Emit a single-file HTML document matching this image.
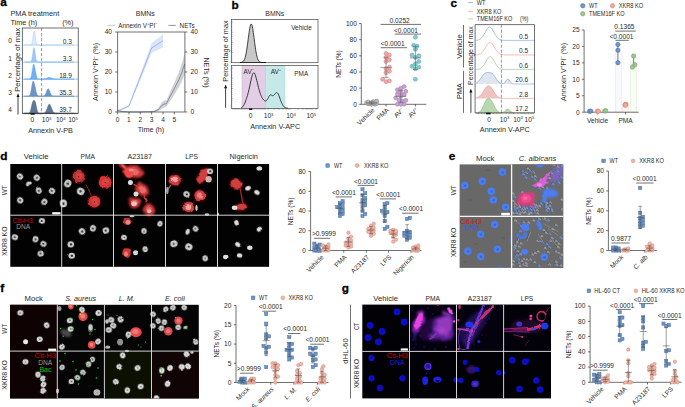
<!DOCTYPE html>
<html lang="en"><head><meta charset="utf-8"><title>Figure</title>
<style>
html,body{margin:0;padding:0;background:#fff;}
body{width:685px;height:407px;overflow:hidden;}
svg{display:block;font-family:"Liberation Sans", Arial, sans-serif;}
</style></head><body>
<svg width="685" height="407" viewBox="0 0 685 407">
<defs>
<filter id="b1" x="-30%" y="-30%" width="160%" height="160%"><feGaussianBlur stdDeviation="0.45"/></filter>
<filter id="b2" x="-30%" y="-30%" width="160%" height="160%"><feGaussianBlur stdDeviation="0.6"/></filter>
<filter id="b3" x="-30%" y="-30%" width="160%" height="160%"><feGaussianBlur stdDeviation="1.1"/></filter>
<radialGradient id="gRed"><stop offset="0" stop-color="#ff7070"/><stop offset="0.6" stop-color="#e83a3a"/><stop offset="1" stop-color="#a01515" stop-opacity="0.7"/></radialGradient>
<radialGradient id="gBlue"><stop offset="0" stop-color="#5a90ff"/><stop offset="0.7" stop-color="#3a6cf0"/><stop offset="1" stop-color="#3a60d0" stop-opacity="0.7"/></radialGradient>
<radialGradient id="gBlue2"><stop offset="0" stop-color="#2a30ff"/><stop offset="0.7" stop-color="#1018e8"/><stop offset="1" stop-color="#0808a0" stop-opacity="0.8"/></radialGradient>
<filter id="o1" x="-30%" y="-30%" width="160%" height="160%"><feTurbulence type="fractalNoise" baseFrequency="0.22" numOctaves="2" seed="3" result="n"/><feDisplacementMap in="SourceGraphic" in2="n" scale="3.2" xChannelSelector="R" yChannelSelector="G"/><feGaussianBlur stdDeviation="0.55"/></filter>
<filter id="o2" x="-30%" y="-30%" width="160%" height="160%"><feTurbulence type="fractalNoise" baseFrequency="0.13" numOctaves="2" seed="8" result="n"/><feDisplacementMap in="SourceGraphic" in2="n" scale="6" xChannelSelector="R" yChannelSelector="G"/><feGaussianBlur stdDeviation="0.9"/></filter>
<filter id="o3" x="-30%" y="-30%" width="160%" height="160%"><feTurbulence type="fractalNoise" baseFrequency="0.1" numOctaves="2" seed="5" result="n"/><feDisplacementMap in="SourceGraphic" in2="n" scale="8" xChannelSelector="R" yChannelSelector="G"/><feGaussianBlur stdDeviation="1.5"/></filter>
<filter id="o0" x="-30%" y="-30%" width="160%" height="160%"><feTurbulence type="fractalNoise" baseFrequency="0.3" numOctaves="2" seed="2" result="n"/><feDisplacementMap in="SourceGraphic" in2="n" scale="1.7" xChannelSelector="R" yChannelSelector="G"/><feGaussianBlur stdDeviation="0.4"/></filter>
</defs>

<rect width="685" height="407" fill="#fff"/>
<text x="0.30" y="6.25" font-size="11.8" fill="#000" font-weight="bold" stroke="#000" stroke-width="0.3">a</text>
<text x="10.40" y="16.46" font-size="7.4" fill="#2a2a2a" >PMA treatment</text>
<text x="10.40" y="25.23" font-size="7.3" fill="#2a2a2a" >Time (h)</text>
<text x="62.20" y="25.23" font-size="7.3" fill="#2a2a2a" >(%)</text>
<path d="M24.30,45.06 L24.75,45.06 L25.21,45.06 L25.66,45.06 L26.11,45.06 L26.57,45.06 L27.02,45.06 L27.48,45.06 L27.93,45.06 L28.38,45.06 L28.84,45.06 L29.29,45.06 L29.74,45.06 L30.20,45.04 L30.65,44.98 L31.10,44.79 L31.56,44.27 L32.01,43.10 L32.47,40.96 L32.92,37.85 L33.37,34.36 L33.83,31.66 L34.28,30.90 L34.73,32.44 L35.19,35.57 L35.64,39.04 L36.09,41.84 L36.55,43.61 L37.00,44.51 L37.46,44.88 L37.91,45.01 L38.36,45.05 L38.82,45.06 L39.27,45.06 L39.72,45.06 L40.18,45.06 L40.63,45.06 L41.08,45.06 L41.54,45.06 L41.99,45.06 L42.45,45.06 L42.90,45.06 L43.35,45.06 L43.81,45.06 L44.26,45.06 L44.71,45.06 L45.17,45.06 L45.62,45.06 L46.07,45.06 L46.53,45.06 L46.98,45.06 L47.44,45.06 L47.89,45.06 L48.34,45.06 L48.80,45.06 L49.25,45.06 L49.70,45.06 L50.16,45.06 L50.61,45.06 L51.06,45.06 L51.52,45.06 L51.97,45.06 L52.43,45.06 L52.88,45.06 L53.33,45.06 L53.79,45.06 L54.24,45.06 L54.69,45.06 L55.15,45.06 L55.60,45.06 L56.05,45.06 L56.51,45.06 L56.96,45.06 L57.42,45.06 L57.87,45.06 L58.32,45.06 L58.78,45.06 L59.23,45.06 L59.68,45.06 L60.14,45.06 L60.59,45.06 L61.04,45.06 L61.50,45.06 L61.95,45.06 L62.41,45.06 L62.86,45.06 L63.31,45.06 L63.77,45.06 L64.22,45.06 L64.67,45.06 L65.13,45.06 L65.58,45.06 L66.03,45.06 L66.49,45.06 L66.94,45.06 L67.40,45.06 L67.85,45.06 L68.30,45.06 L68.76,45.06 L69.21,45.06 L69.66,45.06 L70.12,45.06 L70.57,45.06 L71.02,45.06 L71.48,45.06 L71.93,45.06 L72.39,45.06 L72.84,45.06 L73.29,45.06 L73.75,45.06 L74.20,45.06 L74.20,45.06 L24.30,45.06 Z" fill="#dcebfb" stroke="#a9cdf3" stroke-width="0.5" />
<line x1="22.30" y1="45.06" x2="78.20" y2="45.06" stroke="#a9cdf3" stroke-width="0.6" />
<text x="72.00" y="43.84" font-size="6.6" text-anchor="end" fill="#2a2a2a" >0.3</text>
<text x="10.20" y="43.44" font-size="6.6" text-anchor="middle" fill="#2a2a2a" >0</text>
<path d="M24.30,62.12 L24.75,62.12 L25.21,62.12 L25.66,62.12 L26.11,62.12 L26.57,62.12 L27.02,62.12 L27.48,62.12 L27.93,62.12 L28.38,62.12 L28.84,62.12 L29.29,62.12 L29.74,62.10 L30.20,62.06 L30.65,61.91 L31.10,61.51 L31.56,60.59 L32.01,58.84 L32.47,56.13 L32.92,52.73 L33.37,49.54 L33.83,47.69 L34.28,47.95 L34.73,50.21 L35.19,53.55 L35.64,56.84 L36.09,59.34 L36.55,60.87 L37.00,61.64 L37.46,61.96 L37.91,62.07 L38.36,62.11 L38.82,62.12 L39.27,62.12 L39.72,62.12 L40.18,62.12 L40.63,62.12 L41.08,62.12 L41.54,62.12 L41.99,62.12 L42.45,62.12 L42.90,62.12 L43.35,62.12 L43.81,62.12 L44.26,62.12 L44.71,62.12 L45.17,62.12 L45.62,62.12 L46.07,62.12 L46.53,62.12 L46.98,62.12 L47.44,62.12 L47.89,62.12 L48.34,62.12 L48.80,62.12 L49.25,62.12 L49.70,62.12 L50.16,62.12 L50.61,62.12 L51.06,62.12 L51.52,62.12 L51.97,62.12 L52.43,62.12 L52.88,62.12 L53.33,62.12 L53.79,62.12 L54.24,62.12 L54.69,62.12 L55.15,62.12 L55.60,62.12 L56.05,62.12 L56.51,62.12 L56.96,62.12 L57.42,62.12 L57.87,62.12 L58.32,62.12 L58.78,62.12 L59.23,62.12 L59.68,62.12 L60.14,62.12 L60.59,62.12 L61.04,62.12 L61.50,62.12 L61.95,62.12 L62.41,62.12 L62.86,62.12 L63.31,62.12 L63.77,62.12 L64.22,62.12 L64.67,62.12 L65.13,62.12 L65.58,62.12 L66.03,62.12 L66.49,62.12 L66.94,62.12 L67.40,62.12 L67.85,62.12 L68.30,62.12 L68.76,62.12 L69.21,62.12 L69.66,62.12 L70.12,62.12 L70.57,62.12 L71.02,62.12 L71.48,62.12 L71.93,62.12 L72.39,62.12 L72.84,62.12 L73.29,62.12 L73.75,62.12 L74.20,62.12 L74.20,62.12 L24.30,62.12 Z" fill="#9ec8f5" stroke="#7fb6f0" stroke-width="0.5" />
<line x1="22.30" y1="62.12" x2="78.20" y2="62.12" stroke="#7fb6f0" stroke-width="0.6" />
<text x="72.00" y="60.90" font-size="6.6" text-anchor="end" fill="#2a2a2a" >3.3</text>
<text x="10.20" y="60.50" font-size="6.6" text-anchor="middle" fill="#2a2a2a" >1</text>
<path d="M24.30,79.18 L24.75,79.18 L25.21,79.18 L25.66,79.18 L26.11,79.18 L26.57,79.18 L27.02,79.18 L27.48,79.18 L27.93,79.18 L28.38,79.18 L28.84,79.16 L29.29,79.12 L29.74,79.00 L30.20,78.71 L30.65,78.07 L31.10,76.87 L31.56,74.93 L32.01,72.25 L32.47,69.17 L32.92,66.34 L33.37,64.49 L33.83,64.06 L34.28,65.02 L34.73,66.96 L35.19,69.39 L35.64,71.95 L36.09,74.35 L36.55,76.33 L37.00,77.73 L37.46,78.56 L37.91,78.96 L38.36,79.11 L38.82,79.16 L39.27,79.18 L39.72,79.18 L40.18,79.18 L40.63,79.18 L41.08,79.17 L41.54,79.17 L41.99,79.16 L42.45,79.14 L42.90,79.12 L43.35,79.08 L43.81,79.03 L44.26,78.96 L44.71,78.86 L45.17,78.75 L45.62,78.60 L46.07,78.44 L46.53,78.26 L46.98,78.07 L47.44,77.89 L47.89,77.73 L48.34,77.60 L48.80,77.51 L49.25,77.48 L49.70,77.50 L50.16,77.58 L50.61,77.70 L51.06,77.85 L51.52,78.03 L51.97,78.22 L52.43,78.40 L52.88,78.57 L53.33,78.72 L53.79,78.84 L54.24,78.94 L54.69,79.01 L55.15,79.07 L55.60,79.11 L56.05,79.14 L56.51,79.15 L56.96,79.16 L57.42,79.17 L57.87,79.18 L58.32,79.18 L58.78,79.18 L59.23,79.18 L59.68,79.18 L60.14,79.18 L60.59,79.18 L61.04,79.18 L61.50,79.18 L61.95,79.18 L62.41,79.18 L62.86,79.18 L63.31,79.18 L63.77,79.18 L64.22,79.18 L64.67,79.18 L65.13,79.18 L65.58,79.18 L66.03,79.18 L66.49,79.18 L66.94,79.18 L67.40,79.18 L67.85,79.18 L68.30,79.18 L68.76,79.18 L69.21,79.18 L69.66,79.18 L70.12,79.18 L70.57,79.18 L71.02,79.18 L71.48,79.18 L71.93,79.18 L72.39,79.18 L72.84,79.18 L73.29,79.18 L73.75,79.18 L74.20,79.18 L74.20,79.18 L24.30,79.18 Z" fill="#6fb1f2" stroke="#5aa4ee" stroke-width="0.5" />
<line x1="22.30" y1="79.18" x2="78.20" y2="79.18" stroke="#5aa4ee" stroke-width="0.6" />
<text x="72.00" y="77.96" font-size="6.6" text-anchor="end" fill="#2a2a2a" >18.9</text>
<text x="10.20" y="77.56" font-size="6.6" text-anchor="middle" fill="#2a2a2a" >2</text>
<path d="M24.30,96.24 L24.75,96.24 L25.21,96.24 L25.66,96.24 L26.11,96.24 L26.57,96.24 L27.02,96.24 L27.48,96.24 L27.93,96.23 L28.38,96.20 L28.84,96.12 L29.29,95.91 L29.74,95.45 L30.20,94.54 L30.65,93.01 L31.10,90.78 L31.56,88.01 L32.01,85.14 L32.47,82.75 L32.92,81.33 L33.37,81.06 L33.83,81.80 L34.28,83.24 L34.73,85.11 L35.19,87.23 L35.64,89.41 L36.09,91.47 L36.55,93.21 L37.00,94.50 L37.46,95.35 L37.91,95.83 L38.36,96.07 L38.82,96.18 L39.27,96.22 L39.72,96.23 L40.18,96.24 L40.63,96.24 L41.08,96.24 L41.54,96.24 L41.99,96.23 L42.45,96.22 L42.90,96.18 L43.35,96.11 L43.81,95.98 L44.26,95.74 L44.71,95.34 L45.17,94.73 L45.62,93.90 L46.07,92.85 L46.53,91.68 L46.98,90.52 L47.44,89.55 L47.89,88.96 L48.34,88.87 L48.80,89.28 L49.25,90.13 L49.70,91.24 L50.16,92.43 L50.61,93.53 L51.06,94.45 L51.52,95.14 L51.97,95.61 L52.43,95.90 L52.88,96.07 L53.33,96.16 L53.79,96.21 L54.24,96.23 L54.69,96.23 L55.15,96.24 L55.60,96.24 L56.05,96.24 L56.51,96.24 L56.96,96.24 L57.42,96.24 L57.87,96.24 L58.32,96.24 L58.78,96.24 L59.23,96.24 L59.68,96.24 L60.14,96.24 L60.59,96.24 L61.04,96.24 L61.50,96.24 L61.95,96.24 L62.41,96.24 L62.86,96.24 L63.31,96.24 L63.77,96.24 L64.22,96.24 L64.67,96.24 L65.13,96.24 L65.58,96.24 L66.03,96.24 L66.49,96.24 L66.94,96.24 L67.40,96.24 L67.85,96.24 L68.30,96.24 L68.76,96.24 L69.21,96.24 L69.66,96.24 L70.12,96.24 L70.57,96.24 L71.02,96.24 L71.48,96.24 L71.93,96.24 L72.39,96.24 L72.84,96.24 L73.29,96.24 L73.75,96.24 L74.20,96.24 L74.20,96.24 L24.30,96.24 Z" fill="#6d95c8" stroke="#5b86bd" stroke-width="0.5" />
<line x1="22.30" y1="96.24" x2="78.20" y2="96.24" stroke="#5b86bd" stroke-width="0.6" />
<text x="72.00" y="95.02" font-size="6.6" text-anchor="end" fill="#2a2a2a" >35.3</text>
<text x="10.20" y="94.62" font-size="6.6" text-anchor="middle" fill="#2a2a2a" >3</text>
<path d="M24.30,113.30 L24.75,113.30 L25.21,113.30 L25.66,113.30 L26.11,113.30 L26.57,113.30 L27.02,113.30 L27.48,113.29 L27.93,113.26 L28.38,113.20 L28.84,113.07 L29.29,112.78 L29.74,112.26 L30.20,111.38 L30.65,110.07 L31.10,108.34 L31.56,106.32 L32.01,104.30 L32.47,102.57 L32.92,101.37 L33.37,100.71 L33.83,100.46 L34.28,100.48 L34.73,100.80 L35.19,101.63 L35.64,103.12 L36.09,105.22 L36.55,107.57 L37.00,109.70 L37.46,111.32 L37.91,112.35 L38.36,112.90 L38.82,113.16 L39.27,113.25 L39.72,113.29 L40.18,113.30 L40.63,113.30 L41.08,113.30 L41.54,113.30 L41.99,113.29 L42.45,113.28 L42.90,113.25 L43.35,113.20 L43.81,113.12 L44.26,112.96 L44.71,112.71 L45.17,112.32 L45.62,111.76 L46.07,110.99 L46.53,110.02 L46.98,108.87 L47.44,107.62 L47.89,106.38 L48.34,105.30 L48.80,104.51 L49.25,104.13 L49.70,104.21 L50.16,104.74 L50.61,105.64 L51.06,106.79 L51.52,108.05 L51.97,109.28 L52.43,110.37 L52.88,111.27 L53.33,111.97 L53.79,112.47 L54.24,112.81 L54.69,113.02 L55.15,113.15 L55.60,113.22 L56.05,113.26 L56.51,113.28 L56.96,113.29 L57.42,113.30 L57.87,113.30 L58.32,113.30 L58.78,113.30 L59.23,113.30 L59.68,113.30 L60.14,113.30 L60.59,113.30 L61.04,113.30 L61.50,113.30 L61.95,113.30 L62.41,113.30 L62.86,113.30 L63.31,113.30 L63.77,113.30 L64.22,113.30 L64.67,113.30 L65.13,113.30 L65.58,113.30 L66.03,113.30 L66.49,113.30 L66.94,113.30 L67.40,113.30 L67.85,113.30 L68.30,113.30 L68.76,113.30 L69.21,113.30 L69.66,113.30 L70.12,113.30 L70.57,113.30 L71.02,113.30 L71.48,113.30 L71.93,113.30 L72.39,113.30 L72.84,113.30 L73.29,113.30 L73.75,113.30 L74.20,113.30 L74.20,113.30 L24.30,113.30 Z" fill="#5e7896" stroke="#4c6685" stroke-width="0.5" />
<line x1="22.30" y1="113.30" x2="78.20" y2="113.30" stroke="#333" stroke-width="0.6" />
<text x="72.00" y="112.08" font-size="6.6" text-anchor="end" fill="#2a2a2a" >39.7</text>
<text x="10.20" y="111.68" font-size="6.6" text-anchor="middle" fill="#2a2a2a" >4</text>
<line x1="41.60" y1="28.00" x2="41.60" y2="113.30" stroke="#555" stroke-width="0.6" stroke-dasharray="3.2 1.8"/>
<rect x="22.30" y="28.00" width="55.90" height="85.30" fill="none" stroke="#333" stroke-width="0.7" />
<line x1="24.00" y1="113.30" x2="24.00" y2="114.50" stroke="#333" stroke-width="0.4" />
<line x1="25.50" y1="113.30" x2="25.50" y2="114.50" stroke="#333" stroke-width="0.4" />
<line x1="27.00" y1="113.30" x2="27.00" y2="114.50" stroke="#333" stroke-width="0.4" />
<line x1="28.50" y1="113.30" x2="28.50" y2="114.50" stroke="#333" stroke-width="0.4" />
<line x1="30.00" y1="113.30" x2="30.00" y2="114.50" stroke="#333" stroke-width="0.4" />
<line x1="31.50" y1="113.30" x2="31.50" y2="114.50" stroke="#333" stroke-width="0.4" />
<line x1="33.00" y1="113.30" x2="33.00" y2="114.50" stroke="#333" stroke-width="0.4" />
<line x1="34.50" y1="113.30" x2="34.50" y2="114.50" stroke="#333" stroke-width="0.4" />
<line x1="36.00" y1="113.30" x2="36.00" y2="114.50" stroke="#333" stroke-width="0.4" />
<line x1="37.50" y1="113.30" x2="37.50" y2="114.50" stroke="#333" stroke-width="0.4" />
<line x1="39.00" y1="113.30" x2="39.00" y2="114.50" stroke="#333" stroke-width="0.4" />
<line x1="40.00" y1="113.30" x2="40.00" y2="114.50" stroke="#333" stroke-width="0.4" />
<line x1="41.00" y1="113.30" x2="41.00" y2="114.50" stroke="#333" stroke-width="0.4" />
<line x1="42.00" y1="113.30" x2="42.00" y2="114.50" stroke="#333" stroke-width="0.4" />
<line x1="46.00" y1="113.30" x2="46.00" y2="114.50" stroke="#333" stroke-width="0.4" />
<line x1="50.00" y1="113.30" x2="50.00" y2="114.50" stroke="#333" stroke-width="0.4" />
<line x1="53.00" y1="113.30" x2="53.00" y2="114.50" stroke="#333" stroke-width="0.4" />
<line x1="55.00" y1="113.30" x2="55.00" y2="114.50" stroke="#333" stroke-width="0.4" />
<line x1="56.50" y1="113.30" x2="56.50" y2="114.50" stroke="#333" stroke-width="0.4" />
<line x1="58.00" y1="113.30" x2="58.00" y2="114.50" stroke="#333" stroke-width="0.4" />
<line x1="61.00" y1="113.30" x2="61.00" y2="114.50" stroke="#333" stroke-width="0.4" />
<line x1="64.00" y1="113.30" x2="64.00" y2="114.50" stroke="#333" stroke-width="0.4" />
<line x1="66.00" y1="113.30" x2="66.00" y2="114.50" stroke="#333" stroke-width="0.4" />
<line x1="67.50" y1="113.30" x2="67.50" y2="114.50" stroke="#333" stroke-width="0.4" />
<line x1="69.00" y1="113.30" x2="69.00" y2="114.50" stroke="#333" stroke-width="0.4" />
<line x1="72.00" y1="113.30" x2="72.00" y2="114.50" stroke="#333" stroke-width="0.4" />
<line x1="74.50" y1="113.30" x2="74.50" y2="114.50" stroke="#333" stroke-width="0.4" />
<line x1="76.00" y1="113.30" x2="76.00" y2="114.50" stroke="#333" stroke-width="0.4" />
<rect x="30.50" y="113.10" width="4.20" height="1.60" fill="#111" stroke="none" stroke-width="0.7" />
<text x="17.40" y="62.55" font-size="7.65" text-anchor="middle" fill="#2a2a2a" transform="rotate(-90 17.40 59.80)" >Percentage of max</text>
<line x1="18.00" y1="114.50" x2="18.00" y2="96.00" stroke="#111" stroke-width="0.8" />
<path d="M16.5,97 L18.0,93.2 L19.5,97 Z" fill="#111" stroke="none" stroke-width="0.7" />
<text x="32.30" y="122.28" font-size="6.6" text-anchor="middle" fill="#2a2a2a" >0</text>
<text x="46.60" y="122.28" font-size="6.6" text-anchor="middle" fill="#2a2a2a" >10<tspan font-size="4.2" dy="-2.4">3</tspan></text>
<text x="60.80" y="122.28" font-size="6.6" text-anchor="middle" fill="#2a2a2a" >10<tspan font-size="4.2" dy="-2.4">4</tspan></text>
<text x="73.00" y="122.28" font-size="6.6" text-anchor="middle" fill="#2a2a2a" >10<tspan font-size="4.2" dy="-2.4">5</tspan></text>
<text x="50.50" y="133.11" font-size="7.25" text-anchor="middle" fill="#2a2a2a" >Annexin V-PB</text>
<text x="145.20" y="16.26" font-size="7.4" text-anchor="middle" fill="#2a2a2a" textLength="18.90" lengthAdjust="spacingAndGlyphs" >BMNs</text>
<line x1="107.30" y1="25.40" x2="115.00" y2="25.40" stroke="#a9c0ee" stroke-width="0.8" />
<text x="118.20" y="27.67" font-size="6.3" fill="#2a2a2a" >Annexin V<tspan font-size="4.2" dy="-2.4">+</tspan><tspan dy="2.4">PI</tspan><tspan font-size="4.2" dy="-2.4">−</tspan></text>
<line x1="168.40" y1="25.40" x2="175.90" y2="25.40" stroke="#5f79a8" stroke-width="0.8" />
<text x="179.60" y="27.67" font-size="6.3" fill="#2a2a2a" >NETs</text>
<path d="M117.60,110.20 L128.96,105.00 L151.68,43.00 L163.04,34.40 L163.04,47.20 L151.68,53.00 L128.96,107.00 L117.60,111.80 Z" fill="#dbe4f8" stroke="none" stroke-width="0.7" />
<path d="M117.60,111.00 L128.96,106.00 L151.68,48.00 L163.04,40.80" fill="none" stroke="#8fa9e8" stroke-width="0.8" />
<path d="M117.60,109.20 L122.14,111.20 L128.96,111.80 L140.32,111.80 L149.41,111.40 L153.95,110.80 L158.50,108.00 L161.90,102.20 L164.18,100.40 L166.45,100.40 L169.86,92.60 L174.40,82.40 L178.94,72.00 L182.35,61.80 L184.62,53.20 L184.62,74.80 L182.35,80.20 L178.94,87.20 L174.40,94.40 L169.86,101.40 L166.45,106.80 L164.18,107.60 L161.90,108.60 L158.50,111.20 L153.95,112.00 L149.41,112.00 L140.32,112.00 L128.96,112.00 L122.14,112.00 L117.60,111.20 Z" fill="#d2d2d2" stroke="none" stroke-width="0.7" />
<path d="M117.60,110.20 L122.14,111.60 L128.96,112.00 L140.32,112.00 L149.41,111.80 L153.95,111.60 L158.50,109.60 L161.90,105.40 L164.18,104.00 L166.45,103.60 L169.86,97.00 L174.40,88.40 L178.94,79.60 L182.35,71.00 L184.62,64.00" fill="none" stroke="#64799f" stroke-width="0.75" />
<line x1="117.60" y1="32.00" x2="117.60" y2="112.00" stroke="#333" stroke-width="0.7" />
<line x1="184.90" y1="32.00" x2="184.90" y2="112.00" stroke="#333" stroke-width="0.7" />
<line x1="117.60" y1="112.00" x2="184.90" y2="112.00" stroke="#333" stroke-width="0.7" />
<line x1="117.60" y1="32.00" x2="184.90" y2="32.00" stroke="#333" stroke-width="0.7" />
<line x1="115.20" y1="112.00" x2="117.60" y2="112.00" stroke="#333" stroke-width="0.7" />
<line x1="184.90" y1="112.00" x2="187.30" y2="112.00" stroke="#333" stroke-width="0.7" />
<text x="112.00" y="114.38" font-size="6.6" text-anchor="end" fill="#2a2a2a" >0</text>
<text x="190.60" y="114.38" font-size="6.6" fill="#2a2a2a" >0</text>
<line x1="115.20" y1="92.00" x2="117.60" y2="92.00" stroke="#333" stroke-width="0.7" />
<line x1="184.90" y1="92.00" x2="187.30" y2="92.00" stroke="#333" stroke-width="0.7" />
<text x="112.00" y="94.38" font-size="6.6" text-anchor="end" fill="#2a2a2a" >10</text>
<text x="190.60" y="94.38" font-size="6.6" fill="#2a2a2a" >10</text>
<line x1="115.20" y1="72.00" x2="117.60" y2="72.00" stroke="#333" stroke-width="0.7" />
<line x1="184.90" y1="72.00" x2="187.30" y2="72.00" stroke="#333" stroke-width="0.7" />
<text x="112.00" y="74.38" font-size="6.6" text-anchor="end" fill="#2a2a2a" >20</text>
<text x="190.60" y="74.38" font-size="6.6" fill="#2a2a2a" >20</text>
<line x1="115.20" y1="52.00" x2="117.60" y2="52.00" stroke="#333" stroke-width="0.7" />
<line x1="184.90" y1="52.00" x2="187.30" y2="52.00" stroke="#333" stroke-width="0.7" />
<text x="112.00" y="54.38" font-size="6.6" text-anchor="end" fill="#2a2a2a" >30</text>
<text x="190.60" y="54.38" font-size="6.6" fill="#2a2a2a" >30</text>
<line x1="115.20" y1="32.00" x2="117.60" y2="32.00" stroke="#333" stroke-width="0.7" />
<line x1="184.90" y1="32.00" x2="187.30" y2="32.00" stroke="#333" stroke-width="0.7" />
<text x="112.00" y="34.38" font-size="6.6" text-anchor="end" fill="#2a2a2a" >40</text>
<text x="190.60" y="34.38" font-size="6.6" fill="#2a2a2a" >40</text>
<line x1="117.60" y1="112.00" x2="117.60" y2="114.40" stroke="#333" stroke-width="0.7" />
<text x="117.60" y="121.68" font-size="6.6" text-anchor="middle" fill="#2a2a2a" >0</text>
<line x1="128.96" y1="112.00" x2="128.96" y2="114.40" stroke="#333" stroke-width="0.7" />
<text x="128.96" y="121.68" font-size="6.6" text-anchor="middle" fill="#2a2a2a" >1</text>
<line x1="140.32" y1="112.00" x2="140.32" y2="114.40" stroke="#333" stroke-width="0.7" />
<text x="140.32" y="121.68" font-size="6.6" text-anchor="middle" fill="#2a2a2a" >2</text>
<line x1="151.68" y1="112.00" x2="151.68" y2="114.40" stroke="#333" stroke-width="0.7" />
<text x="151.68" y="121.68" font-size="6.6" text-anchor="middle" fill="#2a2a2a" >3</text>
<line x1="163.04" y1="112.00" x2="163.04" y2="114.40" stroke="#333" stroke-width="0.7" />
<text x="163.04" y="121.68" font-size="6.6" text-anchor="middle" fill="#2a2a2a" >4</text>
<line x1="174.40" y1="112.00" x2="174.40" y2="114.40" stroke="#333" stroke-width="0.7" />
<text x="174.40" y="121.68" font-size="6.6" text-anchor="middle" fill="#2a2a2a" >5</text>
<text x="151.00" y="132.49" font-size="7.2" text-anchor="middle" fill="#2a2a2a" >Time (h)</text>
<text x="95.60" y="74.59" font-size="7.2" text-anchor="middle" fill="#2a2a2a" transform="rotate(-90 95.60 72.00)" >Annexin V<tspan font-size="4.6" dy="-2.6">+</tspan><tspan dy="2.6">PI</tspan><tspan font-size="4.6" dy="-2.6">−</tspan><tspan dy="2.6"> (%)</tspan></text>
<text x="206.20" y="75.19" font-size="7.2" text-anchor="middle" fill="#2a2a2a" transform="rotate(90 206.20 72.60)" >NETs (%)</text>
<text x="231.60" y="9.05" font-size="11.8" fill="#000" font-weight="bold" stroke="#000" stroke-width="0.3">b</text>
<text x="274.80" y="15.66" font-size="7.4" text-anchor="middle" fill="#2a2a2a" textLength="18.90" lengthAdjust="spacingAndGlyphs" >BMNs</text>
<rect x="231.50" y="19.60" width="86.50" height="43.10" fill="none" stroke="#444" stroke-width="0.7" />
<path d="M240.00,62.46 L240.32,62.45 L240.65,62.42 L240.97,62.38 L241.30,62.33 L241.62,62.26 L241.95,62.17 L242.28,62.04 L242.60,61.87 L242.93,61.64 L243.25,61.35 L243.57,60.98 L243.90,60.51 L244.22,59.92 L244.55,59.20 L244.88,58.33 L245.20,57.29 L245.53,56.07 L245.85,54.65 L246.18,53.03 L246.50,51.22 L246.82,49.21 L247.15,47.02 L247.47,44.69 L247.80,42.24 L248.12,39.73 L248.45,37.21 L248.78,34.73 L249.10,32.37 L249.43,30.18 L249.75,28.24 L250.07,26.61 L250.40,25.34 L250.72,24.48 L251.05,24.05 L251.38,24.07 L251.70,24.53 L252.03,25.43 L252.35,26.73 L252.68,28.38 L253.00,30.34 L253.32,32.54 L253.65,34.92 L253.97,37.40 L254.30,39.93 L254.62,42.44 L254.95,44.87 L255.28,47.20 L255.60,49.37 L255.93,51.36 L256.25,53.16 L256.57,54.77 L256.90,56.17 L257.23,57.38 L257.55,58.40 L257.88,59.26 L258.20,59.97 L258.52,60.55 L258.85,61.01 L259.18,61.38 L259.50,61.66 L259.82,61.88 L260.15,62.05 L260.48,62.18 L260.80,62.27 L261.12,62.34 L261.45,62.39 L261.77,62.42 L262.10,62.45 L262.43,62.46 L262.75,62.48 L263.07,62.48 L263.40,62.49 L263.73,62.49 L264.05,62.50 L264.38,62.50 L264.70,62.50 L265.02,62.50 L265.35,62.50 L265.68,62.50 L266.00,62.50 L266.00,62.50 L240.00,62.50 Z" fill="#c8c8c8" stroke="#111" stroke-width="0.8" />
<text x="291.20" y="30.20" font-size="6.4" fill="#2a2a2a" >Vehicle</text>
<rect x="242.00" y="65.40" width="23.40" height="43.20" fill="#e2cfe6" stroke="none" stroke-width="0.7" />
<rect x="265.40" y="65.40" width="19.50" height="43.20" fill="#c5e9e9" stroke="none" stroke-width="0.7" />
<line x1="242.00" y1="65.40" x2="242.00" y2="108.60" stroke="#bfa5c6" stroke-width="0.5" />
<line x1="265.40" y1="65.40" x2="265.40" y2="108.60" stroke="#a9b9bd" stroke-width="0.5" />
<line x1="284.90" y1="65.40" x2="284.90" y2="108.60" stroke="#a5cfd0" stroke-width="0.5" />
<path d="M241.00,107.86 L241.43,107.69 L241.85,107.46 L242.28,107.15 L242.71,106.74 L243.14,106.24 L243.56,105.62 L243.99,104.89 L244.42,104.04 L244.85,103.09 L245.27,102.03 L245.70,100.89 L246.13,99.68 L246.55,98.39 L246.98,97.04 L247.41,95.62 L247.84,94.11 L248.26,92.50 L248.69,90.79 L249.12,88.98 L249.55,87.06 L249.97,85.07 L250.40,83.04 L250.83,81.02 L251.25,79.08 L251.68,77.30 L252.11,75.73 L252.54,74.45 L252.96,73.50 L253.39,72.94 L253.82,72.77 L254.25,72.99 L254.67,73.59 L255.10,74.53 L255.53,75.75 L255.95,77.21 L256.38,78.83 L256.81,80.56 L257.24,82.34 L257.66,84.12 L258.09,85.87 L258.52,87.56 L258.95,89.16 L259.37,90.66 L259.80,92.06 L260.23,93.35 L260.65,94.53 L261.08,95.61 L261.51,96.58 L261.94,97.45 L262.36,98.22 L262.79,98.90 L263.22,99.48 L263.65,99.98 L264.07,100.38 L264.50,100.68 L264.93,100.89 L265.35,100.97 L265.78,100.93 L266.21,100.73 L266.64,100.38 L267.06,99.87 L267.49,99.21 L267.92,98.44 L268.35,97.62 L268.77,96.80 L269.20,96.07 L269.63,95.49 L270.05,95.10 L270.48,94.92 L270.91,94.94 L271.34,95.10 L271.76,95.33 L272.19,95.56 L272.62,95.70 L273.05,95.71 L273.47,95.55 L273.90,95.23 L274.33,94.77 L274.75,94.24 L275.18,93.69 L275.61,93.19 L276.04,92.81 L276.46,92.61 L276.89,92.61 L277.32,92.84 L277.75,93.29 L278.17,93.97 L278.60,94.84 L279.03,95.85 L279.45,96.98 L279.88,98.18 L280.31,99.39 L280.74,100.59 L281.16,101.73 L281.59,102.80 L282.02,103.76 L282.45,104.61 L282.87,105.35 L283.30,105.97 L283.73,106.49 L284.15,106.91 L284.58,107.24 L285.01,107.50 L285.44,107.70 L285.86,107.84 L286.29,107.95 L286.72,108.03 L287.15,108.09 L287.57,108.12 L288.00,108.15" fill="none" stroke="#111" stroke-width="0.8" />
<rect x="231.50" y="65.40" width="86.50" height="43.20" fill="none" stroke="#444" stroke-width="0.7" />
<text x="243.60" y="73.50" font-size="6.4" fill="#2a2a2a" >AV<tspan font-size="4.2" dy="-2.4">−</tspan></text>
<text x="270.80" y="73.50" font-size="6.4" fill="#2a2a2a" >AV<tspan font-size="4.2" dy="-2.4">+</tspan></text>
<text x="301.30" y="76.30" font-size="6.4" text-anchor="middle" fill="#2a2a2a" >PMA</text>
<line x1="231.50" y1="22.00" x2="233.10" y2="22.00" stroke="#333" stroke-width="0.4" />
<line x1="231.50" y1="24.05" x2="232.40" y2="24.05" stroke="#333" stroke-width="0.4" />
<line x1="231.50" y1="26.10" x2="232.40" y2="26.10" stroke="#333" stroke-width="0.4" />
<line x1="231.50" y1="28.15" x2="232.40" y2="28.15" stroke="#333" stroke-width="0.4" />
<line x1="231.50" y1="30.20" x2="232.40" y2="30.20" stroke="#333" stroke-width="0.4" />
<line x1="231.50" y1="32.25" x2="233.10" y2="32.25" stroke="#333" stroke-width="0.4" />
<line x1="231.50" y1="34.30" x2="232.40" y2="34.30" stroke="#333" stroke-width="0.4" />
<line x1="231.50" y1="36.35" x2="232.40" y2="36.35" stroke="#333" stroke-width="0.4" />
<line x1="231.50" y1="38.40" x2="232.40" y2="38.40" stroke="#333" stroke-width="0.4" />
<line x1="231.50" y1="40.45" x2="232.40" y2="40.45" stroke="#333" stroke-width="0.4" />
<line x1="231.50" y1="42.50" x2="233.10" y2="42.50" stroke="#333" stroke-width="0.4" />
<line x1="231.50" y1="44.55" x2="232.40" y2="44.55" stroke="#333" stroke-width="0.4" />
<line x1="231.50" y1="46.60" x2="232.40" y2="46.60" stroke="#333" stroke-width="0.4" />
<line x1="231.50" y1="48.65" x2="232.40" y2="48.65" stroke="#333" stroke-width="0.4" />
<line x1="231.50" y1="50.70" x2="232.40" y2="50.70" stroke="#333" stroke-width="0.4" />
<line x1="231.50" y1="52.75" x2="233.10" y2="52.75" stroke="#333" stroke-width="0.4" />
<line x1="231.50" y1="54.80" x2="232.40" y2="54.80" stroke="#333" stroke-width="0.4" />
<line x1="231.50" y1="56.85" x2="232.40" y2="56.85" stroke="#333" stroke-width="0.4" />
<line x1="231.50" y1="58.90" x2="232.40" y2="58.90" stroke="#333" stroke-width="0.4" />
<line x1="231.50" y1="60.95" x2="232.40" y2="60.95" stroke="#333" stroke-width="0.4" />
<line x1="231.50" y1="68.00" x2="233.10" y2="68.00" stroke="#333" stroke-width="0.4" />
<line x1="231.50" y1="70.05" x2="232.40" y2="70.05" stroke="#333" stroke-width="0.4" />
<line x1="231.50" y1="72.10" x2="232.40" y2="72.10" stroke="#333" stroke-width="0.4" />
<line x1="231.50" y1="74.15" x2="232.40" y2="74.15" stroke="#333" stroke-width="0.4" />
<line x1="231.50" y1="76.20" x2="232.40" y2="76.20" stroke="#333" stroke-width="0.4" />
<line x1="231.50" y1="78.25" x2="233.10" y2="78.25" stroke="#333" stroke-width="0.4" />
<line x1="231.50" y1="80.30" x2="232.40" y2="80.30" stroke="#333" stroke-width="0.4" />
<line x1="231.50" y1="82.35" x2="232.40" y2="82.35" stroke="#333" stroke-width="0.4" />
<line x1="231.50" y1="84.40" x2="232.40" y2="84.40" stroke="#333" stroke-width="0.4" />
<line x1="231.50" y1="86.45" x2="232.40" y2="86.45" stroke="#333" stroke-width="0.4" />
<line x1="231.50" y1="88.50" x2="233.10" y2="88.50" stroke="#333" stroke-width="0.4" />
<line x1="231.50" y1="90.55" x2="232.40" y2="90.55" stroke="#333" stroke-width="0.4" />
<line x1="231.50" y1="92.60" x2="232.40" y2="92.60" stroke="#333" stroke-width="0.4" />
<line x1="231.50" y1="94.65" x2="232.40" y2="94.65" stroke="#333" stroke-width="0.4" />
<line x1="231.50" y1="96.70" x2="232.40" y2="96.70" stroke="#333" stroke-width="0.4" />
<line x1="231.50" y1="98.75" x2="233.10" y2="98.75" stroke="#333" stroke-width="0.4" />
<line x1="231.50" y1="100.80" x2="232.40" y2="100.80" stroke="#333" stroke-width="0.4" />
<line x1="231.50" y1="102.85" x2="232.40" y2="102.85" stroke="#333" stroke-width="0.4" />
<line x1="231.50" y1="104.90" x2="232.40" y2="104.90" stroke="#333" stroke-width="0.4" />
<line x1="231.50" y1="106.95" x2="232.40" y2="106.95" stroke="#333" stroke-width="0.4" />
<line x1="233.00" y1="108.60" x2="233.00" y2="109.90" stroke="#333" stroke-width="0.4" />
<line x1="235.00" y1="108.60" x2="235.00" y2="109.90" stroke="#333" stroke-width="0.4" />
<line x1="237.00" y1="108.60" x2="237.00" y2="109.90" stroke="#333" stroke-width="0.4" />
<line x1="239.00" y1="108.60" x2="239.00" y2="109.90" stroke="#333" stroke-width="0.4" />
<line x1="241.00" y1="108.60" x2="241.00" y2="109.90" stroke="#333" stroke-width="0.4" />
<line x1="243.00" y1="108.60" x2="243.00" y2="109.90" stroke="#333" stroke-width="0.4" />
<line x1="245.00" y1="108.60" x2="245.00" y2="109.90" stroke="#333" stroke-width="0.4" />
<line x1="247.00" y1="108.60" x2="247.00" y2="109.90" stroke="#333" stroke-width="0.4" />
<line x1="249.00" y1="108.60" x2="249.00" y2="109.90" stroke="#333" stroke-width="0.4" />
<line x1="251.00" y1="108.60" x2="251.00" y2="109.90" stroke="#333" stroke-width="0.4" />
<line x1="253.00" y1="108.60" x2="253.00" y2="109.90" stroke="#333" stroke-width="0.4" />
<line x1="255.00" y1="108.60" x2="255.00" y2="109.90" stroke="#333" stroke-width="0.4" />
<line x1="257.00" y1="108.60" x2="257.00" y2="109.90" stroke="#333" stroke-width="0.4" />
<line x1="259.00" y1="108.60" x2="259.00" y2="109.90" stroke="#333" stroke-width="0.4" />
<line x1="261.00" y1="108.60" x2="261.00" y2="109.90" stroke="#333" stroke-width="0.4" />
<line x1="263.00" y1="108.60" x2="263.00" y2="109.90" stroke="#333" stroke-width="0.4" />
<line x1="265.00" y1="108.60" x2="265.00" y2="109.90" stroke="#333" stroke-width="0.4" />
<line x1="268.00" y1="108.60" x2="268.00" y2="109.90" stroke="#333" stroke-width="0.4" />
<line x1="274.00" y1="108.60" x2="274.00" y2="109.90" stroke="#333" stroke-width="0.4" />
<line x1="279.00" y1="108.60" x2="279.00" y2="109.90" stroke="#333" stroke-width="0.4" />
<line x1="283.00" y1="108.60" x2="283.00" y2="109.90" stroke="#333" stroke-width="0.4" />
<line x1="286.00" y1="108.60" x2="286.00" y2="109.90" stroke="#333" stroke-width="0.4" />
<line x1="288.00" y1="108.60" x2="288.00" y2="109.90" stroke="#333" stroke-width="0.4" />
<line x1="290.00" y1="108.60" x2="290.00" y2="109.90" stroke="#333" stroke-width="0.4" />
<line x1="298.00" y1="108.60" x2="298.00" y2="109.90" stroke="#333" stroke-width="0.4" />
<line x1="303.00" y1="108.60" x2="303.00" y2="109.90" stroke="#333" stroke-width="0.4" />
<line x1="306.00" y1="108.60" x2="306.00" y2="109.90" stroke="#333" stroke-width="0.4" />
<line x1="308.00" y1="108.60" x2="308.00" y2="109.90" stroke="#333" stroke-width="0.4" />
<line x1="310.00" y1="108.60" x2="310.00" y2="109.90" stroke="#333" stroke-width="0.4" />
<line x1="312.00" y1="108.60" x2="312.00" y2="109.90" stroke="#333" stroke-width="0.4" />
<line x1="316.00" y1="108.60" x2="316.00" y2="109.90" stroke="#333" stroke-width="0.4" />
<rect x="249.20" y="108.40" width="3.00" height="1.60" fill="#111" stroke="none" stroke-width="0.7" />
<text x="250.60" y="118.08" font-size="6.6" text-anchor="middle" fill="#2a2a2a" >0</text>
<text x="268.60" y="118.08" font-size="6.6" text-anchor="middle" fill="#2a2a2a" >10<tspan font-size="4.2" dy="-2.4">3</tspan></text>
<text x="291.00" y="118.08" font-size="6.6" text-anchor="middle" fill="#2a2a2a" >10<tspan font-size="4.2" dy="-2.4">4</tspan></text>
<text x="311.30" y="118.08" font-size="6.6" text-anchor="middle" fill="#2a2a2a" >10<tspan font-size="4.2" dy="-2.4">5</tspan></text>
<text x="275.20" y="129.01" font-size="7.25" text-anchor="middle" fill="#2a2a2a" >Annexin V-APC</text>
<text x="225.60" y="53.63" font-size="7.3" text-anchor="middle" fill="#2a2a2a" transform="rotate(-90 225.60 51.00)" >Percentage of max</text>
<line x1="225.60" y1="107.80" x2="225.60" y2="87.00" stroke="#111" stroke-width="0.8" />
<path d="M224.1,88.3 L225.6,84.4 L227.1,88.3 Z" fill="#111" stroke="none" stroke-width="0.7" />
<line x1="361.30" y1="23.50" x2="361.30" y2="104.30" stroke="#333" stroke-width="0.7" />
<line x1="359.10" y1="104.30" x2="361.30" y2="104.30" stroke="#333" stroke-width="0.7" />
<text x="356.90" y="106.68" font-size="6.6" text-anchor="end" fill="#2a2a2a" >0</text>
<line x1="359.10" y1="88.14" x2="361.30" y2="88.14" stroke="#333" stroke-width="0.7" />
<text x="356.90" y="90.52" font-size="6.6" text-anchor="end" fill="#2a2a2a" >20</text>
<line x1="359.10" y1="71.98" x2="361.30" y2="71.98" stroke="#333" stroke-width="0.7" />
<text x="356.90" y="74.36" font-size="6.6" text-anchor="end" fill="#2a2a2a" >40</text>
<line x1="359.10" y1="55.82" x2="361.30" y2="55.82" stroke="#333" stroke-width="0.7" />
<text x="356.90" y="58.20" font-size="6.6" text-anchor="end" fill="#2a2a2a" >60</text>
<line x1="359.10" y1="39.66" x2="361.30" y2="39.66" stroke="#333" stroke-width="0.7" />
<text x="356.90" y="42.04" font-size="6.6" text-anchor="end" fill="#2a2a2a" >80</text>
<line x1="359.10" y1="23.50" x2="361.30" y2="23.50" stroke="#333" stroke-width="0.7" />
<text x="356.90" y="25.88" font-size="6.6" text-anchor="end" fill="#2a2a2a" >100</text>
<line x1="361.30" y1="104.30" x2="426.30" y2="104.30" stroke="#333" stroke-width="0.7" />
<text x="338.60" y="66.63" font-size="7.3" text-anchor="middle" fill="#2a2a2a" textLength="27.50" lengthAdjust="spacingAndGlyphs" transform="rotate(-90 338.60 64.00)" >NETs (%)</text>
<line x1="371.60" y1="104.30" x2="371.60" y2="106.50" stroke="#333" stroke-width="0.7" />
<circle cx="371.60" cy="104.30" r="2.00" fill="#b4b4b4" stroke="#8a8a8a" stroke-width="0.5" />
<circle cx="375.00" cy="104.30" r="2.00" fill="#b4b4b4" stroke="#8a8a8a" stroke-width="0.5" />
<circle cx="368.20" cy="103.90" r="2.00" fill="#b4b4b4" stroke="#8a8a8a" stroke-width="0.5" />
<circle cx="373.30" cy="103.49" r="2.00" fill="#b4b4b4" stroke="#8a8a8a" stroke-width="0.5" />
<circle cx="376.70" cy="103.49" r="2.00" fill="#b4b4b4" stroke="#8a8a8a" stroke-width="0.5" />
<circle cx="369.90" cy="103.09" r="2.00" fill="#b4b4b4" stroke="#8a8a8a" stroke-width="0.5" />
<circle cx="366.50" cy="102.68" r="2.00" fill="#b4b4b4" stroke="#8a8a8a" stroke-width="0.5" />
<circle cx="371.60" cy="102.68" r="2.00" fill="#b4b4b4" stroke="#8a8a8a" stroke-width="0.5" />
<circle cx="375.00" cy="102.28" r="2.00" fill="#b4b4b4" stroke="#8a8a8a" stroke-width="0.5" />
<circle cx="368.20" cy="101.88" r="2.00" fill="#b4b4b4" stroke="#8a8a8a" stroke-width="0.5" />
<circle cx="373.30" cy="101.47" r="2.00" fill="#b4b4b4" stroke="#8a8a8a" stroke-width="0.5" />
<circle cx="376.70" cy="101.07" r="2.00" fill="#b4b4b4" stroke="#8a8a8a" stroke-width="0.5" />
<line x1="371.60" y1="101.82" x2="371.60" y2="103.95" stroke="#555" stroke-width="0.55" />
<line x1="369.10" y1="101.82" x2="374.10" y2="101.82" stroke="#555" stroke-width="0.55" />
<line x1="369.10" y1="103.95" x2="374.10" y2="103.95" stroke="#555" stroke-width="0.55" />
<line x1="366.10" y1="102.89" x2="377.10" y2="102.89" stroke="#555" stroke-width="0.55" />
<line x1="386.00" y1="104.30" x2="386.00" y2="106.50" stroke="#333" stroke-width="0.7" />
<circle cx="386.00" cy="81.68" r="2.00" fill="#f4a9a9" stroke="#c9787a" stroke-width="0.5" />
<circle cx="389.40" cy="80.87" r="2.00" fill="#f4a9a9" stroke="#c9787a" stroke-width="0.5" />
<circle cx="382.60" cy="79.25" r="2.00" fill="#f4a9a9" stroke="#c9787a" stroke-width="0.5" />
<circle cx="386.00" cy="72.79" r="2.00" fill="#f4a9a9" stroke="#c9787a" stroke-width="0.5" />
<circle cx="389.40" cy="71.17" r="2.00" fill="#f4a9a9" stroke="#c9787a" stroke-width="0.5" />
<circle cx="386.00" cy="68.75" r="2.00" fill="#f4a9a9" stroke="#c9787a" stroke-width="0.5" />
<circle cx="389.40" cy="67.13" r="2.00" fill="#f4a9a9" stroke="#c9787a" stroke-width="0.5" />
<circle cx="386.00" cy="61.48" r="2.00" fill="#f4a9a9" stroke="#c9787a" stroke-width="0.5" />
<circle cx="389.40" cy="59.86" r="2.00" fill="#f4a9a9" stroke="#c9787a" stroke-width="0.5" />
<circle cx="386.00" cy="57.44" r="2.00" fill="#f4a9a9" stroke="#c9787a" stroke-width="0.5" />
<circle cx="389.40" cy="55.01" r="2.00" fill="#f4a9a9" stroke="#c9787a" stroke-width="0.5" />
<circle cx="386.00" cy="53.40" r="2.00" fill="#f4a9a9" stroke="#c9787a" stroke-width="0.5" />
<line x1="386.00" y1="57.35" x2="386.00" y2="77.45" stroke="#555" stroke-width="0.55" />
<line x1="383.50" y1="57.35" x2="388.50" y2="57.35" stroke="#555" stroke-width="0.55" />
<line x1="383.50" y1="77.45" x2="388.50" y2="77.45" stroke="#555" stroke-width="0.55" />
<line x1="380.50" y1="67.40" x2="391.50" y2="67.40" stroke="#555" stroke-width="0.55" />
<line x1="400.80" y1="104.30" x2="400.80" y2="106.50" stroke="#333" stroke-width="0.7" />
<circle cx="400.80" cy="104.30" r="2.00" fill="#c9a3d2" stroke="#9a78a6" stroke-width="0.5" />
<circle cx="404.20" cy="104.30" r="2.00" fill="#c9a3d2" stroke="#9a78a6" stroke-width="0.5" />
<circle cx="397.40" cy="104.30" r="2.00" fill="#c9a3d2" stroke="#9a78a6" stroke-width="0.5" />
<circle cx="402.50" cy="101.07" r="2.00" fill="#c9a3d2" stroke="#9a78a6" stroke-width="0.5" />
<circle cx="399.10" cy="100.26" r="2.00" fill="#c9a3d2" stroke="#9a78a6" stroke-width="0.5" />
<circle cx="405.90" cy="100.26" r="2.00" fill="#c9a3d2" stroke="#9a78a6" stroke-width="0.5" />
<circle cx="395.70" cy="97.84" r="2.00" fill="#c9a3d2" stroke="#9a78a6" stroke-width="0.5" />
<circle cx="400.80" cy="96.22" r="2.00" fill="#c9a3d2" stroke="#9a78a6" stroke-width="0.5" />
<circle cx="404.20" cy="94.60" r="2.00" fill="#c9a3d2" stroke="#9a78a6" stroke-width="0.5" />
<circle cx="397.40" cy="93.80" r="2.00" fill="#c9a3d2" stroke="#9a78a6" stroke-width="0.5" />
<circle cx="400.80" cy="92.18" r="2.00" fill="#c9a3d2" stroke="#9a78a6" stroke-width="0.5" />
<circle cx="405.90" cy="91.37" r="2.00" fill="#c9a3d2" stroke="#9a78a6" stroke-width="0.5" />
<circle cx="397.40" cy="89.76" r="2.00" fill="#c9a3d2" stroke="#9a78a6" stroke-width="0.5" />
<circle cx="400.80" cy="88.14" r="2.00" fill="#c9a3d2" stroke="#9a78a6" stroke-width="0.5" />
<circle cx="404.20" cy="86.52" r="2.00" fill="#c9a3d2" stroke="#9a78a6" stroke-width="0.5" />
<line x1="400.80" y1="90.33" x2="400.80" y2="102.33" stroke="#555" stroke-width="0.55" />
<line x1="398.30" y1="90.33" x2="403.30" y2="90.33" stroke="#555" stroke-width="0.55" />
<line x1="398.30" y1="102.33" x2="403.30" y2="102.33" stroke="#555" stroke-width="0.55" />
<line x1="395.30" y1="96.33" x2="406.30" y2="96.33" stroke="#555" stroke-width="0.55" />
<line x1="415.40" y1="104.30" x2="415.40" y2="106.50" stroke="#333" stroke-width="0.7" />
<circle cx="415.40" cy="79.25" r="2.00" fill="#85cdd3" stroke="#4f9ea6" stroke-width="0.5" />
<circle cx="415.40" cy="68.75" r="2.00" fill="#85cdd3" stroke="#4f9ea6" stroke-width="0.5" />
<circle cx="418.80" cy="67.13" r="2.00" fill="#85cdd3" stroke="#4f9ea6" stroke-width="0.5" />
<circle cx="412.00" cy="66.32" r="2.00" fill="#85cdd3" stroke="#4f9ea6" stroke-width="0.5" />
<circle cx="415.40" cy="63.90" r="2.00" fill="#85cdd3" stroke="#4f9ea6" stroke-width="0.5" />
<circle cx="418.80" cy="61.48" r="2.00" fill="#85cdd3" stroke="#4f9ea6" stroke-width="0.5" />
<circle cx="415.40" cy="57.44" r="2.00" fill="#85cdd3" stroke="#4f9ea6" stroke-width="0.5" />
<circle cx="418.80" cy="55.82" r="2.00" fill="#85cdd3" stroke="#4f9ea6" stroke-width="0.5" />
<circle cx="412.00" cy="55.01" r="2.00" fill="#85cdd3" stroke="#4f9ea6" stroke-width="0.5" />
<circle cx="415.40" cy="49.36" r="2.00" fill="#85cdd3" stroke="#4f9ea6" stroke-width="0.5" />
<circle cx="417.10" cy="46.12" r="2.00" fill="#85cdd3" stroke="#4f9ea6" stroke-width="0.5" />
<circle cx="413.70" cy="45.32" r="2.00" fill="#85cdd3" stroke="#4f9ea6" stroke-width="0.5" />
<circle cx="415.40" cy="37.24" r="2.00" fill="#85cdd3" stroke="#4f9ea6" stroke-width="0.5" />
<line x1="415.40" y1="46.43" x2="415.40" y2="69.44" stroke="#555" stroke-width="0.55" />
<line x1="412.90" y1="46.43" x2="417.90" y2="46.43" stroke="#555" stroke-width="0.55" />
<line x1="412.90" y1="69.44" x2="417.90" y2="69.44" stroke="#555" stroke-width="0.55" />
<line x1="409.90" y1="57.93" x2="420.90" y2="57.93" stroke="#555" stroke-width="0.55" />
<text x="374.90" y="110.60" font-size="6.6" fill="#2a2a2a" text-anchor="end" transform="rotate(-45 374.90 110.60)">Vehicle</text>
<text x="389.30" y="110.60" font-size="6.6" fill="#2a2a2a" text-anchor="end" transform="rotate(-45 389.30 110.60)">PMA</text>
<text x="404.1" y="110.6" font-size="6.6" fill="#2a2a2a" text-anchor="end" transform="rotate(-45 404.1 110.6)">AV<tspan font-size="4.2" dy="-2.4">−</tspan></text>
<text x="418.7" y="110.6" font-size="6.6" fill="#2a2a2a" text-anchor="end" transform="rotate(-45 418.7 110.6)">AV<tspan font-size="4.2" dy="-2.4">+</tspan></text>
<text x="399.70" y="23.08" font-size="6.6" text-anchor="middle" fill="#2a2a2a" >0.0252</text>
<line x1="380.50" y1="24.40" x2="421.00" y2="24.40" stroke="#333" stroke-width="0.7" />
<text x="406.00" y="32.68" font-size="6.6" text-anchor="middle" fill="#2a2a2a" >&lt;0.0001</text>
<line x1="394.70" y1="34.10" x2="421.00" y2="34.10" stroke="#333" stroke-width="0.7" />
<text x="392.70" y="46.48" font-size="6.6" text-anchor="middle" fill="#2a2a2a" >&lt;0.0001</text>
<line x1="380.70" y1="47.70" x2="407.00" y2="47.70" stroke="#333" stroke-width="0.7" />
<text x="450.60" y="6.65" font-size="11.8" fill="#000" font-weight="bold" stroke="#000" stroke-width="0.3">c</text>
<line x1="468.40" y1="2.50" x2="472.80" y2="2.50" stroke="#7f9fd0" stroke-width="0.8" />
<line x1="468.40" y1="11.40" x2="472.80" y2="11.40" stroke="#ee9a8a" stroke-width="0.8" />
<line x1="468.40" y1="18.90" x2="472.80" y2="18.90" stroke="#a9cf9b" stroke-width="0.8" />
<text x="476.80" y="4.77" font-size="6.3" fill="#2a2a2a" textLength="8.60" lengthAdjust="spacingAndGlyphs" >WT</text>
<text x="476.80" y="13.67" font-size="6.3" fill="#2a2a2a" textLength="24.60" lengthAdjust="spacingAndGlyphs" >XKR8 KO</text>
<text x="476.80" y="21.17" font-size="6.3" fill="#2a2a2a" textLength="35.60" lengthAdjust="spacingAndGlyphs" >TMEM16F KO</text>
<text x="520.00" y="21.28" font-size="6.6" fill="#2a2a2a" textLength="8.40" lengthAdjust="spacingAndGlyphs" >(%)</text>
<path d="M476.10,40.30 L476.63,40.24 L477.16,40.17 L477.69,40.07 L478.22,39.94 L478.75,39.77 L479.29,39.56 L479.82,39.29 L480.35,38.95 L480.88,38.54 L481.41,38.05 L481.94,37.47 L482.47,36.81 L483.00,36.06 L483.53,35.24 L484.06,34.34 L484.59,33.40 L485.13,32.43 L485.66,31.45 L486.19,30.50 L486.72,29.60 L487.25,28.80 L487.78,28.12 L488.31,27.58 L488.84,27.21 L489.37,27.03 L489.90,27.05 L490.43,27.26 L490.97,27.65 L491.50,28.21 L492.03,28.91 L492.56,29.73 L493.09,30.63 L493.62,31.59 L494.15,32.57 L494.68,33.54 L495.21,34.48 L495.74,35.36 L496.27,36.18 L496.81,36.91 L497.34,37.56 L497.87,38.12 L498.40,38.60 L498.93,39.00 L499.46,39.33 L499.99,39.59 L500.52,39.80 L501.05,39.96 L501.58,40.09 L502.11,40.18 L502.65,40.25 L503.18,40.30 L503.71,40.34 L504.24,40.36 L504.77,40.38 L505.30,40.39 L505.83,40.40 L506.36,40.41 L506.89,40.41 L507.42,40.41 L507.95,40.41 L508.49,40.42 L509.02,40.42 L509.55,40.42 L510.08,40.42 L510.61,40.42 L511.14,40.42 L511.67,40.42 L512.20,40.42 L512.73,40.42 L513.26,40.42 L513.79,40.42 L514.33,40.42 L514.86,40.42 L515.39,40.42 L515.92,40.42 L516.45,40.42 L516.98,40.42 L517.51,40.42 L518.04,40.42 L518.57,40.42 L519.10,40.42 L519.63,40.42 L520.17,40.42 L520.70,40.42 L521.23,40.42 L521.76,40.42 L522.29,40.42 L522.82,40.42 L523.35,40.42 L523.88,40.42 L524.41,40.42 L524.94,40.42 L525.47,40.42 L526.01,40.42 L526.54,40.42 L527.07,40.42 L527.60,40.42 L528.13,40.42 L528.66,40.42 L529.19,40.42 L529.72,40.42 L530.25,40.42 L530.78,40.42 L531.31,40.42 L531.85,40.42 L532.38,40.42 L532.91,40.42 L533.44,40.42 L533.97,40.42 L534.50,40.42" fill="none" stroke="#7f9fd0" stroke-width="0.7" />
<text x="528.20" y="38.79" font-size="6.6" text-anchor="end" fill="#2a2a2a" >0.5</text>
<path d="M476.10,54.85 L476.63,54.81 L477.16,54.75 L477.69,54.68 L478.22,54.58 L478.75,54.45 L479.29,54.28 L479.82,54.07 L480.35,53.80 L480.88,53.46 L481.41,53.06 L481.94,52.58 L482.47,52.02 L483.00,51.38 L483.53,50.66 L484.06,49.86 L484.59,49.01 L485.13,48.11 L485.66,47.19 L486.19,46.28 L486.72,45.39 L487.25,44.57 L487.78,43.84 L488.31,43.23 L488.84,42.76 L489.37,42.46 L489.90,42.34 L490.43,42.39 L490.97,42.63 L491.50,43.04 L492.03,43.60 L492.56,44.29 L493.09,45.09 L493.62,45.95 L494.15,46.86 L494.68,47.78 L495.21,48.69 L495.74,49.56 L496.27,50.38 L496.81,51.12 L497.34,51.80 L497.87,52.39 L498.40,52.89 L498.93,53.33 L499.46,53.68 L499.99,53.98 L500.52,54.21 L501.05,54.40 L501.58,54.54 L502.11,54.65 L502.65,54.73 L503.18,54.79 L503.71,54.83 L504.24,54.87 L504.77,54.89 L505.30,54.90 L505.83,54.91 L506.36,54.92 L506.89,54.93 L507.42,54.93 L507.95,54.93 L508.49,54.93 L509.02,54.93 L509.55,54.93 L510.08,54.93 L510.61,54.93 L511.14,54.93 L511.67,54.93 L512.20,54.93 L512.73,54.93 L513.26,54.93 L513.79,54.93 L514.33,54.93 L514.86,54.93 L515.39,54.93 L515.92,54.93 L516.45,54.93 L516.98,54.93 L517.51,54.93 L518.04,54.93 L518.57,54.93 L519.10,54.93 L519.63,54.93 L520.17,54.93 L520.70,54.93 L521.23,54.93 L521.76,54.93 L522.29,54.93 L522.82,54.93 L523.35,54.93 L523.88,54.93 L524.41,54.93 L524.94,54.93 L525.47,54.93 L526.01,54.93 L526.54,54.93 L527.07,54.93 L527.60,54.93 L528.13,54.93 L528.66,54.93 L529.19,54.93 L529.72,54.93 L530.25,54.93 L530.78,54.93 L531.31,54.93 L531.85,54.93 L532.38,54.93 L532.91,54.93 L533.44,54.93 L533.97,54.93 L534.50,54.93" fill="none" stroke="#ee9a8a" stroke-width="0.7" />
<text x="528.20" y="53.31" font-size="6.6" text-anchor="end" fill="#2a2a2a" >0.5</text>
<path d="M476.10,69.39 L476.63,69.36 L477.16,69.32 L477.69,69.26 L478.22,69.19 L478.75,69.08 L479.29,68.94 L479.82,68.76 L480.35,68.52 L480.88,68.23 L481.41,67.87 L481.94,67.43 L482.47,66.91 L483.00,66.30 L483.53,65.60 L484.06,64.83 L484.59,63.98 L485.13,63.07 L485.66,62.13 L486.19,61.17 L486.72,60.23 L487.25,59.34 L487.78,58.52 L488.31,57.83 L488.84,57.27 L489.37,56.88 L489.90,56.68 L490.43,56.67 L490.97,56.85 L491.50,57.22 L492.03,57.76 L492.56,58.44 L493.09,59.24 L493.62,60.12 L494.15,61.06 L494.68,62.01 L495.21,62.96 L495.74,63.87 L496.27,64.73 L496.81,65.52 L497.34,66.22 L497.87,66.84 L498.40,67.37 L498.93,67.82 L499.46,68.19 L499.99,68.49 L500.52,68.73 L501.05,68.92 L501.58,69.07 L502.11,69.17 L502.65,69.26 L503.18,69.32 L503.71,69.36 L504.24,69.39 L504.77,69.41 L505.30,69.42 L505.83,69.43 L506.36,69.44 L506.89,69.44 L507.42,69.45 L507.95,69.45 L508.49,69.45 L509.02,69.45 L509.55,69.45 L510.08,69.45 L510.61,69.45 L511.14,69.45 L511.67,69.45 L512.20,69.45 L512.73,69.45 L513.26,69.45 L513.79,69.45 L514.33,69.45 L514.86,69.45 L515.39,69.45 L515.92,69.45 L516.45,69.45 L516.98,69.45 L517.51,69.45 L518.04,69.45 L518.57,69.45 L519.10,69.45 L519.63,69.45 L520.17,69.45 L520.70,69.45 L521.23,69.45 L521.76,69.45 L522.29,69.45 L522.82,69.45 L523.35,69.45 L523.88,69.45 L524.41,69.45 L524.94,69.45 L525.47,69.45 L526.01,69.45 L526.54,69.45 L527.07,69.45 L527.60,69.45 L528.13,69.45 L528.66,69.45 L529.19,69.45 L529.72,69.45 L530.25,69.45 L530.78,69.45 L531.31,69.45 L531.85,69.45 L532.38,69.45 L532.91,69.45 L533.44,69.45 L533.97,69.45 L534.50,69.45" fill="none" stroke="#93c088" stroke-width="0.7" />
<text x="528.20" y="67.83" font-size="6.6" text-anchor="end" fill="#2a2a2a" >0.6</text>
<path d="M476.10,83.16 L476.63,82.87 L477.16,82.51 L477.69,82.07 L478.22,81.56 L478.75,80.97 L479.29,80.32 L479.82,79.62 L480.35,78.88 L480.88,78.11 L481.41,77.33 L481.94,76.57 L482.47,75.83 L483.00,75.14 L483.53,74.51 L484.06,73.96 L484.59,73.50 L485.13,73.13 L485.66,72.85 L486.19,72.65 L486.72,72.53 L487.25,72.47 L487.78,72.46 L488.31,72.47 L488.84,72.50 L489.37,72.55 L489.90,72.62 L490.43,72.72 L490.97,72.87 L491.50,73.08 L492.03,73.38 L492.56,73.78 L493.09,74.29 L493.62,74.90 L494.15,75.61 L494.68,76.39 L495.21,77.23 L495.74,78.08 L496.27,78.92 L496.81,79.73 L497.34,80.49 L497.87,81.16 L498.40,81.75 L498.93,82.26 L499.46,82.67 L499.99,83.01 L500.52,83.27 L501.05,83.46 L501.58,83.59 L502.11,83.65 L502.65,83.64 L503.18,83.54 L503.71,83.31 L504.24,82.94 L504.77,82.42 L505.30,81.75 L505.83,81.00 L506.36,80.26 L506.89,79.63 L507.42,79.25 L507.95,79.18 L508.49,79.44 L509.02,79.98 L509.55,80.69 L510.08,81.46 L510.61,82.18 L511.14,82.78 L511.67,83.23 L512.20,83.54 L512.73,83.74 L513.26,83.85 L513.79,83.91 L514.33,83.94 L514.86,83.96 L515.39,83.96 L515.92,83.97 L516.45,83.97 L516.98,83.97 L517.51,83.97 L518.04,83.97 L518.57,83.97 L519.10,83.97 L519.63,83.97 L520.17,83.97 L520.70,83.97 L521.23,83.97 L521.76,83.97 L522.29,83.97 L522.82,83.97 L523.35,83.97 L523.88,83.97 L524.41,83.97 L524.94,83.97 L525.47,83.97 L526.01,83.97 L526.54,83.97 L527.07,83.97 L527.60,83.97 L528.13,83.97 L528.66,83.97 L529.19,83.97 L529.72,83.97 L530.25,83.97 L530.78,83.97 L531.31,83.97 L531.85,83.97 L532.38,83.97 L532.91,83.97 L533.44,83.97 L533.97,83.97 L534.50,83.97 L534.50,83.97 L476.10,83.97 Z" fill="#dfe5f1" stroke="none" stroke-width="0.7" />
<path d="M476.10,83.16 L476.63,82.87 L477.16,82.51 L477.69,82.07 L478.22,81.56 L478.75,80.97 L479.29,80.32 L479.82,79.62 L480.35,78.88 L480.88,78.11 L481.41,77.33 L481.94,76.57 L482.47,75.83 L483.00,75.14 L483.53,74.51 L484.06,73.96 L484.59,73.50 L485.13,73.13 L485.66,72.85 L486.19,72.65 L486.72,72.53 L487.25,72.47 L487.78,72.46 L488.31,72.47 L488.84,72.50 L489.37,72.55 L489.90,72.62 L490.43,72.72 L490.97,72.87 L491.50,73.08 L492.03,73.38 L492.56,73.78 L493.09,74.29 L493.62,74.90 L494.15,75.61 L494.68,76.39 L495.21,77.23 L495.74,78.08 L496.27,78.92 L496.81,79.73 L497.34,80.49 L497.87,81.16 L498.40,81.75 L498.93,82.26 L499.46,82.67 L499.99,83.01 L500.52,83.27 L501.05,83.46 L501.58,83.59 L502.11,83.65 L502.65,83.64 L503.18,83.54 L503.71,83.31 L504.24,82.94 L504.77,82.42 L505.30,81.75 L505.83,81.00 L506.36,80.26 L506.89,79.63 L507.42,79.25 L507.95,79.18 L508.49,79.44 L509.02,79.98 L509.55,80.69 L510.08,81.46 L510.61,82.18 L511.14,82.78 L511.67,83.23 L512.20,83.54 L512.73,83.74 L513.26,83.85 L513.79,83.91 L514.33,83.94 L514.86,83.96 L515.39,83.96 L515.92,83.97 L516.45,83.97 L516.98,83.97 L517.51,83.97 L518.04,83.97 L518.57,83.97 L519.10,83.97 L519.63,83.97 L520.17,83.97 L520.70,83.97 L521.23,83.97 L521.76,83.97 L522.29,83.97 L522.82,83.97 L523.35,83.97 L523.88,83.97 L524.41,83.97 L524.94,83.97 L525.47,83.97 L526.01,83.97 L526.54,83.97 L527.07,83.97 L527.60,83.97 L528.13,83.97 L528.66,83.97 L529.19,83.97 L529.72,83.97 L530.25,83.97 L530.78,83.97 L531.31,83.97 L531.85,83.97 L532.38,83.97 L532.91,83.97 L533.44,83.97 L533.97,83.97 L534.50,83.97" fill="none" stroke="#7f9fd0" stroke-width="0.7" />
<text x="528.20" y="82.34" font-size="6.6" text-anchor="end" fill="#2a2a2a" >20.6</text>
<path d="M476.10,98.04 L476.63,97.89 L477.16,97.71 L477.69,97.48 L478.22,97.21 L478.75,96.88 L479.29,96.49 L479.82,96.03 L480.35,95.51 L480.88,94.91 L481.41,94.25 L481.94,93.53 L482.47,92.76 L483.00,91.95 L483.53,91.11 L484.06,90.26 L484.59,89.43 L485.13,88.64 L485.66,87.91 L486.19,87.26 L486.72,86.72 L487.25,86.30 L487.78,86.02 L488.31,85.89 L488.84,85.92 L489.37,86.09 L489.90,86.41 L490.43,86.87 L490.97,87.44 L491.50,88.11 L492.03,88.86 L492.56,89.67 L493.09,90.51 L493.62,91.35 L494.15,92.18 L494.68,92.99 L495.21,93.74 L495.74,94.45 L496.27,95.09 L496.81,95.66 L497.34,96.17 L497.87,96.61 L498.40,96.98 L498.93,97.29 L499.46,97.55 L499.99,97.77 L500.52,97.94 L501.05,98.07 L501.58,98.18 L502.11,98.26 L502.65,98.32 L503.18,98.37 L503.71,98.40 L504.24,98.42 L504.77,98.44 L505.30,98.46 L505.83,98.46 L506.36,98.47 L506.89,98.48 L507.42,98.48 L507.95,98.48 L508.49,98.48 L509.02,98.48 L509.55,98.48 L510.08,98.48 L510.61,98.48 L511.14,98.48 L511.67,98.48 L512.20,98.48 L512.73,98.48 L513.26,98.48 L513.79,98.48 L514.33,98.48 L514.86,98.48 L515.39,98.48 L515.92,98.48 L516.45,98.48 L516.98,98.48 L517.51,98.48 L518.04,98.48 L518.57,98.48 L519.10,98.48 L519.63,98.48 L520.17,98.48 L520.70,98.48 L521.23,98.48 L521.76,98.48 L522.29,98.48 L522.82,98.48 L523.35,98.48 L523.88,98.48 L524.41,98.48 L524.94,98.48 L525.47,98.48 L526.01,98.48 L526.54,98.48 L527.07,98.48 L527.60,98.48 L528.13,98.48 L528.66,98.48 L529.19,98.48 L529.72,98.48 L530.25,98.48 L530.78,98.48 L531.31,98.48 L531.85,98.48 L532.38,98.48 L532.91,98.48 L533.44,98.48 L533.97,98.48 L534.50,98.48 L534.50,98.48 L476.10,98.48 Z" fill="#efc4c0" stroke="none" stroke-width="0.7" />
<path d="M476.10,98.04 L476.63,97.89 L477.16,97.71 L477.69,97.48 L478.22,97.21 L478.75,96.88 L479.29,96.49 L479.82,96.03 L480.35,95.51 L480.88,94.91 L481.41,94.25 L481.94,93.53 L482.47,92.76 L483.00,91.95 L483.53,91.11 L484.06,90.26 L484.59,89.43 L485.13,88.64 L485.66,87.91 L486.19,87.26 L486.72,86.72 L487.25,86.30 L487.78,86.02 L488.31,85.89 L488.84,85.92 L489.37,86.09 L489.90,86.41 L490.43,86.87 L490.97,87.44 L491.50,88.11 L492.03,88.86 L492.56,89.67 L493.09,90.51 L493.62,91.35 L494.15,92.18 L494.68,92.99 L495.21,93.74 L495.74,94.45 L496.27,95.09 L496.81,95.66 L497.34,96.17 L497.87,96.61 L498.40,96.98 L498.93,97.29 L499.46,97.55 L499.99,97.77 L500.52,97.94 L501.05,98.07 L501.58,98.18 L502.11,98.26 L502.65,98.32 L503.18,98.37 L503.71,98.40 L504.24,98.42 L504.77,98.44 L505.30,98.46 L505.83,98.46 L506.36,98.47 L506.89,98.48 L507.42,98.48 L507.95,98.48 L508.49,98.48 L509.02,98.48 L509.55,98.48 L510.08,98.48 L510.61,98.48 L511.14,98.48 L511.67,98.48 L512.20,98.48 L512.73,98.48 L513.26,98.48 L513.79,98.48 L514.33,98.48 L514.86,98.48 L515.39,98.48 L515.92,98.48 L516.45,98.48 L516.98,98.48 L517.51,98.48 L518.04,98.48 L518.57,98.48 L519.10,98.48 L519.63,98.48 L520.17,98.48 L520.70,98.48 L521.23,98.48 L521.76,98.48 L522.29,98.48 L522.82,98.48 L523.35,98.48 L523.88,98.48 L524.41,98.48 L524.94,98.48 L525.47,98.48 L526.01,98.48 L526.54,98.48 L527.07,98.48 L527.60,98.48 L528.13,98.48 L528.66,98.48 L529.19,98.48 L529.72,98.48 L530.25,98.48 L530.78,98.48 L531.31,98.48 L531.85,98.48 L532.38,98.48 L532.91,98.48 L533.44,98.48 L533.97,98.48 L534.50,98.48" fill="none" stroke="#ee9a8a" stroke-width="0.7" />
<text x="528.20" y="96.86" font-size="6.6" text-anchor="end" fill="#2a2a2a" >2.8</text>
<path d="M476.10,112.82 L476.63,112.77 L477.16,112.70 L477.69,112.59 L478.22,112.44 L478.75,112.23 L479.29,111.93 L479.82,111.55 L480.35,111.06 L480.88,110.44 L481.41,109.70 L481.94,108.82 L482.47,107.82 L483.00,106.72 L483.53,105.55 L484.06,104.34 L484.59,103.14 L485.13,101.99 L485.66,100.94 L486.19,100.03 L486.72,99.29 L487.25,98.73 L487.78,98.37 L488.31,98.21 L488.84,98.24 L489.37,98.44 L489.90,98.80 L490.43,99.31 L490.97,99.94 L491.50,100.69 L492.03,101.54 L492.56,102.47 L493.09,103.47 L493.62,104.50 L494.15,105.54 L494.68,106.57 L495.21,107.55 L495.74,108.47 L496.27,109.31 L496.81,110.05 L497.34,110.68 L497.87,111.22 L498.40,111.65 L498.93,111.99 L499.46,112.24 L499.99,112.43 L500.52,112.55 L501.05,112.61 L501.58,112.61 L502.11,112.54 L502.65,112.40 L503.18,112.18 L503.71,111.86 L504.24,111.47 L504.77,111.00 L505.30,110.50 L505.83,110.00 L506.36,109.57 L506.89,109.26 L507.42,109.11 L507.95,109.14 L508.49,109.35 L509.02,109.71 L509.55,110.17 L510.08,110.67 L510.61,111.17 L511.14,111.62 L511.67,112.00 L512.20,112.30 L512.73,112.51 L513.26,112.67 L513.79,112.76 L514.33,112.83 L514.86,112.86 L515.39,112.88 L515.92,112.89 L516.45,112.90 L516.98,112.90 L517.51,112.90 L518.04,112.90 L518.57,112.90 L519.10,112.90 L519.63,112.90 L520.17,112.90 L520.70,112.90 L521.23,112.90 L521.76,112.90 L522.29,112.90 L522.82,112.90 L523.35,112.90 L523.88,112.90 L524.41,112.90 L524.94,112.90 L525.47,112.90 L526.01,112.90 L526.54,112.90 L527.07,112.90 L527.60,112.90 L528.13,112.90 L528.66,112.90 L529.19,112.90 L529.72,112.90 L530.25,112.90 L530.78,112.90 L531.31,112.90 L531.85,112.90 L532.38,112.90 L532.91,112.90 L533.44,112.90 L533.97,112.90 L534.50,112.90 L534.50,112.90 L476.10,112.90 Z" fill="#b9d8af" stroke="none" stroke-width="0.7" />
<path d="M476.10,112.82 L476.63,112.77 L477.16,112.70 L477.69,112.59 L478.22,112.44 L478.75,112.23 L479.29,111.93 L479.82,111.55 L480.35,111.06 L480.88,110.44 L481.41,109.70 L481.94,108.82 L482.47,107.82 L483.00,106.72 L483.53,105.55 L484.06,104.34 L484.59,103.14 L485.13,101.99 L485.66,100.94 L486.19,100.03 L486.72,99.29 L487.25,98.73 L487.78,98.37 L488.31,98.21 L488.84,98.24 L489.37,98.44 L489.90,98.80 L490.43,99.31 L490.97,99.94 L491.50,100.69 L492.03,101.54 L492.56,102.47 L493.09,103.47 L493.62,104.50 L494.15,105.54 L494.68,106.57 L495.21,107.55 L495.74,108.47 L496.27,109.31 L496.81,110.05 L497.34,110.68 L497.87,111.22 L498.40,111.65 L498.93,111.99 L499.46,112.24 L499.99,112.43 L500.52,112.55 L501.05,112.61 L501.58,112.61 L502.11,112.54 L502.65,112.40 L503.18,112.18 L503.71,111.86 L504.24,111.47 L504.77,111.00 L505.30,110.50 L505.83,110.00 L506.36,109.57 L506.89,109.26 L507.42,109.11 L507.95,109.14 L508.49,109.35 L509.02,109.71 L509.55,110.17 L510.08,110.67 L510.61,111.17 L511.14,111.62 L511.67,112.00 L512.20,112.30 L512.73,112.51 L513.26,112.67 L513.79,112.76 L514.33,112.83 L514.86,112.86 L515.39,112.88 L515.92,112.89 L516.45,112.90 L516.98,112.90 L517.51,112.90 L518.04,112.90 L518.57,112.90 L519.10,112.90 L519.63,112.90 L520.17,112.90 L520.70,112.90 L521.23,112.90 L521.76,112.90 L522.29,112.90 L522.82,112.90 L523.35,112.90 L523.88,112.90 L524.41,112.90 L524.94,112.90 L525.47,112.90 L526.01,112.90 L526.54,112.90 L527.07,112.90 L527.60,112.90 L528.13,112.90 L528.66,112.90 L529.19,112.90 L529.72,112.90 L530.25,112.90 L530.78,112.90 L531.31,112.90 L531.85,112.90 L532.38,112.90 L532.91,112.90 L533.44,112.90 L533.97,112.90 L534.50,112.90" fill="none" stroke="#93c088" stroke-width="0.7" />
<text x="528.20" y="111.28" font-size="6.6" text-anchor="end" fill="#2a2a2a" >17.2</text>
<line x1="501.40" y1="24.60" x2="501.40" y2="112.90" stroke="#555" stroke-width="0.6" stroke-dasharray="3.2 1.8"/>
<path d="M475.1,112.9 L475.1,24.6 L534.5,24.6 L534.5,112.9" fill="none" stroke="#333" stroke-width="0.7" />
<line x1="475.10" y1="112.90" x2="534.50" y2="112.90" stroke="#333" stroke-width="0.7" />
<line x1="477.00" y1="112.90" x2="477.00" y2="114.10" stroke="#333" stroke-width="0.4" />
<line x1="478.50" y1="112.90" x2="478.50" y2="114.10" stroke="#333" stroke-width="0.4" />
<line x1="480.00" y1="112.90" x2="480.00" y2="114.10" stroke="#333" stroke-width="0.4" />
<line x1="481.50" y1="112.90" x2="481.50" y2="114.10" stroke="#333" stroke-width="0.4" />
<line x1="483.00" y1="112.90" x2="483.00" y2="114.10" stroke="#333" stroke-width="0.4" />
<line x1="484.50" y1="112.90" x2="484.50" y2="114.10" stroke="#333" stroke-width="0.4" />
<line x1="486.00" y1="112.90" x2="486.00" y2="114.10" stroke="#333" stroke-width="0.4" />
<line x1="487.50" y1="112.90" x2="487.50" y2="114.10" stroke="#333" stroke-width="0.4" />
<line x1="489.00" y1="112.90" x2="489.00" y2="114.10" stroke="#333" stroke-width="0.4" />
<line x1="490.50" y1="112.90" x2="490.50" y2="114.10" stroke="#333" stroke-width="0.4" />
<line x1="492.00" y1="112.90" x2="492.00" y2="114.10" stroke="#333" stroke-width="0.4" />
<line x1="493.50" y1="112.90" x2="493.50" y2="114.10" stroke="#333" stroke-width="0.4" />
<line x1="495.00" y1="112.90" x2="495.00" y2="114.10" stroke="#333" stroke-width="0.4" />
<line x1="496.50" y1="112.90" x2="496.50" y2="114.10" stroke="#333" stroke-width="0.4" />
<line x1="498.00" y1="112.90" x2="498.00" y2="114.10" stroke="#333" stroke-width="0.4" />
<line x1="500.00" y1="112.90" x2="500.00" y2="114.10" stroke="#333" stroke-width="0.4" />
<line x1="502.00" y1="112.90" x2="502.00" y2="114.10" stroke="#333" stroke-width="0.4" />
<line x1="506.00" y1="112.90" x2="506.00" y2="114.10" stroke="#333" stroke-width="0.4" />
<line x1="509.00" y1="112.90" x2="509.00" y2="114.10" stroke="#333" stroke-width="0.4" />
<line x1="511.00" y1="112.90" x2="511.00" y2="114.10" stroke="#333" stroke-width="0.4" />
<line x1="513.00" y1="112.90" x2="513.00" y2="114.10" stroke="#333" stroke-width="0.4" />
<line x1="514.00" y1="112.90" x2="514.00" y2="114.10" stroke="#333" stroke-width="0.4" />
<line x1="518.00" y1="112.90" x2="518.00" y2="114.10" stroke="#333" stroke-width="0.4" />
<line x1="521.00" y1="112.90" x2="521.00" y2="114.10" stroke="#333" stroke-width="0.4" />
<line x1="523.00" y1="112.90" x2="523.00" y2="114.10" stroke="#333" stroke-width="0.4" />
<line x1="525.00" y1="112.90" x2="525.00" y2="114.10" stroke="#333" stroke-width="0.4" />
<line x1="527.00" y1="112.90" x2="527.00" y2="114.10" stroke="#333" stroke-width="0.4" />
<line x1="528.50" y1="112.90" x2="528.50" y2="114.10" stroke="#333" stroke-width="0.4" />
<line x1="531.00" y1="112.90" x2="531.00" y2="114.10" stroke="#333" stroke-width="0.4" />
<line x1="533.00" y1="112.90" x2="533.00" y2="114.10" stroke="#333" stroke-width="0.4" />
<rect x="486.00" y="112.70" width="4.60" height="1.60" fill="#111" stroke="none" stroke-width="0.7" />
<text x="489.00" y="121.78" font-size="6.6" text-anchor="middle" fill="#2a2a2a" >0</text>
<text x="504.60" y="121.78" font-size="6.6" text-anchor="middle" fill="#2a2a2a" >10<tspan font-size="4.2" dy="-2.4">3</tspan></text>
<text x="518.00" y="121.78" font-size="6.6" text-anchor="middle" fill="#2a2a2a" >10<tspan font-size="4.2" dy="-2.4">4</tspan></text>
<text x="529.40" y="121.78" font-size="6.6" text-anchor="middle" fill="#2a2a2a" >10<tspan font-size="4.2" dy="-2.4">5</tspan></text>
<text x="504.80" y="132.31" font-size="7.25" text-anchor="middle" fill="#2a2a2a" >Annexin V-APC</text>
<line x1="463.50" y1="25.00" x2="463.50" y2="67.50" stroke="#333" stroke-width="0.7" />
<line x1="463.50" y1="70.80" x2="463.50" y2="112.90" stroke="#333" stroke-width="0.7" />
<text x="459.60" y="49.34" font-size="7.6" text-anchor="middle" fill="#2a2a2a" transform="rotate(-90 459.60 46.60)" >Vehicle</text>
<text x="459.80" y="93.63" font-size="7.3" text-anchor="middle" fill="#2a2a2a" transform="rotate(-90 459.80 91.00)" >PMA</text>
<text x="470.00" y="58.02" font-size="7.0" text-anchor="middle" fill="#2a2a2a" transform="rotate(-90 470.00 55.50)" >Percentage of max</text>
<line x1="470.90" y1="112.80" x2="470.90" y2="91.00" stroke="#111" stroke-width="0.8" />
<path d="M469.4,92.5 L470.9,88.6 L472.4,92.5 Z" fill="#111" stroke="none" stroke-width="0.7" />
<circle cx="582.80" cy="5.80" r="2.20" fill="#6d95c8" stroke="#4a6fa0" stroke-width="0.5" />
<text x="589.10" y="8.07" font-size="6.3" fill="#2a2a2a" textLength="8.60" lengthAdjust="spacingAndGlyphs" >WT</text>
<circle cx="612.50" cy="5.80" r="2.20" fill="#f2a89a" stroke="#c97c6e" stroke-width="0.5" />
<text x="618.70" y="8.07" font-size="6.3" fill="#2a2a2a" textLength="24.60" lengthAdjust="spacingAndGlyphs" >XKR8 KO</text>
<circle cx="582.80" cy="13.80" r="2.20" fill="#9cc48f" stroke="#6f9a62" stroke-width="0.5" />
<text x="589.10" y="16.07" font-size="6.3" fill="#2a2a2a" textLength="35.40" lengthAdjust="spacingAndGlyphs" >TMEM16F KO</text>
<line x1="584.10" y1="29.95" x2="584.10" y2="112.20" stroke="#333" stroke-width="0.7" />
<line x1="581.90" y1="112.20" x2="584.10" y2="112.20" stroke="#333" stroke-width="0.7" />
<text x="579.60" y="114.58" font-size="6.6" text-anchor="end" fill="#2a2a2a" >0</text>
<line x1="581.90" y1="95.75" x2="584.10" y2="95.75" stroke="#333" stroke-width="0.7" />
<text x="579.60" y="98.13" font-size="6.6" text-anchor="end" fill="#2a2a2a" >5</text>
<line x1="581.90" y1="79.30" x2="584.10" y2="79.30" stroke="#333" stroke-width="0.7" />
<text x="579.60" y="81.68" font-size="6.6" text-anchor="end" fill="#2a2a2a" >10</text>
<line x1="581.90" y1="62.85" x2="584.10" y2="62.85" stroke="#333" stroke-width="0.7" />
<text x="579.60" y="65.23" font-size="6.6" text-anchor="end" fill="#2a2a2a" >15</text>
<line x1="581.90" y1="46.40" x2="584.10" y2="46.40" stroke="#333" stroke-width="0.7" />
<text x="579.60" y="48.78" font-size="6.6" text-anchor="end" fill="#2a2a2a" >20</text>
<line x1="581.90" y1="29.95" x2="584.10" y2="29.95" stroke="#333" stroke-width="0.7" />
<text x="579.60" y="32.33" font-size="6.6" text-anchor="end" fill="#2a2a2a" >25</text>
<text x="563.20" y="74.59" font-size="7.2" text-anchor="middle" fill="#2a2a2a" transform="rotate(-90 563.20 72.00)" >Annexin V<tspan font-size="4.6" dy="-2.6">+</tspan><tspan dy="2.6">PI</tspan><tspan font-size="4.6" dy="-2.6">−</tspan><tspan dy="2.6"> (%)</tspan></text>
<rect x="615.40" y="52.32" width="5.80" height="59.88" fill="#f7f9fd" stroke="#dbe5f4" stroke-width="0.5" />
<rect x="622.60" y="104.63" width="6.00" height="7.57" fill="#fef6f4" stroke="#f7ddd8" stroke-width="0.5" />
<rect x="630.60" y="61.86" width="6.20" height="50.34" fill="#f8fbf6" stroke="#dcebd6" stroke-width="0.5" />
<line x1="584.10" y1="112.20" x2="638.80" y2="112.20" stroke="#333" stroke-width="0.7" />
<line x1="597.60" y1="112.20" x2="597.60" y2="114.40" stroke="#333" stroke-width="0.7" />
<line x1="625.60" y1="112.20" x2="625.60" y2="114.40" stroke="#333" stroke-width="0.7" />
<line x1="617.90" y1="43.44" x2="617.90" y2="61.53" stroke="#444" stroke-width="0.7" />
<line x1="633.60" y1="55.94" x2="633.60" y2="66.80" stroke="#444" stroke-width="0.7" />
<circle cx="617.90" cy="44.50" r="2.20" fill="#6d95c8" stroke="#4a6fa0" stroke-width="0.5" />
<circle cx="617.90" cy="50.20" r="2.20" fill="#6d95c8" stroke="#4a6fa0" stroke-width="0.5" />
<circle cx="617.90" cy="62.70" r="2.20" fill="#6d95c8" stroke="#4a6fa0" stroke-width="0.5" />
<circle cx="633.60" cy="56.00" r="2.20" fill="#9cc48f" stroke="#6f9a62" stroke-width="0.5" />
<circle cx="634.70" cy="64.80" r="2.20" fill="#9cc48f" stroke="#6f9a62" stroke-width="0.5" />
<circle cx="632.40" cy="67.10" r="2.20" fill="#9cc48f" stroke="#6f9a62" stroke-width="0.5" />
<circle cx="625.00" cy="104.80" r="2.20" fill="#f2a89a" stroke="#c97c6e" stroke-width="0.5" />
<circle cx="626.00" cy="104.20" r="2.20" fill="#f2a89a" stroke="#c97c6e" stroke-width="0.5" />
<circle cx="625.40" cy="105.20" r="2.20" fill="#f2a89a" stroke="#c97c6e" stroke-width="0.5" />
<circle cx="589.60" cy="111.30" r="2.20" fill="#6d95c8" stroke="#4a6fa0" stroke-width="0.5" />
<circle cx="590.80" cy="111.10" r="2.20" fill="#6d95c8" stroke="#4a6fa0" stroke-width="0.5" />
<circle cx="597.40" cy="111.30" r="2.20" fill="#f2a89a" stroke="#c97c6e" stroke-width="0.5" />
<circle cx="598.40" cy="111.20" r="2.20" fill="#f2a89a" stroke="#c97c6e" stroke-width="0.5" />
<circle cx="604.80" cy="111.00" r="2.20" fill="#9cc48f" stroke="#6f9a62" stroke-width="0.5" />
<circle cx="605.80" cy="110.70" r="2.20" fill="#9cc48f" stroke="#6f9a62" stroke-width="0.5" />
<text x="597.60" y="123.38" font-size="6.6" text-anchor="middle" fill="#2a2a2a" >Vehicle</text>
<text x="625.60" y="123.38" font-size="6.6" text-anchor="middle" fill="#2a2a2a" >PMA</text>
<text x="624.40" y="28.88" font-size="6.6" text-anchor="middle" fill="#2a2a2a" >0.1365</text>
<line x1="615.40" y1="31.10" x2="635.90" y2="31.10" stroke="#333" stroke-width="0.7" />
<text x="621.50" y="39.18" font-size="6.6" text-anchor="middle" fill="#2a2a2a" >&lt;0.0001</text>
<line x1="615.40" y1="40.30" x2="628.80" y2="40.30" stroke="#333" stroke-width="0.7" />
<text x="0.20" y="159.85" font-size="11.8" fill="#000" font-weight="bold" stroke="#000" stroke-width="0.3">d</text>
<text x="36.20" y="158.80" font-size="7.5" text-anchor="middle" fill="#2a2a2a" textLength="24.80" lengthAdjust="spacingAndGlyphs" >Vehicle</text>
<text x="87.80" y="158.80" font-size="7.5" text-anchor="middle" fill="#2a2a2a" textLength="14.50" lengthAdjust="spacingAndGlyphs" >PMA</text>
<text x="139.70" y="158.80" font-size="7.5" text-anchor="middle" fill="#2a2a2a" textLength="24.50" lengthAdjust="spacingAndGlyphs" >A23187</text>
<text x="191.70" y="158.80" font-size="7.5" text-anchor="middle" fill="#2a2a2a" textLength="12.70" lengthAdjust="spacingAndGlyphs" >LPS</text>
<text x="243.70" y="158.80" font-size="7.5" text-anchor="middle" fill="#2a2a2a" textLength="28.40" lengthAdjust="spacingAndGlyphs" >Nigericin</text>
<text x="4.30" y="192.72" font-size="7.0" text-anchor="middle" fill="#2a2a2a" textLength="9.90" lengthAdjust="spacingAndGlyphs" transform="rotate(-90 4.30 190.20)" >WT</text>
<text x="4.30" y="243.82" font-size="7.0" text-anchor="middle" fill="#2a2a2a" textLength="29.50" lengthAdjust="spacingAndGlyphs" transform="rotate(-90 4.30 241.30)" >XKR8 KO</text>
<rect x="10.30" y="164.00" width="258.80" height="102.80" fill="#020202" stroke="none" stroke-width="0.7" />
<clipPath id="cd"><rect x="10.30" y="164.00" width="259.20" height="102.80"/></clipPath><g clip-path="url(#cd)">
<ellipse cx="78.60" cy="176.50" rx="6.80" ry="6.80" fill="#5a0c0c" filter="url(#b3)" opacity="0.8" transform="rotate(0 78.6 176.5)"/>
<ellipse cx="78.60" cy="176.50" rx="5.90" ry="5.90" fill="#bc3232" filter="url(#o1)" opacity="1.0" transform="rotate(0 78.6 176.5)"/>
<ellipse cx="79.10" cy="176.20" rx="3.25" ry="3.25" fill="#e25858" filter="url(#o1)" opacity="0.45" transform="rotate(0 79.1 176.2)"/>
<circle cx="78.60" cy="176.70" r="0.60" fill="#5a1010" stroke="none" stroke-width="0.5" filter="url(#b1)"/>
<ellipse cx="105.20" cy="182.40" rx="7.20" ry="7.20" fill="#5a0c0c" filter="url(#b3)" opacity="0.8" transform="rotate(0 105.2 182.4)"/>
<ellipse cx="105.20" cy="182.40" rx="6.30" ry="6.30" fill="#d63636" filter="url(#o1)" opacity="1.0" transform="rotate(0 105.2 182.4)"/>
<ellipse cx="105.70" cy="182.10" rx="3.47" ry="3.47" fill="#e25858" filter="url(#o1)" opacity="0.45" transform="rotate(0 105.7 182.1)"/>
<circle cx="105.20" cy="182.60" r="0.60" fill="#5a1010" stroke="none" stroke-width="0.5" filter="url(#b1)"/>
<ellipse cx="94.40" cy="201.60" rx="6.80" ry="6.80" fill="#5a0c0c" filter="url(#b3)" opacity="0.8" transform="rotate(0 94.4 201.6)"/>
<ellipse cx="94.40" cy="201.60" rx="5.90" ry="5.90" fill="#d03434" filter="url(#o1)" opacity="1.0" transform="rotate(0 94.4 201.6)"/>
<ellipse cx="94.90" cy="201.30" rx="3.25" ry="3.25" fill="#e25858" filter="url(#o1)" opacity="0.45" transform="rotate(0 94.9 201.3)"/>
<circle cx="94.40" cy="201.80" r="0.60" fill="#5a1010" stroke="none" stroke-width="0.5" filter="url(#b1)"/>
<path d="M86,184.5 Q89,190 91.5,196" fill="none" stroke="#982424" stroke-width="0.9" filter="url(#b1)"/>
<g filter="url(#o0)" opacity="1.0" transform="rotate(474.59999999999997 67.8 183.5)"><ellipse cx="67.80" cy="183.50" rx="3.90" ry="3.59" fill="#cecece"/><ellipse cx="68.00" cy="183.50" rx="1.33" ry="1.19" fill="#222"/></g>
<g filter="url(#o0)" opacity="1.0" transform="rotate(564.9 80.7 191.4)"><ellipse cx="80.70" cy="191.40" rx="3.90" ry="3.59" fill="#cecece"/><ellipse cx="80.90" cy="191.40" rx="1.33" ry="1.19" fill="#222"/></g>
<g filter="url(#o0)" opacity="1.0" transform="rotate(443.8 63.4 203.4)"><ellipse cx="63.40" cy="203.40" rx="3.90" ry="3.59" fill="#cecece"/><ellipse cx="63.60" cy="203.40" rx="1.33" ry="1.19" fill="#222"/></g>
<ellipse cx="133.20" cy="171.60" rx="11.00" ry="7.00" fill="#5a0c0c" filter="url(#b3)" opacity="0.8" transform="rotate(8 133.2 171.6)"/>
<ellipse cx="133.20" cy="171.60" rx="10.00" ry="6.00" fill="#d23e3e" filter="url(#o2)" opacity="1.0" transform="rotate(8 133.2 171.6)"/>
<ellipse cx="133.50" cy="171.80" rx="5.50" ry="3.30" fill="#ee7878" filter="url(#o1)" opacity="0.75" transform="rotate(8 133.5 171.8)"/>
<ellipse cx="142.00" cy="189.60" rx="8.60" ry="6.40" fill="#5a0c0c" filter="url(#b3)" opacity="0.8" transform="rotate(35 142.0 189.6)"/>
<ellipse cx="142.00" cy="189.60" rx="7.60" ry="5.40" fill="#d23e3e" filter="url(#o2)" opacity="1.0" transform="rotate(35 142.0 189.6)"/>
<ellipse cx="142.30" cy="189.80" rx="4.18" ry="2.97" fill="#ee7878" filter="url(#o1)" opacity="0.75" transform="rotate(35 142.3 189.8)"/>
<ellipse cx="134.30" cy="202.40" rx="6.60" ry="6.40" fill="#5a0c0c" filter="url(#b3)" opacity="0.8" transform="rotate(0 134.3 202.4)"/>
<ellipse cx="134.30" cy="202.40" rx="5.60" ry="5.40" fill="#d23e3e" filter="url(#o2)" opacity="1.0" transform="rotate(0 134.3 202.4)"/>
<ellipse cx="134.60" cy="202.60" rx="3.08" ry="2.97" fill="#ee7878" filter="url(#o1)" opacity="0.75" transform="rotate(0 134.6 202.6)"/>
<ellipse cx="149.00" cy="209.80" rx="6.40" ry="6.00" fill="#5a0c0c" filter="url(#b3)" opacity="0.8" transform="rotate(20 149.0 209.8)"/>
<ellipse cx="149.00" cy="209.80" rx="5.40" ry="5.00" fill="#d23e3e" filter="url(#o2)" opacity="1.0" transform="rotate(20 149.0 209.8)"/>
<ellipse cx="149.30" cy="210.00" rx="2.97" ry="2.75" fill="#ee7878" filter="url(#o1)" opacity="0.75" transform="rotate(20 149.3 210.0)"/>
<ellipse cx="123.00" cy="166.00" rx="5.50" ry="2.80" fill="#5a0c0c" filter="url(#b3)" opacity="0.8" transform="rotate(40 123.0 166.0)"/>
<ellipse cx="123.00" cy="166.00" rx="4.50" ry="1.80" fill="#d23e3e" filter="url(#o2)" opacity="1.0" transform="rotate(40 123.0 166.0)"/>
<ellipse cx="123.30" cy="166.20" rx="2.48" ry="0.99" fill="#ee7878" filter="url(#o1)" opacity="0.75" transform="rotate(40 123.3 166.2)"/>
<ellipse cx="128.50" cy="172.50" rx="4.20" ry="5.50" fill="#f04848" filter="url(#o1)" opacity="1.0" transform="rotate(-20 128.5 172.5)"/>
<path d="M133.5,184 L138,187 M144,195 L147,204" fill="none" stroke="#c83434" stroke-width="1.4" filter="url(#o1)"/>
<ellipse cx="130.40" cy="182.60" rx="2.50" ry="2.50" fill="#dcdcdc" filter="url(#o0)" opacity="1.0" transform="rotate(0 130.4 182.6)"/>
<ellipse cx="136.00" cy="194.00" rx="2.50" ry="2.50" fill="#dcdcdc" filter="url(#o0)" opacity="1.0" transform="rotate(0 136.0 194.0)"/>
<ellipse cx="134.00" cy="203.80" rx="2.80" ry="2.40" fill="#f6cfcf" filter="url(#b2)" opacity="0.85" transform="rotate(0 134.0 203.8)"/>
<ellipse cx="149.20" cy="211.20" rx="2.00" ry="2.00" fill="#f6cfcf" filter="url(#b2)" opacity="0.75" transform="rotate(0 149.2 211.2)"/>
<ellipse cx="131.00" cy="170.00" rx="2.60" ry="1.60" fill="#f4a0a0" filter="url(#b2)" opacity="0.7" transform="rotate(0 131.0 170.0)"/>
<ellipse cx="175.00" cy="180.00" rx="6.80" ry="6.20" fill="#5a0c0c" filter="url(#b3)" opacity="0.8" transform="rotate(10 175.0 180.0)"/>
<ellipse cx="175.00" cy="180.00" rx="5.80" ry="5.20" fill="#d23e3e" filter="url(#o1)" opacity="1.0" transform="rotate(10 175.0 180.0)"/>
<ellipse cx="202.50" cy="176.00" rx="9.00" ry="5.00" fill="#5a0c0c" filter="url(#b3)" opacity="0.8" transform="rotate(-60 202.5 176.0)"/>
<ellipse cx="202.50" cy="176.00" rx="8.00" ry="4.00" fill="#d23e3e" filter="url(#o1)" opacity="1.0" transform="rotate(-60 202.5 176.0)"/>
<ellipse cx="199.80" cy="195.60" rx="6.40" ry="6.40" fill="#5a0c0c" filter="url(#b3)" opacity="0.8" transform="rotate(0 199.8 195.6)"/>
<ellipse cx="199.80" cy="195.60" rx="5.40" ry="5.40" fill="#d23e3e" filter="url(#o1)" opacity="1.0" transform="rotate(0 199.8 195.6)"/>
<ellipse cx="188.50" cy="207.00" rx="6.40" ry="6.00" fill="#5a0c0c" filter="url(#b3)" opacity="0.8" transform="rotate(0 188.5 207.0)"/>
<ellipse cx="188.50" cy="207.00" rx="5.40" ry="5.00" fill="#d23e3e" filter="url(#o1)" opacity="1.0" transform="rotate(0 188.5 207.0)"/>
<path d="M171,185 Q168,188 167,192" fill="none" stroke="#6a6a6a" stroke-width="1.6" filter="url(#b2)"/>
<ellipse cx="175.00" cy="179.50" rx="3.20" ry="2.80" fill="#f4baba" filter="url(#o1)" opacity="0.8" transform="rotate(0 175.0 179.5)"/>
<ellipse cx="200.00" cy="195.50" rx="3.00" ry="3.00" fill="#eea0a0" filter="url(#o1)" opacity="0.7" transform="rotate(0 200.0 195.5)"/>
<ellipse cx="188.30" cy="207.00" rx="3.00" ry="3.00" fill="#f4baba" filter="url(#o1)" opacity="0.8" transform="rotate(0 188.3 207.0)"/>
<g filter="url(#o0)" opacity="1.0" transform="rotate(40 186.6 194.2)"><ellipse cx="186.60" cy="194.20" rx="3.30" ry="3.04" fill="#cecece"/><ellipse cx="186.80" cy="194.20" rx="1.25" ry="1.13" fill="#222"/></g>
<g filter="url(#o0)" opacity="1.0" transform="rotate(10 210.0 171.3)"><ellipse cx="210.00" cy="171.30" rx="3.10" ry="2.85" fill="#cecece"/><ellipse cx="210.20" cy="171.30" rx="1.18" ry="1.06" fill="#222"/></g>
<ellipse cx="208.60" cy="179.30" rx="3.20" ry="3.20" fill="#ecc4c4" filter="url(#o0)" opacity="0.9" transform="rotate(0 208.6 179.3)"/>
<ellipse cx="167.30" cy="190.50" rx="1.20" ry="3.50" fill="#a8a8a8" filter="url(#b1)" opacity="1.0" transform="rotate(0 167.3 190.5)"/>
<ellipse cx="196.50" cy="208.00" rx="1.20" ry="3.00" fill="#d0d0d0" filter="url(#b1)" opacity="1.0" transform="rotate(0 196.5 208.0)"/>
<ellipse cx="207.00" cy="214.50" rx="2.20" ry="1.20" fill="#c0c0c0" filter="url(#b1)" opacity="1.0" transform="rotate(0 207.0 214.5)"/>
<ellipse cx="236.40" cy="184.00" rx="7.00" ry="5.60" fill="#5a0c0c" filter="url(#b3)" opacity="0.8" transform="rotate(20 236.4 184.0)"/>
<ellipse cx="236.40" cy="184.00" rx="6.00" ry="4.60" fill="#d23e3e" filter="url(#o1)" opacity="1.0" transform="rotate(20 236.4 184.0)"/>
<ellipse cx="241.00" cy="207.20" rx="6.80" ry="4.40" fill="#5a0c0c" filter="url(#b3)" opacity="0.8" transform="rotate(-10 241.0 207.2)"/>
<ellipse cx="241.00" cy="207.20" rx="5.80" ry="3.40" fill="#d23e3e" filter="url(#o1)" opacity="1.0" transform="rotate(-10 241.0 207.2)"/>
<path d="M240,188 L243,204" fill="none" stroke="#b02424" stroke-width="1.3" filter="url(#o1)"/>
<ellipse cx="259.30" cy="168.40" rx="2.80" ry="2.20" fill="#e0e0e0" filter="url(#b1)" opacity="1.0" transform="rotate(0 259.3 168.4)"/>
<ellipse cx="248.00" cy="188.20" rx="2.80" ry="2.20" fill="#e0e0e0" filter="url(#b1)" opacity="1.0" transform="rotate(-20 248.0 188.2)"/>
<ellipse cx="257.00" cy="192.40" rx="2.80" ry="2.20" fill="#e0e0e0" filter="url(#b1)" opacity="1.0" transform="rotate(30 257.0 192.4)"/>
<ellipse cx="234.60" cy="207.70" rx="2.80" ry="2.20" fill="#e0e0e0" filter="url(#b1)" opacity="1.0" transform="rotate(0 234.6 207.7)"/>
<ellipse cx="218.00" cy="214.00" rx="1.00" ry="1.50" fill="#cfcfcf" filter="url(#b1)" opacity="1.0" transform="rotate(0 218.0 214.0)"/>
<g filter="url(#o0)" opacity="1.0" transform="rotate(220.0 20.0 176.5)"><ellipse cx="20.00" cy="176.50" rx="3.20" ry="2.94" fill="#cecece"/><ellipse cx="20.20" cy="176.50" rx="1.22" ry="1.09" fill="#222"/></g>
<g filter="url(#o0)" opacity="1.0" transform="rotate(404.79999999999995 36.8 177.7)"><ellipse cx="36.80" cy="177.70" rx="3.20" ry="2.94" fill="#cecece"/><ellipse cx="37.00" cy="177.70" rx="1.22" ry="1.09" fill="#222"/></g>
<g filter="url(#o0)" opacity="1.0" transform="rotate(426.79999999999995 38.8 190.6)"><ellipse cx="38.80" cy="190.60" rx="3.20" ry="2.94" fill="#cecece"/><ellipse cx="39.00" cy="190.60" rx="1.22" ry="1.09" fill="#222"/></g>
<g filter="url(#o0)" opacity="1.0" transform="rotate(572.0 52.0 191.0)"><ellipse cx="52.00" cy="191.00" rx="3.20" ry="2.94" fill="#cecece"/><ellipse cx="52.20" cy="191.00" rx="1.22" ry="1.09" fill="#222"/></g>
<g filter="url(#o0)" opacity="1.0" transform="rotate(222.2 20.2 200.3)"><ellipse cx="20.20" cy="200.30" rx="3.20" ry="2.94" fill="#cecece"/><ellipse cx="20.40" cy="200.30" rx="1.22" ry="1.09" fill="#222"/></g>
<g filter="url(#o0)" opacity="1.0" transform="rotate(488.4 44.4 201.9)"><ellipse cx="44.40" cy="201.90" rx="3.20" ry="2.94" fill="#cecece"/><ellipse cx="44.60" cy="201.90" rx="1.22" ry="1.09" fill="#222"/></g>
<ellipse cx="28.00" cy="183.80" rx="1.80" ry="2.60" fill="#cfcfcf" filter="url(#b1)" opacity="1.0" transform="rotate(30 28.0 183.8)"/>
<ellipse cx="30.30" cy="183.00" rx="1.50" ry="1.50" fill="#c8c8c8" filter="url(#b1)" opacity="1.0" transform="rotate(0 30.3 183.0)"/>
<g filter="url(#o0)" opacity="1.0" transform="rotate(544.6999999999999 41.9 221.0)"><ellipse cx="41.90" cy="221.00" rx="3.10" ry="2.85" fill="#cecece"/><ellipse cx="42.10" cy="221.00" rx="1.18" ry="1.06" fill="#222"/></g>
<g filter="url(#o0)" opacity="1.0" transform="rotate(193.70000000000002 14.9 237.2)"><ellipse cx="14.90" cy="237.20" rx="3.10" ry="2.85" fill="#cecece"/><ellipse cx="15.10" cy="237.20" rx="1.18" ry="1.06" fill="#222"/></g>
<g filter="url(#o0)" opacity="1.0" transform="rotate(461.5 35.5 239.2)"><ellipse cx="35.50" cy="239.20" rx="3.10" ry="2.85" fill="#cecece"/><ellipse cx="35.70" cy="239.20" rx="1.18" ry="1.06" fill="#222"/></g>
<g filter="url(#o0)" opacity="1.0" transform="rotate(564.1999999999999 43.4 244.0)"><ellipse cx="43.40" cy="244.00" rx="3.10" ry="2.85" fill="#cecece"/><ellipse cx="43.60" cy="244.00" rx="1.18" ry="1.06" fill="#222"/></g>
<g filter="url(#o0)" opacity="1.0" transform="rotate(529.1 40.7 253.7)"><ellipse cx="40.70" cy="253.70" rx="3.10" ry="2.85" fill="#cecece"/><ellipse cx="40.90" cy="253.70" rx="1.18" ry="1.06" fill="#222"/></g>
<g filter="url(#o0)" opacity="1.0" transform="rotate(410.0 82.0 231.4)"><ellipse cx="82.00" cy="231.40" rx="3.30" ry="3.04" fill="#cecece"/><ellipse cx="82.20" cy="231.40" rx="1.25" ry="1.13" fill="#222"/></g>
<g filter="url(#o0)" opacity="1.0" transform="rotate(464.5 92.9 228.3)"><ellipse cx="92.90" cy="228.30" rx="3.30" ry="3.04" fill="#cecece"/><ellipse cx="93.10" cy="228.30" rx="1.25" ry="1.13" fill="#222"/></g>
<g filter="url(#o0)" opacity="1.0" transform="rotate(529.5 105.9 230.4)"><ellipse cx="105.90" cy="230.40" rx="3.30" ry="3.04" fill="#cecece"/><ellipse cx="106.10" cy="230.40" rx="1.25" ry="1.13" fill="#222"/></g>
<g filter="url(#o0)" opacity="1.0" transform="rotate(354.0 70.8 244.4)"><ellipse cx="70.80" cy="244.40" rx="3.30" ry="3.04" fill="#cecece"/><ellipse cx="71.00" cy="244.40" rx="1.25" ry="1.13" fill="#222"/></g>
<g filter="url(#o0)" opacity="1.0" transform="rotate(358.5 71.7 255.8)"><ellipse cx="71.70" cy="255.80" rx="3.30" ry="3.04" fill="#cecece"/><ellipse cx="71.90" cy="255.80" rx="1.25" ry="1.13" fill="#222"/></g>
<ellipse cx="127.50" cy="221.30" rx="4.00" ry="3.60" fill="#b83030" filter="url(#o1)" opacity="1.0" transform="rotate(0 127.5 221.3)"/>
<ellipse cx="128.00" cy="222.30" rx="2.40" ry="2.40" fill="#e8a0a0" filter="url(#b2)" opacity="0.8" transform="rotate(0 128.0 222.3)"/>
<ellipse cx="126.50" cy="253.00" rx="4.20" ry="4.80" fill="#d43434" filter="url(#o1)" opacity="1.0" transform="rotate(0 126.5 253.0)"/>
<ellipse cx="126.00" cy="254.00" rx="2.00" ry="2.60" fill="#f49090" filter="url(#b2)" opacity="0.8" transform="rotate(0 126.0 254.0)"/>
<g filter="url(#o0)" opacity="1.0" transform="rotate(480.0 160.0 223.8)"><ellipse cx="160.00" cy="223.80" rx="2.90" ry="2.67" fill="#cecece"/><ellipse cx="160.20" cy="223.80" rx="0.72" ry="0.65" fill="#222"/></g>
<g filter="url(#o0)" opacity="1.0" transform="rotate(432.0 144.0 231.0)"><ellipse cx="144.00" cy="231.00" rx="2.90" ry="2.67" fill="#cecece"/><ellipse cx="144.20" cy="231.00" rx="0.72" ry="0.65" fill="#222"/></g>
<g filter="url(#o0)" opacity="1.0" transform="rotate(372.0 124.0 237.4)"><ellipse cx="124.00" cy="237.40" rx="2.90" ry="2.67" fill="#cecece"/><ellipse cx="124.20" cy="237.40" rx="0.72" ry="0.65" fill="#222"/></g>
<g filter="url(#o0)" opacity="1.0" transform="rotate(435.59999999999997 145.2 249.2)"><ellipse cx="145.20" cy="249.20" rx="2.90" ry="2.67" fill="#cecece"/><ellipse cx="145.40" cy="249.20" rx="0.72" ry="0.65" fill="#222"/></g>
<ellipse cx="135.50" cy="252.80" rx="2.50" ry="2.50" fill="#d4d4d4" filter="url(#o0)" opacity="1.0" transform="rotate(0 135.5 252.8)"/>
<ellipse cx="132.00" cy="216.30" rx="2.50" ry="1.00" fill="#bfbfbf" filter="url(#b1)" opacity="1.0" transform="rotate(0 132.0 216.3)"/>
<g filter="url(#o0)" opacity="1.0" transform="rotate(586.5 195.5 228.9)"><ellipse cx="195.50" cy="228.90" rx="2.90" ry="2.67" fill="#cecece"/><ellipse cx="195.70" cy="228.90" rx="0.87" ry="0.78" fill="#222"/></g>
<g filter="url(#o0)" opacity="1.0" transform="rotate(521.7 173.9 243.8)"><ellipse cx="173.90" cy="243.80" rx="3.70" ry="3.40" fill="#cecece"/><ellipse cx="174.10" cy="243.80" rx="1.11" ry="1.00" fill="#222"/></g>
<g filter="url(#o0)" opacity="1.0" transform="rotate(566.4000000000001 188.8 246.9)"><ellipse cx="188.80" cy="246.90" rx="3.70" ry="3.40" fill="#cecece"/><ellipse cx="189.00" cy="246.90" rx="1.11" ry="1.00" fill="#222"/></g>
<g filter="url(#o0)" opacity="1.0" transform="rotate(615.5999999999999 205.2 258.3)"><ellipse cx="205.20" cy="258.30" rx="3.00" ry="2.76" fill="#cecece"/><ellipse cx="205.40" cy="258.30" rx="0.90" ry="0.81" fill="#222"/></g>
<ellipse cx="187.60" cy="231.80" rx="2.00" ry="3.00" fill="#d4d4d4" filter="url(#o0)" opacity="1.0" transform="rotate(20 187.6 231.8)"/>
<ellipse cx="236.50" cy="222.80" rx="2.70" ry="2.20" fill="#dedede" filter="url(#o0)" opacity="1.0" transform="rotate(70 236.5 222.8)"/>
<ellipse cx="259.40" cy="229.30" rx="2.70" ry="2.20" fill="#dedede" filter="url(#o0)" opacity="1.0" transform="rotate(-30 259.4 229.3)"/>
<ellipse cx="237.70" cy="244.50" rx="2.70" ry="2.20" fill="#dedede" filter="url(#o0)" opacity="1.0" transform="rotate(40 237.7 244.5)"/>
<ellipse cx="249.80" cy="247.70" rx="2.70" ry="2.20" fill="#dedede" filter="url(#o0)" opacity="1.0" transform="rotate(0 249.8 247.7)"/>
<ellipse cx="225.70" cy="257.00" rx="2.70" ry="2.20" fill="#dedede" filter="url(#o0)" opacity="1.0" transform="rotate(0 225.7 257.0)"/>
<ellipse cx="239.60" cy="255.40" rx="2.70" ry="2.20" fill="#dedede" filter="url(#o0)" opacity="1.0" transform="rotate(10 239.6 255.4)"/>
</g>
<line x1="61.70" y1="164.00" x2="61.70" y2="266.80" stroke="#ececec" stroke-width="0.9" />
<line x1="113.50" y1="164.00" x2="113.50" y2="266.80" stroke="#ececec" stroke-width="0.9" />
<line x1="165.50" y1="164.00" x2="165.50" y2="266.80" stroke="#ececec" stroke-width="0.9" />
<line x1="217.50" y1="164.00" x2="217.50" y2="266.80" stroke="#ececec" stroke-width="0.9" />
<line x1="10.30" y1="215.20" x2="269.10" y2="215.20" stroke="#ececec" stroke-width="0.9" />
<rect x="52.20" y="212.20" width="8.40" height="2.20" fill="#fff" stroke="none" stroke-width="0.7" />
<text x="12.20" y="223.15" font-size="6.8" fill="#c00000" textLength="20.50" lengthAdjust="spacingAndGlyphs" >Cit-H3</text>
<text x="16.20" y="229.35" font-size="6.8" fill="#9a9a9a" textLength="14.00" lengthAdjust="spacingAndGlyphs" >DNA</text>
<rect x="325.90" y="163.80" width="3.50" height="3.50" fill="#6d95c8" stroke="#4a6fa0" stroke-width="0.5" />
<text x="333.90" y="167.77" font-size="6.3" fill="#2a2a2a" textLength="8.40" lengthAdjust="spacingAndGlyphs" >WT</text>
<circle cx="357.20" cy="165.50" r="1.90" fill="#f4b5a6" stroke="#cf8878" stroke-width="0.5" />
<text x="364.00" y="167.77" font-size="6.3" fill="#2a2a2a" textLength="24.30" lengthAdjust="spacingAndGlyphs" >XKR8 KO</text>
<line x1="310.60" y1="171.50" x2="310.60" y2="250.50" stroke="#333" stroke-width="0.7" />
<line x1="308.40" y1="250.50" x2="310.60" y2="250.50" stroke="#333" stroke-width="0.7" />
<text x="305.80" y="252.88" font-size="6.6" text-anchor="end" fill="#2a2a2a" >0</text>
<line x1="308.40" y1="230.75" x2="310.60" y2="230.75" stroke="#333" stroke-width="0.7" />
<text x="305.80" y="233.13" font-size="6.6" text-anchor="end" fill="#2a2a2a" >20</text>
<line x1="308.40" y1="211.00" x2="310.60" y2="211.00" stroke="#333" stroke-width="0.7" />
<text x="305.80" y="213.38" font-size="6.6" text-anchor="end" fill="#2a2a2a" >40</text>
<line x1="308.40" y1="191.25" x2="310.60" y2="191.25" stroke="#333" stroke-width="0.7" />
<text x="305.80" y="193.63" font-size="6.6" text-anchor="end" fill="#2a2a2a" >60</text>
<line x1="308.40" y1="171.50" x2="310.60" y2="171.50" stroke="#333" stroke-width="0.7" />
<text x="305.80" y="173.88" font-size="6.6" text-anchor="end" fill="#2a2a2a" >80</text>
<line x1="310.60" y1="250.50" x2="421.50" y2="250.50" stroke="#333" stroke-width="0.7" />
<text x="290.60" y="214.03" font-size="7.3" text-anchor="middle" fill="#2a2a2a" textLength="27.50" lengthAdjust="spacingAndGlyphs" transform="rotate(-90 290.60 211.40)" >NETs (%)</text>
<line x1="321.00" y1="250.50" x2="321.00" y2="252.70" stroke="#333" stroke-width="0.7" />
<rect x="315.50" y="248.90" width="3.20" height="3.20" fill="#6d95c8" stroke="#4a6fa0" stroke-width="0.5" />
<rect x="318.20" y="248.90" width="3.20" height="3.20" fill="#6d95c8" stroke="#4a6fa0" stroke-width="0.5" />
<rect x="312.80" y="248.90" width="3.20" height="3.20" fill="#6d95c8" stroke="#4a6fa0" stroke-width="0.5" />
<rect x="316.85" y="248.90" width="3.20" height="3.20" fill="#6d95c8" stroke="#4a6fa0" stroke-width="0.5" />
<rect x="314.15" y="247.91" width="3.20" height="3.20" fill="#6d95c8" stroke="#4a6fa0" stroke-width="0.5" />
<rect x="316.85" y="246.93" width="3.20" height="3.20" fill="#6d95c8" stroke="#4a6fa0" stroke-width="0.5" />
<rect x="312.80" y="245.94" width="3.20" height="3.20" fill="#6d95c8" stroke="#4a6fa0" stroke-width="0.5" />
<rect x="315.50" y="243.96" width="3.20" height="3.20" fill="#6d95c8" stroke="#4a6fa0" stroke-width="0.5" />
<rect x="318.20" y="242.97" width="3.20" height="3.20" fill="#6d95c8" stroke="#4a6fa0" stroke-width="0.5" />
<rect x="312.80" y="241.99" width="3.20" height="3.20" fill="#6d95c8" stroke="#4a6fa0" stroke-width="0.5" />
<line x1="317.10" y1="245.45" x2="317.10" y2="250.50" stroke="#4a4a4a" stroke-width="0.55" />
<line x1="315.30" y1="245.45" x2="318.90" y2="245.45" stroke="#4a4a4a" stroke-width="0.55" />
<line x1="313.60" y1="248.13" x2="320.60" y2="248.13" stroke="#4a4a4a" stroke-width="0.55" />
<circle cx="325.60" cy="250.50" r="1.75" fill="#f4b5a6" stroke="#cf8878" stroke-width="0.5" />
<circle cx="328.30" cy="250.50" r="1.75" fill="#f4b5a6" stroke="#cf8878" stroke-width="0.5" />
<circle cx="322.90" cy="250.50" r="1.75" fill="#f4b5a6" stroke="#cf8878" stroke-width="0.5" />
<circle cx="326.95" cy="249.51" r="1.75" fill="#f4b5a6" stroke="#cf8878" stroke-width="0.5" />
<circle cx="324.25" cy="248.53" r="1.75" fill="#f4b5a6" stroke="#cf8878" stroke-width="0.5" />
<circle cx="328.30" cy="247.54" r="1.75" fill="#f4b5a6" stroke="#cf8878" stroke-width="0.5" />
<circle cx="325.60" cy="246.55" r="1.75" fill="#f4b5a6" stroke="#cf8878" stroke-width="0.5" />
<circle cx="322.90" cy="245.56" r="1.75" fill="#f4b5a6" stroke="#cf8878" stroke-width="0.5" />
<circle cx="328.30" cy="244.57" r="1.75" fill="#f4b5a6" stroke="#cf8878" stroke-width="0.5" />
<line x1="325.60" y1="245.93" x2="325.60" y2="250.46" stroke="#4a4a4a" stroke-width="0.55" />
<line x1="323.80" y1="245.93" x2="327.40" y2="245.93" stroke="#4a4a4a" stroke-width="0.55" />
<line x1="323.80" y1="250.46" x2="327.40" y2="250.46" stroke="#4a4a4a" stroke-width="0.55" />
<line x1="322.10" y1="248.20" x2="329.10" y2="248.20" stroke="#4a4a4a" stroke-width="0.55" />
<text x="324.20" y="257.60" font-size="6.6" fill="#2a2a2a" text-anchor="end" transform="rotate(-45 324.20 257.60)">Vehicle</text>
<line x1="343.80" y1="250.50" x2="343.80" y2="252.70" stroke="#333" stroke-width="0.7" />
<rect x="338.30" y="214.34" width="3.20" height="3.20" fill="#6d95c8" stroke="#4a6fa0" stroke-width="0.5" />
<rect x="341.00" y="212.36" width="3.20" height="3.20" fill="#6d95c8" stroke="#4a6fa0" stroke-width="0.5" />
<rect x="338.30" y="211.38" width="3.20" height="3.20" fill="#6d95c8" stroke="#4a6fa0" stroke-width="0.5" />
<rect x="341.00" y="209.40" width="3.20" height="3.20" fill="#6d95c8" stroke="#4a6fa0" stroke-width="0.5" />
<rect x="338.30" y="207.43" width="3.20" height="3.20" fill="#6d95c8" stroke="#4a6fa0" stroke-width="0.5" />
<rect x="341.00" y="206.44" width="3.20" height="3.20" fill="#6d95c8" stroke="#4a6fa0" stroke-width="0.5" />
<rect x="335.60" y="205.45" width="3.20" height="3.20" fill="#6d95c8" stroke="#4a6fa0" stroke-width="0.5" />
<rect x="338.30" y="204.46" width="3.20" height="3.20" fill="#6d95c8" stroke="#4a6fa0" stroke-width="0.5" />
<rect x="341.00" y="202.49" width="3.20" height="3.20" fill="#6d95c8" stroke="#4a6fa0" stroke-width="0.5" />
<rect x="338.30" y="201.50" width="3.20" height="3.20" fill="#6d95c8" stroke="#4a6fa0" stroke-width="0.5" />
<rect x="341.00" y="199.53" width="3.20" height="3.20" fill="#6d95c8" stroke="#4a6fa0" stroke-width="0.5" />
<line x1="339.90" y1="203.68" x2="339.90" y2="213.12" stroke="#4a4a4a" stroke-width="0.55" />
<line x1="338.10" y1="203.68" x2="341.70" y2="203.68" stroke="#4a4a4a" stroke-width="0.55" />
<line x1="338.10" y1="213.12" x2="341.70" y2="213.12" stroke="#4a4a4a" stroke-width="0.55" />
<line x1="336.40" y1="208.40" x2="343.40" y2="208.40" stroke="#4a4a4a" stroke-width="0.55" />
<circle cx="348.40" cy="247.54" r="1.75" fill="#f4b5a6" stroke="#cf8878" stroke-width="0.5" />
<circle cx="351.10" cy="246.55" r="1.75" fill="#f4b5a6" stroke="#cf8878" stroke-width="0.5" />
<circle cx="345.70" cy="245.56" r="1.75" fill="#f4b5a6" stroke="#cf8878" stroke-width="0.5" />
<circle cx="348.40" cy="244.57" r="1.75" fill="#f4b5a6" stroke="#cf8878" stroke-width="0.5" />
<circle cx="351.10" cy="243.59" r="1.75" fill="#f4b5a6" stroke="#cf8878" stroke-width="0.5" />
<circle cx="345.70" cy="242.60" r="1.75" fill="#f4b5a6" stroke="#cf8878" stroke-width="0.5" />
<circle cx="348.40" cy="241.61" r="1.75" fill="#f4b5a6" stroke="#cf8878" stroke-width="0.5" />
<circle cx="351.10" cy="240.62" r="1.75" fill="#f4b5a6" stroke="#cf8878" stroke-width="0.5" />
<circle cx="348.40" cy="238.65" r="1.75" fill="#f4b5a6" stroke="#cf8878" stroke-width="0.5" />
<circle cx="351.10" cy="236.68" r="1.75" fill="#f4b5a6" stroke="#cf8878" stroke-width="0.5" />
<circle cx="348.40" cy="232.72" r="1.75" fill="#f4b5a6" stroke="#cf8878" stroke-width="0.5" />
<line x1="348.40" y1="237.40" x2="348.40" y2="246.37" stroke="#4a4a4a" stroke-width="0.55" />
<line x1="346.60" y1="237.40" x2="350.20" y2="237.40" stroke="#4a4a4a" stroke-width="0.55" />
<line x1="346.60" y1="246.37" x2="350.20" y2="246.37" stroke="#4a4a4a" stroke-width="0.55" />
<line x1="344.90" y1="241.88" x2="351.90" y2="241.88" stroke="#4a4a4a" stroke-width="0.55" />
<text x="347.00" y="257.60" font-size="6.6" fill="#2a2a2a" text-anchor="end" transform="rotate(-45 347.00 257.60)">PMA</text>
<line x1="366.40" y1="250.50" x2="366.40" y2="252.70" stroke="#333" stroke-width="0.7" />
<rect x="360.90" y="214.34" width="3.20" height="3.20" fill="#6d95c8" stroke="#4a6fa0" stroke-width="0.5" />
<rect x="363.60" y="212.36" width="3.20" height="3.20" fill="#6d95c8" stroke="#4a6fa0" stroke-width="0.5" />
<rect x="360.90" y="209.40" width="3.20" height="3.20" fill="#6d95c8" stroke="#4a6fa0" stroke-width="0.5" />
<rect x="360.90" y="205.45" width="3.20" height="3.20" fill="#6d95c8" stroke="#4a6fa0" stroke-width="0.5" />
<rect x="363.60" y="203.47" width="3.20" height="3.20" fill="#6d95c8" stroke="#4a6fa0" stroke-width="0.5" />
<rect x="360.90" y="201.50" width="3.20" height="3.20" fill="#6d95c8" stroke="#4a6fa0" stroke-width="0.5" />
<rect x="363.60" y="199.53" width="3.20" height="3.20" fill="#6d95c8" stroke="#4a6fa0" stroke-width="0.5" />
<rect x="360.90" y="198.54" width="3.20" height="3.20" fill="#6d95c8" stroke="#4a6fa0" stroke-width="0.5" />
<rect x="363.60" y="196.56" width="3.20" height="3.20" fill="#6d95c8" stroke="#4a6fa0" stroke-width="0.5" />
<rect x="360.90" y="193.60" width="3.20" height="3.20" fill="#6d95c8" stroke="#4a6fa0" stroke-width="0.5" />
<rect x="363.60" y="191.62" width="3.20" height="3.20" fill="#6d95c8" stroke="#4a6fa0" stroke-width="0.5" />
<rect x="360.90" y="187.68" width="3.20" height="3.20" fill="#6d95c8" stroke="#4a6fa0" stroke-width="0.5" />
<line x1="362.50" y1="194.51" x2="362.50" y2="211.04" stroke="#4a4a4a" stroke-width="0.55" />
<line x1="360.70" y1="194.51" x2="364.30" y2="194.51" stroke="#4a4a4a" stroke-width="0.55" />
<line x1="360.70" y1="211.04" x2="364.30" y2="211.04" stroke="#4a4a4a" stroke-width="0.55" />
<line x1="359.00" y1="202.77" x2="366.00" y2="202.77" stroke="#4a4a4a" stroke-width="0.55" />
<circle cx="371.00" cy="235.69" r="1.75" fill="#f4b5a6" stroke="#cf8878" stroke-width="0.5" />
<circle cx="373.70" cy="233.71" r="1.75" fill="#f4b5a6" stroke="#cf8878" stroke-width="0.5" />
<circle cx="371.00" cy="232.72" r="1.75" fill="#f4b5a6" stroke="#cf8878" stroke-width="0.5" />
<circle cx="368.30" cy="231.74" r="1.75" fill="#f4b5a6" stroke="#cf8878" stroke-width="0.5" />
<circle cx="373.70" cy="230.75" r="1.75" fill="#f4b5a6" stroke="#cf8878" stroke-width="0.5" />
<circle cx="371.00" cy="229.76" r="1.75" fill="#f4b5a6" stroke="#cf8878" stroke-width="0.5" />
<circle cx="368.30" cy="228.78" r="1.75" fill="#f4b5a6" stroke="#cf8878" stroke-width="0.5" />
<circle cx="373.70" cy="227.79" r="1.75" fill="#f4b5a6" stroke="#cf8878" stroke-width="0.5" />
<circle cx="371.00" cy="225.81" r="1.75" fill="#f4b5a6" stroke="#cf8878" stroke-width="0.5" />
<circle cx="373.70" cy="223.84" r="1.75" fill="#f4b5a6" stroke="#cf8878" stroke-width="0.5" />
<line x1="371.00" y1="226.42" x2="371.00" y2="233.70" stroke="#4a4a4a" stroke-width="0.55" />
<line x1="369.20" y1="226.42" x2="372.80" y2="226.42" stroke="#4a4a4a" stroke-width="0.55" />
<line x1="369.20" y1="233.70" x2="372.80" y2="233.70" stroke="#4a4a4a" stroke-width="0.55" />
<line x1="367.50" y1="230.06" x2="374.50" y2="230.06" stroke="#4a4a4a" stroke-width="0.55" />
<text x="369.60" y="257.60" font-size="6.6" fill="#2a2a2a" text-anchor="end" transform="rotate(-45 369.60 257.60)">A23187</text>
<line x1="388.60" y1="250.50" x2="388.60" y2="252.70" stroke="#333" stroke-width="0.7" />
<rect x="383.10" y="227.18" width="3.20" height="3.20" fill="#6d95c8" stroke="#4a6fa0" stroke-width="0.5" />
<rect x="385.80" y="225.20" width="3.20" height="3.20" fill="#6d95c8" stroke="#4a6fa0" stroke-width="0.5" />
<rect x="383.10" y="219.28" width="3.20" height="3.20" fill="#6d95c8" stroke="#4a6fa0" stroke-width="0.5" />
<rect x="383.10" y="214.34" width="3.20" height="3.20" fill="#6d95c8" stroke="#4a6fa0" stroke-width="0.5" />
<rect x="383.10" y="211.38" width="3.20" height="3.20" fill="#6d95c8" stroke="#4a6fa0" stroke-width="0.5" />
<rect x="385.80" y="210.39" width="3.20" height="3.20" fill="#6d95c8" stroke="#4a6fa0" stroke-width="0.5" />
<rect x="380.40" y="209.40" width="3.20" height="3.20" fill="#6d95c8" stroke="#4a6fa0" stroke-width="0.5" />
<rect x="383.10" y="208.41" width="3.20" height="3.20" fill="#6d95c8" stroke="#4a6fa0" stroke-width="0.5" />
<rect x="383.10" y="205.45" width="3.20" height="3.20" fill="#6d95c8" stroke="#4a6fa0" stroke-width="0.5" />
<rect x="383.10" y="202.49" width="3.20" height="3.20" fill="#6d95c8" stroke="#4a6fa0" stroke-width="0.5" />
<rect x="385.80" y="201.50" width="3.20" height="3.20" fill="#6d95c8" stroke="#4a6fa0" stroke-width="0.5" />
<line x1="384.70" y1="205.34" x2="384.70" y2="222.41" stroke="#4a4a4a" stroke-width="0.55" />
<line x1="382.90" y1="205.34" x2="386.50" y2="205.34" stroke="#4a4a4a" stroke-width="0.55" />
<line x1="382.90" y1="222.41" x2="386.50" y2="222.41" stroke="#4a4a4a" stroke-width="0.55" />
<line x1="381.20" y1="213.87" x2="388.20" y2="213.87" stroke="#4a4a4a" stroke-width="0.55" />
<circle cx="393.20" cy="241.61" r="1.75" fill="#f4b5a6" stroke="#cf8878" stroke-width="0.5" />
<circle cx="395.90" cy="239.64" r="1.75" fill="#f4b5a6" stroke="#cf8878" stroke-width="0.5" />
<circle cx="393.20" cy="236.68" r="1.75" fill="#f4b5a6" stroke="#cf8878" stroke-width="0.5" />
<circle cx="395.90" cy="234.70" r="1.75" fill="#f4b5a6" stroke="#cf8878" stroke-width="0.5" />
<circle cx="393.20" cy="233.71" r="1.75" fill="#f4b5a6" stroke="#cf8878" stroke-width="0.5" />
<circle cx="390.50" cy="232.72" r="1.75" fill="#f4b5a6" stroke="#cf8878" stroke-width="0.5" />
<circle cx="395.90" cy="232.72" r="1.75" fill="#f4b5a6" stroke="#cf8878" stroke-width="0.5" />
<circle cx="393.20" cy="231.74" r="1.75" fill="#f4b5a6" stroke="#cf8878" stroke-width="0.5" />
<circle cx="395.90" cy="230.75" r="1.75" fill="#f4b5a6" stroke="#cf8878" stroke-width="0.5" />
<circle cx="390.50" cy="230.75" r="1.75" fill="#f4b5a6" stroke="#cf8878" stroke-width="0.5" />
<circle cx="393.20" cy="229.76" r="1.75" fill="#f4b5a6" stroke="#cf8878" stroke-width="0.5" />
<line x1="393.20" y1="230.27" x2="393.20" y2="237.88" stroke="#4a4a4a" stroke-width="0.55" />
<line x1="391.40" y1="230.27" x2="395.00" y2="230.27" stroke="#4a4a4a" stroke-width="0.55" />
<line x1="391.40" y1="237.88" x2="395.00" y2="237.88" stroke="#4a4a4a" stroke-width="0.55" />
<line x1="389.70" y1="234.07" x2="396.70" y2="234.07" stroke="#4a4a4a" stroke-width="0.55" />
<text x="391.80" y="257.60" font-size="6.6" fill="#2a2a2a" text-anchor="end" transform="rotate(-45 391.80 257.60)">LPS</text>
<line x1="411.00" y1="250.50" x2="411.00" y2="252.70" stroke="#333" stroke-width="0.7" />
<rect x="405.50" y="238.04" width="3.20" height="3.20" fill="#6d95c8" stroke="#4a6fa0" stroke-width="0.5" />
<rect x="408.20" y="236.06" width="3.20" height="3.20" fill="#6d95c8" stroke="#4a6fa0" stroke-width="0.5" />
<rect x="405.50" y="235.08" width="3.20" height="3.20" fill="#6d95c8" stroke="#4a6fa0" stroke-width="0.5" />
<rect x="402.80" y="234.09" width="3.20" height="3.20" fill="#6d95c8" stroke="#4a6fa0" stroke-width="0.5" />
<rect x="408.20" y="233.10" width="3.20" height="3.20" fill="#6d95c8" stroke="#4a6fa0" stroke-width="0.5" />
<rect x="405.50" y="232.11" width="3.20" height="3.20" fill="#6d95c8" stroke="#4a6fa0" stroke-width="0.5" />
<rect x="402.80" y="231.12" width="3.20" height="3.20" fill="#6d95c8" stroke="#4a6fa0" stroke-width="0.5" />
<rect x="408.20" y="230.14" width="3.20" height="3.20" fill="#6d95c8" stroke="#4a6fa0" stroke-width="0.5" />
<rect x="405.50" y="229.15" width="3.20" height="3.20" fill="#6d95c8" stroke="#4a6fa0" stroke-width="0.5" />
<rect x="405.50" y="217.30" width="3.20" height="3.20" fill="#6d95c8" stroke="#4a6fa0" stroke-width="0.5" />
<rect x="408.20" y="216.31" width="3.20" height="3.20" fill="#6d95c8" stroke="#4a6fa0" stroke-width="0.5" />
<line x1="407.10" y1="224.70" x2="407.10" y2="238.95" stroke="#4a4a4a" stroke-width="0.55" />
<line x1="405.30" y1="224.70" x2="408.90" y2="224.70" stroke="#4a4a4a" stroke-width="0.55" />
<line x1="405.30" y1="238.95" x2="408.90" y2="238.95" stroke="#4a4a4a" stroke-width="0.55" />
<line x1="403.60" y1="231.83" x2="410.60" y2="231.83" stroke="#4a4a4a" stroke-width="0.55" />
<circle cx="415.60" cy="250.50" r="1.75" fill="#f4b5a6" stroke="#cf8878" stroke-width="0.5" />
<circle cx="418.30" cy="250.50" r="1.75" fill="#f4b5a6" stroke="#cf8878" stroke-width="0.5" />
<circle cx="412.90" cy="250.50" r="1.75" fill="#f4b5a6" stroke="#cf8878" stroke-width="0.5" />
<circle cx="416.95" cy="250.50" r="1.75" fill="#f4b5a6" stroke="#cf8878" stroke-width="0.5" />
<circle cx="414.25" cy="249.51" r="1.75" fill="#f4b5a6" stroke="#cf8878" stroke-width="0.5" />
<circle cx="415.60" cy="249.51" r="1.75" fill="#f4b5a6" stroke="#cf8878" stroke-width="0.5" />
<circle cx="418.30" cy="248.53" r="1.75" fill="#f4b5a6" stroke="#cf8878" stroke-width="0.5" />
<circle cx="412.90" cy="247.54" r="1.75" fill="#f4b5a6" stroke="#cf8878" stroke-width="0.5" />
<circle cx="415.60" cy="246.55" r="1.75" fill="#f4b5a6" stroke="#cf8878" stroke-width="0.5" />
<circle cx="418.30" cy="245.56" r="1.75" fill="#f4b5a6" stroke="#cf8878" stroke-width="0.5" />
<line x1="415.60" y1="247.11" x2="415.60" y2="250.50" stroke="#4a4a4a" stroke-width="0.55" />
<line x1="413.80" y1="247.11" x2="417.40" y2="247.11" stroke="#4a4a4a" stroke-width="0.55" />
<line x1="412.10" y1="248.92" x2="419.10" y2="248.92" stroke="#4a4a4a" stroke-width="0.55" />
<text x="414.20" y="257.60" font-size="6.6" fill="#2a2a2a" text-anchor="end" transform="rotate(-45 414.20 257.60)">Nigericin</text>
<text x="323.90" y="236.38" font-size="6.6" text-anchor="middle" fill="#2a2a2a" >&gt;0.9999</text>
<line x1="313.90" y1="238.30" x2="330.20" y2="238.30" stroke="#333" stroke-width="0.7" />
<text x="343.90" y="195.48" font-size="6.6" text-anchor="middle" fill="#2a2a2a" >&lt;0.0001</text>
<line x1="335.70" y1="196.90" x2="352.00" y2="196.90" stroke="#333" stroke-width="0.7" />
<text x="366.00" y="183.98" font-size="6.6" text-anchor="middle" fill="#2a2a2a" >&lt;0.0001</text>
<line x1="357.70" y1="185.40" x2="374.50" y2="185.40" stroke="#333" stroke-width="0.7" />
<text x="388.30" y="196.98" font-size="6.6" text-anchor="middle" fill="#2a2a2a" >&lt;0.0001</text>
<line x1="379.80" y1="198.90" x2="396.10" y2="198.90" stroke="#333" stroke-width="0.7" />
<text x="411.10" y="211.28" font-size="6.6" text-anchor="middle" fill="#2a2a2a" >&lt;0.0001</text>
<line x1="402.10" y1="213.20" x2="418.70" y2="213.20" stroke="#333" stroke-width="0.7" />
<text x="448.80" y="159.65" font-size="11.8" fill="#000" font-weight="bold" stroke="#000" stroke-width="0.3">e</text>
<text x="485.20" y="160.70" font-size="7.5" text-anchor="middle" fill="#2a2a2a" textLength="18.40" lengthAdjust="spacingAndGlyphs" >Mock</text>
<text x="537.50" y="160.70" font-size="7.5" text-anchor="middle" fill="#2a2a2a" font-style="italic" textLength="37.50" lengthAdjust="spacingAndGlyphs" >C. albicans</text>
<text x="453.60" y="192.72" font-size="7.0" text-anchor="middle" fill="#2a2a2a" textLength="9.90" lengthAdjust="spacingAndGlyphs" transform="rotate(-90 453.60 190.20)" >WT</text>
<text x="453.60" y="245.02" font-size="7.0" text-anchor="middle" fill="#2a2a2a" textLength="29.50" lengthAdjust="spacingAndGlyphs" transform="rotate(-90 453.60 242.50)" >XKR8 KO</text>
<rect x="459.60" y="164.40" width="103.60" height="103.50" fill="#686868" stroke="none" stroke-width="0.7" />
<rect x="511.60" y="164.40" width="51.60" height="103.50" fill="#6a6a6a" stroke="none" stroke-width="0.7" />
<clipPath id="ce"><rect x="459.60" y="164.40" width="103.60" height="103.50"/></clipPath><g clip-path="url(#ce)">
<g filter="url(#b1)"><circle cx="502.40" cy="172.00" r="3.70" fill="#4a7ef6"/><circle cx="502.70" cy="172.20" r="1.18" fill="#3a64c8"/></g>
<g filter="url(#b1)"><circle cx="482.30" cy="181.30" r="3.70" fill="#4a7ef6"/><circle cx="482.60" cy="181.50" r="1.18" fill="#3a64c8"/></g>
<g filter="url(#b1)"><circle cx="464.80" cy="185.40" r="3.70" fill="#4a7ef6"/><circle cx="465.10" cy="185.60" r="1.18" fill="#3a64c8"/></g>
<g filter="url(#b1)"><circle cx="491.20" cy="191.20" r="3.70" fill="#4a7ef6"/><circle cx="491.50" cy="191.40" r="1.18" fill="#3a64c8"/></g>
<g filter="url(#b1)"><circle cx="493.30" cy="199.90" r="3.70" fill="#4a7ef6"/><circle cx="493.60" cy="200.10" r="1.18" fill="#3a64c8"/></g>
<g filter="url(#b1)"><circle cx="505.70" cy="207.10" r="3.70" fill="#4a7ef6"/><circle cx="506.00" cy="207.30" r="1.18" fill="#3a64c8"/></g>
<g filter="url(#b1)"><circle cx="494.70" cy="224.50" r="3.70" fill="#4a7ef6"/><circle cx="495.00" cy="224.70" r="1.18" fill="#3a64c8"/></g>
<g filter="url(#b1)"><circle cx="480.70" cy="234.20" r="3.70" fill="#4a7ef6"/><circle cx="481.00" cy="234.40" r="1.18" fill="#3a64c8"/></g>
<g filter="url(#b1)"><circle cx="467.90" cy="251.20" r="3.70" fill="#4a7ef6"/><circle cx="468.20" cy="251.40" r="1.18" fill="#3a64c8"/></g>
<g filter="url(#b1)"><circle cx="497.40" cy="249.30" r="3.70" fill="#4a7ef6"/><circle cx="497.70" cy="249.50" r="1.18" fill="#3a64c8"/></g>
<g filter="url(#b1)"><circle cx="480.70" cy="256.50" r="3.70" fill="#4a7ef6"/><circle cx="481.00" cy="256.70" r="1.18" fill="#3a64c8"/></g>
<ellipse cx="500.00" cy="268.00" rx="2.00" ry="1.50" fill="#4a7ef6" filter="url(#b1)" opacity="1.0" transform="rotate(0 500.0 268.0)"/>
<ellipse cx="470.00" cy="200.00" rx="1.20" ry="0.80" fill="#5a5a5a" filter="url(#b1)" opacity="0.7" transform="rotate(0 470.0 200.0)"/>
<ellipse cx="488.00" cy="170.00" rx="1.20" ry="0.80" fill="#5a5a5a" filter="url(#b1)" opacity="0.7" transform="rotate(0 488.0 170.0)"/>
<ellipse cx="476.00" cy="244.00" rx="1.20" ry="0.80" fill="#5a5a5a" filter="url(#b1)" opacity="0.7" transform="rotate(0 476.0 244.0)"/>
<ellipse cx="504.00" cy="238.00" rx="1.20" ry="0.80" fill="#5a5a5a" filter="url(#b1)" opacity="0.7" transform="rotate(0 504.0 238.0)"/>
<ellipse cx="465.00" cy="262.00" rx="1.20" ry="0.80" fill="#5a5a5a" filter="url(#b1)" opacity="0.7" transform="rotate(0 465.0 262.0)"/>
<ellipse cx="558.00" cy="173.00" rx="4.50" ry="9.00" fill="#7a68d8" filter="url(#o3)" opacity="0.7" transform="rotate(15 558.0 173.0)"/>
<ellipse cx="553.00" cy="178.00" rx="7.00" ry="3.00" fill="#8a60c8" filter="url(#o3)" opacity="0.6" transform="rotate(-35 553.0 178.0)"/>
<g filter="url(#b1)"><line x1="521.3" y1="169.8" x2="523.1" y2="172.4" stroke="#4e4e4e" stroke-width="0.7"/><line x1="523.0" y1="170.4" x2="524.5" y2="172.5" stroke="#b2b2b2" stroke-width="0.9"/><circle cx="523.0" cy="171.4" r="1.05" fill="#4a84ff"/></g>
<g filter="url(#b1)"><line x1="524.4" y1="171.1" x2="526.2" y2="173.7" stroke="#4e4e4e" stroke-width="0.7"/><line x1="526.1" y1="171.7" x2="527.6" y2="173.8" stroke="#b2b2b2" stroke-width="0.9"/><circle cx="526.1" cy="172.7" r="1.05" fill="#4a84ff"/></g>
<g filter="url(#b1)"><line x1="526.2" y1="167.2" x2="528.0" y2="169.8" stroke="#4e4e4e" stroke-width="0.7"/><line x1="527.9" y1="167.8" x2="529.4" y2="169.9" stroke="#b2b2b2" stroke-width="0.9"/><ellipse cx="527.9" cy="168.8" rx="1.2" ry="1.0" fill="#989898"/></g>
<g filter="url(#b1)"><line x1="528.4" y1="169.4" x2="530.2" y2="172.0" stroke="#4e4e4e" stroke-width="0.7"/><line x1="530.1" y1="170.0" x2="531.6" y2="172.1" stroke="#b2b2b2" stroke-width="0.9"/><circle cx="530.1" cy="171.0" r="1.05" fill="#4a84ff"/></g>
<g filter="url(#b1)"><line x1="531.5" y1="170.7" x2="533.3" y2="173.3" stroke="#4e4e4e" stroke-width="0.7"/><line x1="533.2" y1="171.3" x2="534.7" y2="173.4" stroke="#b2b2b2" stroke-width="0.9"/><circle cx="533.2" cy="172.3" r="1.05" fill="#4a84ff"/></g>
<g filter="url(#b1)"><line x1="523.6" y1="176.0" x2="525.4" y2="178.6" stroke="#4e4e4e" stroke-width="0.7"/><line x1="525.3" y1="176.6" x2="526.8" y2="178.7" stroke="#b2b2b2" stroke-width="0.9"/><circle cx="525.3" cy="177.6" r="1.05" fill="#4a84ff"/></g>
<g filter="url(#b1)"><line x1="529.8" y1="175.1" x2="531.6" y2="177.7" stroke="#4e4e4e" stroke-width="0.7"/><line x1="531.5" y1="175.7" x2="533.0" y2="177.8" stroke="#b2b2b2" stroke-width="0.9"/><circle cx="531.5" cy="176.7" r="1.05" fill="#4a84ff"/></g>
<g filter="url(#b1)"><line x1="533.3" y1="174.7" x2="535.1" y2="177.3" stroke="#4e4e4e" stroke-width="0.7"/><line x1="535.0" y1="175.3" x2="536.5" y2="177.4" stroke="#b2b2b2" stroke-width="0.9"/><ellipse cx="535.0" cy="176.3" rx="1.2" ry="1.0" fill="#989898"/></g>
<g filter="url(#b1)"><line x1="532.8" y1="177.8" x2="534.6" y2="180.4" stroke="#4e4e4e" stroke-width="0.7"/><line x1="534.5" y1="178.4" x2="536.0" y2="180.5" stroke="#b2b2b2" stroke-width="0.9"/><circle cx="534.5" cy="179.4" r="1.05" fill="#4a84ff"/></g>
<g filter="url(#b1)"><line x1="521.3" y1="172.6" x2="523.1" y2="175.2" stroke="#4e4e4e" stroke-width="0.7"/><line x1="523.0" y1="173.2" x2="524.5" y2="175.3" stroke="#b2b2b2" stroke-width="0.9"/><circle cx="523.0" cy="174.2" r="1.05" fill="#4a84ff"/></g>
<g filter="url(#b1)"><line x1="549.7" y1="171.6" x2="551.5" y2="174.2" stroke="#4e4e4e" stroke-width="0.7"/><line x1="551.4" y1="172.2" x2="552.9" y2="174.3" stroke="#b2b2b2" stroke-width="0.9"/><circle cx="551.4" cy="173.2" r="1.05" fill="#4a84ff"/></g>
<g filter="url(#b1)"><line x1="546.1" y1="173.4" x2="547.9" y2="176.0" stroke="#4e4e4e" stroke-width="0.7"/><line x1="547.8" y1="174.0" x2="549.3" y2="176.1" stroke="#b2b2b2" stroke-width="0.9"/><ellipse cx="547.8" cy="175.0" rx="1.2" ry="1.0" fill="#989898"/></g>
<g filter="url(#b1)"><line x1="543.9" y1="176.0" x2="545.7" y2="178.6" stroke="#4e4e4e" stroke-width="0.7"/><line x1="545.6" y1="176.6" x2="547.1" y2="178.7" stroke="#b2b2b2" stroke-width="0.9"/><circle cx="545.6" cy="177.6" r="1.05" fill="#4a84ff"/></g>
<g filter="url(#b1)"><line x1="547.5" y1="176.4" x2="549.3" y2="179.0" stroke="#4e4e4e" stroke-width="0.7"/><line x1="549.2" y1="177.0" x2="550.7" y2="179.1" stroke="#b2b2b2" stroke-width="0.9"/><ellipse cx="549.2" cy="178.0" rx="1.2" ry="1.0" fill="#989898"/></g>
<g filter="url(#b1)"><line x1="555.9" y1="164.9" x2="557.7" y2="167.5" stroke="#4e4e4e" stroke-width="0.7"/><line x1="557.6" y1="165.5" x2="559.1" y2="167.6" stroke="#b2b2b2" stroke-width="0.9"/><ellipse cx="557.6" cy="166.5" rx="1.2" ry="1.0" fill="#989898"/></g>
<g filter="url(#b1)"><line x1="559.8" y1="164.1" x2="561.6" y2="166.7" stroke="#4e4e4e" stroke-width="0.7"/><line x1="561.5" y1="164.7" x2="563.0" y2="166.8" stroke="#b2b2b2" stroke-width="0.9"/><circle cx="561.5" cy="165.7" r="1.05" fill="#4a84ff"/></g>
<g filter="url(#b1)"><line x1="555.4" y1="169.4" x2="557.2" y2="172.0" stroke="#4e4e4e" stroke-width="0.7"/><line x1="557.1" y1="170.0" x2="558.6" y2="172.1" stroke="#b2b2b2" stroke-width="0.9"/><circle cx="557.1" cy="171.0" r="1.05" fill="#4a84ff"/></g>
<g filter="url(#b1)"><line x1="559.4" y1="175.6" x2="561.2" y2="178.2" stroke="#4e4e4e" stroke-width="0.7"/><line x1="561.1" y1="176.2" x2="562.6" y2="178.3" stroke="#b2b2b2" stroke-width="0.9"/><circle cx="561.1" cy="177.2" r="1.05" fill="#4a84ff"/></g>
<g filter="url(#b1)"><line x1="556.7" y1="180.9" x2="558.5" y2="183.5" stroke="#4e4e4e" stroke-width="0.7"/><line x1="558.4" y1="181.5" x2="559.9" y2="183.6" stroke="#b2b2b2" stroke-width="0.9"/><circle cx="558.4" cy="182.5" r="1.05" fill="#4a84ff"/></g>
<g filter="url(#b1)"><line x1="551.0" y1="182.6" x2="552.8" y2="185.2" stroke="#4e4e4e" stroke-width="0.7"/><line x1="552.7" y1="183.2" x2="554.2" y2="185.3" stroke="#b2b2b2" stroke-width="0.9"/><circle cx="552.7" cy="184.2" r="1.05" fill="#4a84ff"/></g>
<g filter="url(#b1)"><line x1="539.9" y1="180.0" x2="541.7" y2="182.6" stroke="#4e4e4e" stroke-width="0.7"/><line x1="541.6" y1="180.6" x2="543.1" y2="182.7" stroke="#b2b2b2" stroke-width="0.9"/><circle cx="541.6" cy="181.6" r="1.05" fill="#4a84ff"/></g>
<g filter="url(#b1)"><line x1="540.4" y1="185.3" x2="542.2" y2="187.9" stroke="#4e4e4e" stroke-width="0.7"/><line x1="542.1" y1="185.9" x2="543.6" y2="188.0" stroke="#b2b2b2" stroke-width="0.9"/><circle cx="542.1" cy="186.9" r="1.05" fill="#4a84ff"/></g>
<g filter="url(#b1)"><line x1="544.8" y1="186.6" x2="546.6" y2="189.2" stroke="#4e4e4e" stroke-width="0.7"/><line x1="546.5" y1="187.2" x2="548.0" y2="189.3" stroke="#b2b2b2" stroke-width="0.9"/><circle cx="546.5" cy="188.2" r="1.05" fill="#4a84ff"/></g>
<g filter="url(#b1)"><line x1="537.3" y1="186.6" x2="539.1" y2="189.2" stroke="#4e4e4e" stroke-width="0.7"/><line x1="539.0" y1="187.2" x2="540.5" y2="189.3" stroke="#b2b2b2" stroke-width="0.9"/><circle cx="539.0" cy="188.2" r="1.05" fill="#4a84ff"/></g>
<g filter="url(#b1)"><line x1="520.5" y1="190.6" x2="522.3" y2="193.2" stroke="#4e4e4e" stroke-width="0.7"/><line x1="522.2" y1="191.2" x2="523.7" y2="193.3" stroke="#b2b2b2" stroke-width="0.9"/><ellipse cx="522.2" cy="192.2" rx="1.2" ry="1.0" fill="#989898"/></g>
<g filter="url(#b1)"><line x1="511.2" y1="191.9" x2="513.0" y2="194.5" stroke="#4e4e4e" stroke-width="0.7"/><line x1="512.9" y1="192.5" x2="514.4" y2="194.6" stroke="#b2b2b2" stroke-width="0.9"/><ellipse cx="512.9" cy="193.5" rx="1.2" ry="1.0" fill="#989898"/></g>
<g filter="url(#b1)"><line x1="551.9" y1="163.2" x2="553.7" y2="165.8" stroke="#4e4e4e" stroke-width="0.7"/><line x1="553.6" y1="163.8" x2="555.1" y2="165.9" stroke="#b2b2b2" stroke-width="0.9"/><ellipse cx="553.6" cy="164.8" rx="1.2" ry="1.0" fill="#989898"/></g>
<g filter="url(#b1)"><line x1="517.9" y1="212.3" x2="519.5" y2="215.0" stroke="#4e4e4e" stroke-width="0.7"/><line x1="519.6" y1="212.9" x2="520.9" y2="215.1" stroke="#b2b2b2" stroke-width="0.9"/><ellipse cx="519.5" cy="214.0" rx="1.2" ry="1.0" fill="#989898"/></g>
<g filter="url(#b1)"><line x1="528.6" y1="204.8" x2="530.2" y2="207.5" stroke="#4e4e4e" stroke-width="0.7"/><line x1="530.3" y1="205.4" x2="531.6" y2="207.6" stroke="#b2b2b2" stroke-width="0.9"/><circle cx="530.2" cy="206.5" r="1.05" fill="#4a84ff"/></g>
<g filter="url(#b1)"><line x1="532.1" y1="205.6" x2="533.7" y2="208.3" stroke="#4e4e4e" stroke-width="0.7"/><line x1="533.8" y1="206.2" x2="535.1" y2="208.4" stroke="#b2b2b2" stroke-width="0.9"/><ellipse cx="533.7" cy="207.3" rx="1.2" ry="1.0" fill="#989898"/></g>
<g filter="url(#b1)"><line x1="535.5" y1="205.7" x2="537.0" y2="208.4" stroke="#4e4e4e" stroke-width="0.7"/><line x1="537.1" y1="206.3" x2="538.4" y2="208.5" stroke="#b2b2b2" stroke-width="0.9"/><circle cx="537.0" cy="207.4" r="1.05" fill="#4a84ff"/></g>
<g filter="url(#b1)"><line x1="526.7" y1="209.9" x2="528.2" y2="212.6" stroke="#4e4e4e" stroke-width="0.7"/><line x1="528.3" y1="210.5" x2="529.6" y2="212.7" stroke="#b2b2b2" stroke-width="0.9"/><circle cx="528.2" cy="211.6" r="1.05" fill="#4a84ff"/></g>
<g filter="url(#b1)"><line x1="513.1" y1="205.0" x2="514.7" y2="207.7" stroke="#4e4e4e" stroke-width="0.7"/><line x1="514.8" y1="205.6" x2="516.1" y2="207.8" stroke="#b2b2b2" stroke-width="0.9"/><ellipse cx="514.7" cy="206.7" rx="1.2" ry="1.0" fill="#989898"/></g>
<g filter="url(#b1)"><line x1="513.5" y1="202.0" x2="515.0" y2="204.7" stroke="#4e4e4e" stroke-width="0.7"/><line x1="515.1" y1="202.6" x2="516.4" y2="204.8" stroke="#b2b2b2" stroke-width="0.9"/><ellipse cx="515.0" cy="203.7" rx="1.2" ry="1.0" fill="#989898"/><circle cx="515.0" cy="203.7" r="0.7" fill="#5a84e8" opacity="0.8"/></g>
<g filter="url(#b1)"><line x1="524.9" y1="206.3" x2="526.5" y2="209.0" stroke="#4e4e4e" stroke-width="0.7"/><line x1="526.6" y1="206.8" x2="527.9" y2="209.1" stroke="#b2b2b2" stroke-width="0.9"/><circle cx="526.5" cy="207.9" r="1.05" fill="#4a84ff"/></g>
<g filter="url(#b1)"><line x1="520.8" y1="210.8" x2="522.4" y2="213.4" stroke="#4e4e4e" stroke-width="0.7"/><line x1="522.5" y1="211.3" x2="523.8" y2="213.6" stroke="#b2b2b2" stroke-width="0.9"/><ellipse cx="522.4" cy="212.4" rx="1.2" ry="1.0" fill="#989898"/><circle cx="522.4" cy="212.4" r="0.7" fill="#5a84e8" opacity="0.8"/></g>
<g filter="url(#b1)"><line x1="517.4" y1="209.9" x2="519.0" y2="212.5" stroke="#4e4e4e" stroke-width="0.7"/><line x1="519.1" y1="210.4" x2="520.4" y2="212.7" stroke="#b2b2b2" stroke-width="0.9"/><circle cx="519.0" cy="211.5" r="1.05" fill="#4a84ff"/></g>
<g filter="url(#b1)"><line x1="513.2" y1="207.8" x2="514.8" y2="210.4" stroke="#4e4e4e" stroke-width="0.7"/><line x1="514.9" y1="208.3" x2="516.2" y2="210.6" stroke="#b2b2b2" stroke-width="0.9"/><circle cx="514.8" cy="209.4" r="1.05" fill="#4a84ff"/></g>
<g filter="url(#b1)"><line x1="523.0" y1="207.7" x2="524.6" y2="210.4" stroke="#4e4e4e" stroke-width="0.7"/><line x1="524.7" y1="208.2" x2="526.0" y2="210.5" stroke="#b2b2b2" stroke-width="0.9"/><ellipse cx="524.6" cy="209.3" rx="1.2" ry="1.0" fill="#989898"/><circle cx="524.6" cy="209.3" r="0.7" fill="#5a84e8" opacity="0.8"/></g>
<g filter="url(#b1)"><line x1="514.8" y1="211.3" x2="516.4" y2="214.0" stroke="#4e4e4e" stroke-width="0.7"/><line x1="516.5" y1="211.9" x2="517.8" y2="214.2" stroke="#b2b2b2" stroke-width="0.9"/><ellipse cx="516.4" cy="213.0" rx="1.2" ry="1.0" fill="#989898"/><circle cx="516.4" cy="213.0" r="0.7" fill="#5a84e8" opacity="0.8"/></g>
<g filter="url(#b1)"><line x1="534.5" y1="203.5" x2="536.0" y2="206.2" stroke="#4e4e4e" stroke-width="0.7"/><line x1="536.1" y1="204.1" x2="537.4" y2="206.3" stroke="#b2b2b2" stroke-width="0.9"/><ellipse cx="536.0" cy="205.2" rx="1.2" ry="1.0" fill="#989898"/></g>
<g filter="url(#b1)"><line x1="531.5" y1="207.9" x2="533.1" y2="210.6" stroke="#4e4e4e" stroke-width="0.7"/><line x1="533.2" y1="208.5" x2="534.5" y2="210.7" stroke="#b2b2b2" stroke-width="0.9"/><circle cx="533.1" cy="209.6" r="1.05" fill="#4a84ff"/></g>
<g filter="url(#b1)"><line x1="535.5" y1="208.6" x2="537.0" y2="211.3" stroke="#4e4e4e" stroke-width="0.7"/><line x1="537.1" y1="209.1" x2="538.4" y2="211.4" stroke="#b2b2b2" stroke-width="0.9"/><ellipse cx="537.0" cy="210.2" rx="1.2" ry="1.0" fill="#989898"/></g>
<g filter="url(#b1)"><line x1="511.4" y1="211.4" x2="512.9" y2="214.1" stroke="#4e4e4e" stroke-width="0.7"/><line x1="513.0" y1="211.9" x2="514.3" y2="214.2" stroke="#b2b2b2" stroke-width="0.9"/><ellipse cx="512.9" cy="213.0" rx="1.2" ry="1.0" fill="#989898"/></g>
<g filter="url(#b1)"><line x1="529.4" y1="211.3" x2="530.9" y2="213.9" stroke="#4e4e4e" stroke-width="0.7"/><line x1="531.0" y1="211.8" x2="532.3" y2="214.1" stroke="#b2b2b2" stroke-width="0.9"/><ellipse cx="530.9" cy="212.9" rx="1.2" ry="1.0" fill="#989898"/></g>
<g filter="url(#b1)"><line x1="533.5" y1="210.9" x2="535.0" y2="213.6" stroke="#4e4e4e" stroke-width="0.7"/><line x1="535.1" y1="211.5" x2="536.4" y2="213.7" stroke="#b2b2b2" stroke-width="0.9"/><circle cx="535.0" cy="212.6" r="1.05" fill="#4a84ff"/></g>
<g filter="url(#b1)"><line x1="520.5" y1="207.8" x2="522.1" y2="210.4" stroke="#4e4e4e" stroke-width="0.7"/><line x1="522.2" y1="208.3" x2="523.5" y2="210.6" stroke="#b2b2b2" stroke-width="0.9"/><ellipse cx="522.1" cy="209.4" rx="1.2" ry="1.0" fill="#989898"/><circle cx="522.1" cy="209.4" r="0.7" fill="#5a84e8" opacity="0.8"/></g>
<g filter="url(#b1)"><line x1="526.9" y1="212.3" x2="528.5" y2="215.0" stroke="#4e4e4e" stroke-width="0.7"/><line x1="528.6" y1="212.8" x2="529.9" y2="215.1" stroke="#b2b2b2" stroke-width="0.9"/><ellipse cx="528.5" cy="213.9" rx="1.2" ry="1.0" fill="#989898"/></g>
<g filter="url(#b1)"><line x1="531.9" y1="202.3" x2="533.5" y2="205.0" stroke="#4e4e4e" stroke-width="0.7"/><line x1="533.6" y1="202.8" x2="534.9" y2="205.1" stroke="#b2b2b2" stroke-width="0.9"/><ellipse cx="533.5" cy="203.9" rx="1.2" ry="1.0" fill="#989898"/><circle cx="533.5" cy="203.9" r="0.7" fill="#5a84e8" opacity="0.8"/></g>
<g filter="url(#b1)"><line x1="523.4" y1="210.6" x2="524.9" y2="213.2" stroke="#4e4e4e" stroke-width="0.7"/><line x1="525.0" y1="211.1" x2="526.3" y2="213.4" stroke="#b2b2b2" stroke-width="0.9"/><ellipse cx="524.9" cy="212.2" rx="1.2" ry="1.0" fill="#989898"/></g>
<g filter="url(#b1)"><line x1="515.2" y1="206.3" x2="516.7" y2="209.0" stroke="#4e4e4e" stroke-width="0.7"/><line x1="516.8" y1="206.9" x2="518.1" y2="209.1" stroke="#b2b2b2" stroke-width="0.9"/><circle cx="516.7" cy="208.0" r="1.05" fill="#4a84ff"/></g>
<g filter="url(#b1)"><line x1="528.7" y1="207.6" x2="530.2" y2="210.3" stroke="#4e4e4e" stroke-width="0.7"/><line x1="530.3" y1="208.2" x2="531.6" y2="210.4" stroke="#b2b2b2" stroke-width="0.9"/><circle cx="530.2" cy="209.3" r="1.05" fill="#4a84ff"/></g>
<g filter="url(#b1)"><line x1="516.9" y1="202.9" x2="518.4" y2="205.6" stroke="#4e4e4e" stroke-width="0.7"/><line x1="518.5" y1="203.5" x2="519.8" y2="205.7" stroke="#b2b2b2" stroke-width="0.9"/><circle cx="518.4" cy="204.5" r="1.05" fill="#4a84ff"/></g>
<g filter="url(#b1)"><line x1="517.8" y1="205.2" x2="519.3" y2="207.8" stroke="#4e4e4e" stroke-width="0.7"/><line x1="519.4" y1="205.7" x2="520.7" y2="208.0" stroke="#b2b2b2" stroke-width="0.9"/><ellipse cx="519.3" cy="206.8" rx="1.2" ry="1.0" fill="#989898"/></g>
<g filter="url(#b1)"><line x1="535.9" y1="211.8" x2="537.4" y2="214.5" stroke="#4e4e4e" stroke-width="0.7"/><line x1="537.5" y1="212.4" x2="538.8" y2="214.6" stroke="#b2b2b2" stroke-width="0.9"/><ellipse cx="537.4" cy="213.5" rx="1.2" ry="1.0" fill="#989898"/><circle cx="537.4" cy="213.5" r="0.7" fill="#5a84e8" opacity="0.8"/></g>
<g filter="url(#b1)"><line x1="521.6" y1="205.4" x2="523.2" y2="208.1" stroke="#4e4e4e" stroke-width="0.7"/><line x1="523.3" y1="206.0" x2="524.6" y2="208.2" stroke="#b2b2b2" stroke-width="0.9"/><circle cx="523.2" cy="207.1" r="1.05" fill="#4a84ff"/></g>
<g filter="url(#b1)"><line x1="539.1" y1="201.8" x2="540.7" y2="204.4" stroke="#4e4e4e" stroke-width="0.7"/><line x1="540.8" y1="202.3" x2="542.1" y2="204.6" stroke="#b2b2b2" stroke-width="0.9"/><circle cx="540.7" cy="203.4" r="1.05" fill="#4a84ff"/></g>
<g filter="url(#b1)"><line x1="549.6" y1="207.4" x2="551.2" y2="210.1" stroke="#4e4e4e" stroke-width="0.7"/><line x1="551.3" y1="208.0" x2="552.6" y2="210.2" stroke="#b2b2b2" stroke-width="0.9"/><circle cx="551.2" cy="209.1" r="1.05" fill="#4a84ff"/></g>
<g filter="url(#b1)"><line x1="544.7" y1="208.7" x2="546.2" y2="211.4" stroke="#4e4e4e" stroke-width="0.7"/><line x1="546.3" y1="209.3" x2="547.6" y2="211.5" stroke="#b2b2b2" stroke-width="0.9"/><circle cx="546.2" cy="210.4" r="1.05" fill="#4a84ff"/></g>
<g filter="url(#b1)"><line x1="544.8" y1="201.1" x2="546.3" y2="203.8" stroke="#4e4e4e" stroke-width="0.7"/><line x1="546.4" y1="201.6" x2="547.7" y2="203.9" stroke="#b2b2b2" stroke-width="0.9"/><ellipse cx="546.3" cy="202.7" rx="1.2" ry="1.0" fill="#989898"/></g>
<g filter="url(#b1)"><line x1="546.7" y1="206.8" x2="548.2" y2="209.5" stroke="#4e4e4e" stroke-width="0.7"/><line x1="548.3" y1="207.4" x2="549.6" y2="209.6" stroke="#b2b2b2" stroke-width="0.9"/><ellipse cx="548.2" cy="208.5" rx="1.2" ry="1.0" fill="#989898"/></g>
<g filter="url(#b1)"><line x1="544.4" y1="203.7" x2="545.9" y2="206.4" stroke="#4e4e4e" stroke-width="0.7"/><line x1="546.0" y1="204.2" x2="547.3" y2="206.5" stroke="#b2b2b2" stroke-width="0.9"/><circle cx="545.9" cy="205.3" r="1.05" fill="#4a84ff"/></g>
<g filter="url(#b1)"><line x1="537.7" y1="204.4" x2="539.3" y2="207.0" stroke="#4e4e4e" stroke-width="0.7"/><line x1="539.4" y1="204.9" x2="540.7" y2="207.2" stroke="#b2b2b2" stroke-width="0.9"/><ellipse cx="539.3" cy="206.0" rx="1.2" ry="1.0" fill="#989898"/></g>
<g filter="url(#b1)"><line x1="548.4" y1="200.5" x2="550.0" y2="203.2" stroke="#4e4e4e" stroke-width="0.7"/><line x1="550.1" y1="201.1" x2="551.4" y2="203.4" stroke="#b2b2b2" stroke-width="0.9"/><circle cx="550.0" cy="202.2" r="1.05" fill="#4a84ff"/></g>
<g filter="url(#b1)"><line x1="544.4" y1="205.6" x2="546.0" y2="208.2" stroke="#4e4e4e" stroke-width="0.7"/><line x1="546.1" y1="206.1" x2="547.4" y2="208.4" stroke="#b2b2b2" stroke-width="0.9"/><circle cx="546.0" cy="207.2" r="1.05" fill="#4a84ff"/></g>
<g filter="url(#b1)"><line x1="548.0" y1="204.3" x2="549.6" y2="206.9" stroke="#4e4e4e" stroke-width="0.7"/><line x1="549.7" y1="204.8" x2="551.0" y2="207.1" stroke="#b2b2b2" stroke-width="0.9"/><ellipse cx="549.6" cy="205.9" rx="1.2" ry="1.0" fill="#989898"/><circle cx="549.6" cy="205.9" r="0.7" fill="#5a84e8" opacity="0.8"/></g>
<g filter="url(#b1)"><line x1="550.2" y1="209.2" x2="551.8" y2="211.8" stroke="#4e4e4e" stroke-width="0.7"/><line x1="551.9" y1="209.7" x2="553.2" y2="212.0" stroke="#b2b2b2" stroke-width="0.9"/><circle cx="551.8" cy="210.8" r="1.05" fill="#4a84ff"/></g>
<g filter="url(#b1)"><line x1="532.9" y1="205.2" x2="534.5" y2="207.8" stroke="#4e4e4e" stroke-width="0.7"/><line x1="534.6" y1="205.7" x2="535.9" y2="208.0" stroke="#b2b2b2" stroke-width="0.9"/><circle cx="534.5" cy="206.8" r="1.05" fill="#4a84ff"/></g>
<g filter="url(#b1)"><line x1="559.9" y1="197.9" x2="561.5" y2="200.5" stroke="#4e4e4e" stroke-width="0.7"/><line x1="561.6" y1="198.4" x2="562.9" y2="200.7" stroke="#b2b2b2" stroke-width="0.9"/><ellipse cx="561.5" cy="199.5" rx="1.2" ry="1.0" fill="#989898"/></g>
<g filter="url(#b1)"><line x1="560.4" y1="207.9" x2="562.0" y2="210.5" stroke="#4e4e4e" stroke-width="0.7"/><line x1="562.1" y1="208.4" x2="563.4" y2="210.7" stroke="#b2b2b2" stroke-width="0.9"/><ellipse cx="562.0" cy="209.5" rx="1.2" ry="1.0" fill="#989898"/><circle cx="562.0" cy="209.5" r="0.7" fill="#5a84e8" opacity="0.8"/></g>
<g filter="url(#b1)"><line x1="511.4" y1="199.4" x2="513.0" y2="202.0" stroke="#4e4e4e" stroke-width="0.7"/><line x1="513.1" y1="199.9" x2="514.4" y2="202.2" stroke="#b2b2b2" stroke-width="0.9"/><ellipse cx="513.0" cy="201.0" rx="1.2" ry="1.0" fill="#989898"/></g>
<g filter="url(#b1)"><line x1="512.4" y1="194.9" x2="514.0" y2="197.5" stroke="#4e4e4e" stroke-width="0.7"/><line x1="514.1" y1="195.4" x2="515.4" y2="197.7" stroke="#b2b2b2" stroke-width="0.9"/><circle cx="514.0" cy="196.5" r="1.05" fill="#4a84ff"/></g>
<path d="M531.5,185.5 L538,182.5 L542,179 L546,175 L552,170 L548,176.5 L546,181 L549,183 L544,184.5 L543,188.5 L540,186 L536,187 Z" fill="#d860d8" stroke="none" stroke-width="0.7" filter="url(#o1)"/>
<ellipse cx="539.50" cy="185.00" rx="2.60" ry="1.80" fill="#f884e8" filter="url(#o1)" opacity="1.0" transform="rotate(0 539.5 185.0)"/>
<path d="M518,196 L523,192.5 L530,192 L534,195 L534.5,200 L532,204 L535,208 L530,205.5 L524,206.5 L519,203.5 L517,200 Z" fill="#d8407e" stroke="none" stroke-width="0.7" filter="url(#o2)"/>
<ellipse cx="526.20" cy="198.60" rx="5.20" ry="4.20" fill="#f24a90" filter="url(#o1)" opacity="1.0" transform="rotate(0 526.2 198.6)"/>
<ellipse cx="525.20" cy="198.00" rx="2.20" ry="1.80" fill="#ff6aa8" filter="url(#b2)" opacity="1.0" transform="rotate(0 525.2 198.0)"/>
<path d="M531.5,203.5 L533.5,208 M519.5,203 L516.5,206.5" fill="none" stroke="#d8487e" stroke-width="1.0" filter="url(#b1)"/>
<ellipse cx="539.20" cy="165.20" rx="3.80" ry="2.40" fill="#4a7ef6" filter="url(#o1)" opacity="1.0" transform="rotate(0 539.2 165.2)"/>
<ellipse cx="551.00" cy="192.60" rx="7.20" ry="3.60" fill="#4a7ef6" filter="url(#o2)" opacity="1.0" transform="rotate(0 551.0 192.6)"/>
<ellipse cx="544.60" cy="198.20" rx="3.00" ry="4.60" fill="#4a7ef6" filter="url(#o1)" opacity="1.0" transform="rotate(0 544.6 198.2)"/>
<ellipse cx="546.50" cy="193.50" rx="3.00" ry="3.00" fill="#4a7ef6" filter="url(#o1)" opacity="1.0" transform="rotate(0 546.5 193.5)"/>
<path d="M542.5,223 L557.5,231" fill="none" stroke="#505050" stroke-width="0.6" filter="url(#o0)" opacity="0.8"/>
<path d="M543.4,223.6 L558.4,231.6" fill="none" stroke="#a4a4a4" stroke-width="0.8" filter="url(#o0)" opacity="0.75"/>
<path d="M547,227.5 L561,238" fill="none" stroke="#505050" stroke-width="0.6" filter="url(#o0)" opacity="0.8"/>
<path d="M547.9,228.1 L561.9,238.6" fill="none" stroke="#a4a4a4" stroke-width="0.8" filter="url(#o0)" opacity="0.75"/>
<path d="M537,233 L543,243" fill="none" stroke="#505050" stroke-width="0.6" filter="url(#o0)" opacity="0.8"/>
<path d="M537.9,233.6 L543.9,243.6" fill="none" stroke="#a4a4a4" stroke-width="0.8" filter="url(#o0)" opacity="0.75"/>
<path d="M549,236 L558,248" fill="none" stroke="#505050" stroke-width="0.6" filter="url(#o0)" opacity="0.8"/>
<path d="M549.9,236.6 L558.9,248.6" fill="none" stroke="#a4a4a4" stroke-width="0.8" filter="url(#o0)" opacity="0.75"/>
<path d="M518,238 L513,250" fill="none" stroke="#505050" stroke-width="0.6" filter="url(#o0)" opacity="0.8"/>
<path d="M518.9,238.6 L513.9,250.6" fill="none" stroke="#a4a4a4" stroke-width="0.8" filter="url(#o0)" opacity="0.75"/>
<path d="M530,231 L526,241" fill="none" stroke="#505050" stroke-width="0.6" filter="url(#o0)" opacity="0.8"/>
<path d="M530.9,231.6 L526.9,241.6" fill="none" stroke="#a4a4a4" stroke-width="0.8" filter="url(#o0)" opacity="0.75"/>
<path d="M541,217.5 L548,221" fill="none" stroke="#505050" stroke-width="0.6" filter="url(#o0)" opacity="0.8"/>
<path d="M541.9,218.1 L548.9,221.6" fill="none" stroke="#a4a4a4" stroke-width="0.8" filter="url(#o0)" opacity="0.75"/>
<path d="M514,219 L519,224" fill="none" stroke="#505050" stroke-width="0.6" filter="url(#o0)" opacity="0.8"/>
<path d="M514.9,219.6 L519.9,224.6" fill="none" stroke="#a4a4a4" stroke-width="0.8" filter="url(#o0)" opacity="0.75"/>
<g filter="url(#b1)"><line x1="513.1" y1="219.3" x2="515.5" y2="221.3" stroke="#4e4e4e" stroke-width="0.7"/><line x1="514.9" y1="219.8" x2="516.9" y2="221.4" stroke="#b2b2b2" stroke-width="0.9"/><ellipse cx="515.2" cy="220.5" rx="1.2" ry="1.0" fill="#989898"/></g>
<g filter="url(#b1)"><line x1="521.4" y1="221.2" x2="523.8" y2="223.2" stroke="#4e4e4e" stroke-width="0.7"/><line x1="523.2" y1="221.7" x2="525.2" y2="223.3" stroke="#b2b2b2" stroke-width="0.9"/><circle cx="523.5" cy="222.4" r="1.05" fill="#4a84ff"/></g>
<g filter="url(#b1)"><line x1="526.4" y1="221.4" x2="528.8" y2="223.4" stroke="#4e4e4e" stroke-width="0.7"/><line x1="528.2" y1="221.9" x2="530.2" y2="223.5" stroke="#b2b2b2" stroke-width="0.9"/><ellipse cx="528.5" cy="222.6" rx="1.2" ry="1.0" fill="#989898"/></g>
<g filter="url(#b1)"><line x1="531.4" y1="219.3" x2="533.8" y2="221.3" stroke="#4e4e4e" stroke-width="0.7"/><line x1="533.2" y1="219.8" x2="535.2" y2="221.4" stroke="#b2b2b2" stroke-width="0.9"/><ellipse cx="533.5" cy="220.5" rx="1.2" ry="1.0" fill="#989898"/></g>
<g filter="url(#b1)"><line x1="536.9" y1="217.6" x2="539.3" y2="219.6" stroke="#4e4e4e" stroke-width="0.7"/><line x1="538.7" y1="218.1" x2="540.7" y2="219.7" stroke="#b2b2b2" stroke-width="0.9"/><ellipse cx="539.0" cy="218.8" rx="1.2" ry="1.0" fill="#989898"/><circle cx="539.0" cy="218.8" r="0.7" fill="#5a84e8" opacity="0.8"/></g>
<g filter="url(#b1)"><line x1="542.9" y1="217.4" x2="545.3" y2="219.4" stroke="#4e4e4e" stroke-width="0.7"/><line x1="544.7" y1="217.9" x2="546.7" y2="219.5" stroke="#b2b2b2" stroke-width="0.9"/><ellipse cx="545.0" cy="218.6" rx="1.2" ry="1.0" fill="#989898"/></g>
<g filter="url(#b1)"><line x1="545.9" y1="218.8" x2="548.3" y2="220.8" stroke="#4e4e4e" stroke-width="0.7"/><line x1="547.7" y1="219.3" x2="549.7" y2="220.9" stroke="#b2b2b2" stroke-width="0.9"/><circle cx="548.0" cy="220.0" r="1.05" fill="#4a84ff"/></g>
<g filter="url(#b1)"><line x1="517.9" y1="229.8" x2="520.3" y2="231.8" stroke="#4e4e4e" stroke-width="0.7"/><line x1="519.7" y1="230.3" x2="521.7" y2="231.9" stroke="#b2b2b2" stroke-width="0.9"/><circle cx="520.0" cy="231.0" r="1.05" fill="#4a84ff"/></g>
<g filter="url(#b1)"><line x1="518.4" y1="224.8" x2="520.8" y2="226.8" stroke="#4e4e4e" stroke-width="0.7"/><line x1="520.2" y1="225.3" x2="522.2" y2="226.9" stroke="#b2b2b2" stroke-width="0.9"/><circle cx="520.5" cy="226.0" r="1.05" fill="#4a84ff"/></g>
<g filter="url(#b1)"><line x1="514.9" y1="240.8" x2="517.3" y2="242.8" stroke="#4e4e4e" stroke-width="0.7"/><line x1="516.7" y1="241.3" x2="518.7" y2="242.9" stroke="#b2b2b2" stroke-width="0.9"/><ellipse cx="517.0" cy="242.0" rx="1.2" ry="1.0" fill="#989898"/></g>
<g filter="url(#b1)"><line x1="512.9" y1="244.3" x2="515.3" y2="246.3" stroke="#4e4e4e" stroke-width="0.7"/><line x1="514.7" y1="244.8" x2="516.7" y2="246.4" stroke="#b2b2b2" stroke-width="0.9"/><ellipse cx="515.0" cy="245.5" rx="1.2" ry="1.0" fill="#989898"/></g>
<g filter="url(#b1)"><line x1="516.9" y1="245.3" x2="519.3" y2="247.3" stroke="#4e4e4e" stroke-width="0.7"/><line x1="518.7" y1="245.8" x2="520.7" y2="247.4" stroke="#b2b2b2" stroke-width="0.9"/><ellipse cx="519.0" cy="246.5" rx="1.2" ry="1.0" fill="#989898"/></g>
<g filter="url(#b1)"><line x1="511.9" y1="246.4" x2="514.3" y2="248.4" stroke="#4e4e4e" stroke-width="0.7"/><line x1="513.7" y1="246.9" x2="515.7" y2="248.5" stroke="#b2b2b2" stroke-width="0.9"/><circle cx="514.0" cy="247.6" r="1.05" fill="#4a84ff"/></g>
<g filter="url(#b1)"><line x1="515.4" y1="249.8" x2="517.8" y2="251.8" stroke="#4e4e4e" stroke-width="0.7"/><line x1="517.2" y1="250.3" x2="519.2" y2="251.9" stroke="#b2b2b2" stroke-width="0.9"/><ellipse cx="517.5" cy="251.0" rx="1.2" ry="1.0" fill="#989898"/><circle cx="517.5" cy="251.0" r="0.7" fill="#5a84e8" opacity="0.8"/></g>
<g filter="url(#b1)"><line x1="518.9" y1="242.3" x2="521.3" y2="244.3" stroke="#4e4e4e" stroke-width="0.7"/><line x1="520.7" y1="242.8" x2="522.7" y2="244.4" stroke="#b2b2b2" stroke-width="0.9"/><ellipse cx="521.0" cy="243.5" rx="1.2" ry="1.0" fill="#989898"/></g>
<g filter="url(#b1)"><line x1="535.4" y1="239.6" x2="537.8" y2="241.6" stroke="#4e4e4e" stroke-width="0.7"/><line x1="537.2" y1="240.1" x2="539.2" y2="241.7" stroke="#b2b2b2" stroke-width="0.9"/><ellipse cx="537.5" cy="240.8" rx="1.2" ry="1.0" fill="#989898"/></g>
<g filter="url(#b1)"><line x1="537.9" y1="240.0" x2="540.3" y2="242.0" stroke="#4e4e4e" stroke-width="0.7"/><line x1="539.7" y1="240.5" x2="541.7" y2="242.1" stroke="#b2b2b2" stroke-width="0.9"/><circle cx="540.0" cy="241.2" r="1.05" fill="#4a84ff"/></g>
<g filter="url(#b1)"><line x1="539.4" y1="234.8" x2="541.8" y2="236.8" stroke="#4e4e4e" stroke-width="0.7"/><line x1="541.2" y1="235.3" x2="543.2" y2="236.9" stroke="#b2b2b2" stroke-width="0.9"/><ellipse cx="541.5" cy="236.0" rx="1.2" ry="1.0" fill="#989898"/></g>
<g filter="url(#b1)"><line x1="543.9" y1="231.6" x2="546.3" y2="233.6" stroke="#4e4e4e" stroke-width="0.7"/><line x1="545.7" y1="232.1" x2="547.7" y2="233.7" stroke="#b2b2b2" stroke-width="0.9"/><ellipse cx="546.0" cy="232.8" rx="1.2" ry="1.0" fill="#989898"/></g>
<g filter="url(#b1)"><line x1="547.4" y1="232.6" x2="549.8" y2="234.6" stroke="#4e4e4e" stroke-width="0.7"/><line x1="549.2" y1="233.1" x2="551.2" y2="234.7" stroke="#b2b2b2" stroke-width="0.9"/><circle cx="549.5" cy="233.8" r="1.05" fill="#4a84ff"/></g>
<g filter="url(#b1)"><line x1="549.9" y1="236.6" x2="552.3" y2="238.6" stroke="#4e4e4e" stroke-width="0.7"/><line x1="551.7" y1="237.1" x2="553.7" y2="238.7" stroke="#b2b2b2" stroke-width="0.9"/><ellipse cx="552.0" cy="237.8" rx="1.2" ry="1.0" fill="#989898"/><circle cx="552.0" cy="237.8" r="0.7" fill="#5a84e8" opacity="0.8"/></g>
<g filter="url(#b1)"><line x1="553.9" y1="239.8" x2="556.3" y2="241.8" stroke="#4e4e4e" stroke-width="0.7"/><line x1="555.7" y1="240.3" x2="557.7" y2="241.9" stroke="#b2b2b2" stroke-width="0.9"/><ellipse cx="556.0" cy="241.0" rx="1.2" ry="1.0" fill="#989898"/><circle cx="556.0" cy="241.0" r="0.7" fill="#5a84e8" opacity="0.8"/></g>
<g filter="url(#b1)"><line x1="556.7" y1="242.6" x2="559.1" y2="244.6" stroke="#4e4e4e" stroke-width="0.7"/><line x1="558.5" y1="243.1" x2="560.5" y2="244.7" stroke="#b2b2b2" stroke-width="0.9"/><ellipse cx="558.8" cy="243.8" rx="1.2" ry="1.0" fill="#989898"/></g>
<g filter="url(#b1)"><line x1="558.4" y1="236.3" x2="560.8" y2="238.3" stroke="#4e4e4e" stroke-width="0.7"/><line x1="560.2" y1="236.8" x2="562.2" y2="238.4" stroke="#b2b2b2" stroke-width="0.9"/><circle cx="560.5" cy="237.5" r="1.05" fill="#4a84ff"/></g>
<g filter="url(#b1)"><line x1="548.4" y1="239.6" x2="550.8" y2="241.6" stroke="#4e4e4e" stroke-width="0.7"/><line x1="550.2" y1="240.1" x2="552.2" y2="241.7" stroke="#b2b2b2" stroke-width="0.9"/><ellipse cx="550.5" cy="240.8" rx="1.2" ry="1.0" fill="#989898"/><circle cx="550.5" cy="240.8" r="0.7" fill="#5a84e8" opacity="0.8"/></g>
<g filter="url(#b1)"><line x1="546.9" y1="245.8" x2="549.3" y2="247.8" stroke="#4e4e4e" stroke-width="0.7"/><line x1="548.7" y1="246.3" x2="550.7" y2="247.9" stroke="#b2b2b2" stroke-width="0.9"/><circle cx="549.0" cy="247.0" r="1.05" fill="#4a84ff"/></g>
<g filter="url(#b1)"><line x1="544.4" y1="242.8" x2="546.8" y2="244.8" stroke="#4e4e4e" stroke-width="0.7"/><line x1="546.2" y1="243.3" x2="548.2" y2="244.9" stroke="#b2b2b2" stroke-width="0.9"/><circle cx="546.5" cy="244.0" r="1.05" fill="#4a84ff"/></g>
<g filter="url(#b1)"><line x1="555.9" y1="245.8" x2="558.3" y2="247.8" stroke="#4e4e4e" stroke-width="0.7"/><line x1="557.7" y1="246.3" x2="559.7" y2="247.9" stroke="#b2b2b2" stroke-width="0.9"/><ellipse cx="558.0" cy="247.0" rx="1.2" ry="1.0" fill="#989898"/></g>
<g filter="url(#b1)"><line x1="553.9" y1="223.8" x2="556.3" y2="225.8" stroke="#4e4e4e" stroke-width="0.7"/><line x1="555.7" y1="224.3" x2="557.7" y2="225.9" stroke="#b2b2b2" stroke-width="0.9"/><ellipse cx="556.0" cy="225.0" rx="1.2" ry="1.0" fill="#989898"/><circle cx="556.0" cy="225.0" r="0.7" fill="#5a84e8" opacity="0.8"/></g>
<g filter="url(#b1)"><line x1="550.4" y1="227.8" x2="552.8" y2="229.8" stroke="#4e4e4e" stroke-width="0.7"/><line x1="552.2" y1="228.3" x2="554.2" y2="229.9" stroke="#b2b2b2" stroke-width="0.9"/><ellipse cx="552.5" cy="229.0" rx="1.2" ry="1.0" fill="#989898"/></g>
<g filter="url(#b1)"><line x1="541.4" y1="228.8" x2="543.8" y2="230.8" stroke="#4e4e4e" stroke-width="0.7"/><line x1="543.2" y1="229.3" x2="545.2" y2="230.9" stroke="#b2b2b2" stroke-width="0.9"/><ellipse cx="543.5" cy="230.0" rx="1.2" ry="1.0" fill="#989898"/></g>
<g filter="url(#b1)"><line x1="513.4" y1="256.3" x2="515.8" y2="258.3" stroke="#4e4e4e" stroke-width="0.7"/><line x1="515.2" y1="256.8" x2="517.2" y2="258.4" stroke="#b2b2b2" stroke-width="0.9"/><circle cx="515.5" cy="257.5" r="1.05" fill="#4a84ff"/></g>
<g filter="url(#b1)"><line x1="516.2" y1="257.9" x2="518.6" y2="259.9" stroke="#4e4e4e" stroke-width="0.7"/><line x1="518.0" y1="258.4" x2="520.0" y2="260.1" stroke="#b2b2b2" stroke-width="0.9"/><circle cx="518.3" cy="259.1" r="1.05" fill="#4a84ff"/></g>
<g filter="url(#b1)"><line x1="518.2" y1="253.0" x2="520.6" y2="255.0" stroke="#4e4e4e" stroke-width="0.7"/><line x1="520.0" y1="253.5" x2="522.0" y2="255.2" stroke="#b2b2b2" stroke-width="0.9"/><ellipse cx="520.3" cy="254.2" rx="1.2" ry="1.0" fill="#989898"/><circle cx="520.3" cy="254.2" r="0.7" fill="#5a84e8" opacity="0.8"/></g>
<g filter="url(#b1)"><line x1="524.8" y1="258.4" x2="527.2" y2="260.4" stroke="#4e4e4e" stroke-width="0.7"/><line x1="526.6" y1="258.9" x2="528.6" y2="260.5" stroke="#b2b2b2" stroke-width="0.9"/><ellipse cx="526.9" cy="259.6" rx="1.2" ry="1.0" fill="#989898"/></g>
<g filter="url(#b1)"><line x1="519.8" y1="259.8" x2="522.2" y2="261.8" stroke="#4e4e4e" stroke-width="0.7"/><line x1="521.5" y1="260.3" x2="523.5" y2="262.0" stroke="#b2b2b2" stroke-width="0.9"/><ellipse cx="521.9" cy="261.0" rx="1.2" ry="1.0" fill="#989898"/></g>
<g filter="url(#b1)"><line x1="517.7" y1="264.7" x2="520.1" y2="266.7" stroke="#4e4e4e" stroke-width="0.7"/><line x1="519.5" y1="265.2" x2="521.5" y2="266.9" stroke="#b2b2b2" stroke-width="0.9"/><ellipse cx="519.8" cy="265.9" rx="1.2" ry="1.0" fill="#989898"/></g>
<g filter="url(#b1)"><line x1="521.3" y1="263.2" x2="523.7" y2="265.2" stroke="#4e4e4e" stroke-width="0.7"/><line x1="523.1" y1="263.7" x2="525.0" y2="265.3" stroke="#b2b2b2" stroke-width="0.9"/><ellipse cx="523.4" cy="264.4" rx="1.2" ry="1.0" fill="#989898"/></g>
<g filter="url(#b1)"><line x1="511.2" y1="259.9" x2="513.6" y2="261.9" stroke="#4e4e4e" stroke-width="0.7"/><line x1="513.0" y1="260.4" x2="514.9" y2="262.1" stroke="#b2b2b2" stroke-width="0.9"/><ellipse cx="513.3" cy="261.1" rx="1.2" ry="1.0" fill="#989898"/><circle cx="513.3" cy="261.1" r="0.7" fill="#5a84e8" opacity="0.8"/></g>
<g filter="url(#b1)"><line x1="524.1" y1="264.2" x2="526.5" y2="266.2" stroke="#4e4e4e" stroke-width="0.7"/><line x1="525.8" y1="264.7" x2="527.8" y2="266.4" stroke="#b2b2b2" stroke-width="0.9"/><ellipse cx="526.2" cy="265.5" rx="1.2" ry="1.0" fill="#989898"/></g>
<g filter="url(#b1)"><line x1="516.8" y1="261.7" x2="519.1" y2="263.7" stroke="#4e4e4e" stroke-width="0.7"/><line x1="518.5" y1="262.2" x2="520.5" y2="263.8" stroke="#b2b2b2" stroke-width="0.9"/><circle cx="518.8" cy="262.9" r="1.05" fill="#4a84ff"/></g>
<g filter="url(#b1)"><line x1="521.6" y1="257.8" x2="524.0" y2="259.8" stroke="#4e4e4e" stroke-width="0.7"/><line x1="523.4" y1="258.3" x2="525.4" y2="260.0" stroke="#b2b2b2" stroke-width="0.9"/><ellipse cx="523.7" cy="259.1" rx="1.2" ry="1.0" fill="#989898"/><circle cx="523.7" cy="259.1" r="0.7" fill="#5a84e8" opacity="0.8"/></g>
<g filter="url(#b1)"><line x1="514.9" y1="254.0" x2="517.3" y2="256.0" stroke="#4e4e4e" stroke-width="0.7"/><line x1="516.7" y1="254.5" x2="518.7" y2="256.1" stroke="#b2b2b2" stroke-width="0.9"/><circle cx="517.0" cy="255.2" r="1.05" fill="#4a84ff"/></g>
<g filter="url(#b1)"><line x1="523.9" y1="261.8" x2="526.2" y2="263.8" stroke="#4e4e4e" stroke-width="0.7"/><line x1="525.6" y1="262.3" x2="527.6" y2="264.0" stroke="#b2b2b2" stroke-width="0.9"/><ellipse cx="525.9" cy="263.0" rx="1.2" ry="1.0" fill="#989898"/></g>
<g filter="url(#b1)"><line x1="510.9" y1="263.2" x2="513.3" y2="265.1" stroke="#4e4e4e" stroke-width="0.7"/><line x1="512.6" y1="263.6" x2="514.6" y2="265.3" stroke="#b2b2b2" stroke-width="0.9"/><ellipse cx="513.0" cy="264.4" rx="1.2" ry="1.0" fill="#989898"/></g>
<g filter="url(#b1)"><line x1="559.3" y1="263.9" x2="560.8" y2="266.6" stroke="#4e4e4e" stroke-width="0.7"/><line x1="560.9" y1="264.5" x2="562.2" y2="266.7" stroke="#b2b2b2" stroke-width="0.9"/><ellipse cx="560.8" cy="265.5" rx="1.2" ry="1.0" fill="#989898"/><circle cx="560.8" cy="265.5" r="0.7" fill="#5a84e8" opacity="0.8"/></g>
<g filter="url(#b1)"><line x1="547.8" y1="262.8" x2="549.3" y2="265.5" stroke="#4e4e4e" stroke-width="0.7"/><line x1="549.4" y1="263.4" x2="550.7" y2="265.6" stroke="#b2b2b2" stroke-width="0.9"/><ellipse cx="549.3" cy="264.5" rx="1.2" ry="1.0" fill="#989898"/><circle cx="549.3" cy="264.5" r="0.7" fill="#5a84e8" opacity="0.8"/></g>
<g filter="url(#b1)"><line x1="557.5" y1="251.4" x2="559.1" y2="254.1" stroke="#4e4e4e" stroke-width="0.7"/><line x1="559.2" y1="252.0" x2="560.5" y2="254.2" stroke="#b2b2b2" stroke-width="0.9"/><ellipse cx="559.1" cy="253.1" rx="1.2" ry="1.0" fill="#989898"/><circle cx="559.1" cy="253.1" r="0.7" fill="#5a84e8" opacity="0.8"/></g>
<g filter="url(#b1)"><line x1="543.4" y1="246.5" x2="544.9" y2="249.2" stroke="#4e4e4e" stroke-width="0.7"/><line x1="545.0" y1="247.0" x2="546.3" y2="249.3" stroke="#b2b2b2" stroke-width="0.9"/><ellipse cx="544.9" cy="248.1" rx="1.2" ry="1.0" fill="#989898"/><circle cx="544.9" cy="248.1" r="0.7" fill="#5a84e8" opacity="0.8"/></g>
<g filter="url(#b1)"><line x1="555.0" y1="263.1" x2="556.5" y2="265.8" stroke="#4e4e4e" stroke-width="0.7"/><line x1="556.6" y1="263.7" x2="557.9" y2="265.9" stroke="#b2b2b2" stroke-width="0.9"/><ellipse cx="556.5" cy="264.8" rx="1.2" ry="1.0" fill="#989898"/><circle cx="556.5" cy="264.8" r="0.7" fill="#5a84e8" opacity="0.8"/></g>
<g filter="url(#b1)"><line x1="546.5" y1="250.5" x2="548.0" y2="253.2" stroke="#4e4e4e" stroke-width="0.7"/><line x1="548.1" y1="251.1" x2="549.4" y2="253.3" stroke="#b2b2b2" stroke-width="0.9"/><ellipse cx="548.0" cy="252.1" rx="1.2" ry="1.0" fill="#989898"/><circle cx="548.0" cy="252.1" r="0.7" fill="#5a84e8" opacity="0.8"/></g>
<g filter="url(#b1)"><line x1="554.4" y1="260.2" x2="556.0" y2="262.8" stroke="#4e4e4e" stroke-width="0.7"/><line x1="556.1" y1="260.7" x2="557.4" y2="263.0" stroke="#b2b2b2" stroke-width="0.9"/><ellipse cx="556.0" cy="261.8" rx="1.2" ry="1.0" fill="#989898"/></g>
<g filter="url(#b1)"><line x1="558.4" y1="256.2" x2="559.9" y2="258.8" stroke="#4e4e4e" stroke-width="0.7"/><line x1="560.0" y1="256.7" x2="561.3" y2="259.0" stroke="#b2b2b2" stroke-width="0.9"/><circle cx="559.9" cy="257.8" r="1.05" fill="#4a84ff"/></g>
<g filter="url(#b1)"><line x1="554.5" y1="249.9" x2="556.0" y2="252.6" stroke="#4e4e4e" stroke-width="0.7"/><line x1="556.1" y1="250.5" x2="557.4" y2="252.7" stroke="#b2b2b2" stroke-width="0.9"/><ellipse cx="556.0" cy="251.5" rx="1.2" ry="1.0" fill="#989898"/><circle cx="556.0" cy="251.5" r="0.7" fill="#5a84e8" opacity="0.8"/></g>
<g filter="url(#b1)"><line x1="560.1" y1="253.2" x2="561.7" y2="255.8" stroke="#4e4e4e" stroke-width="0.7"/><line x1="561.8" y1="253.7" x2="563.1" y2="256.0" stroke="#b2b2b2" stroke-width="0.9"/><ellipse cx="561.7" cy="254.8" rx="1.2" ry="1.0" fill="#989898"/></g>
<g filter="url(#b1)"><line x1="528.4" y1="258.4" x2="530.8" y2="260.4" stroke="#4e4e4e" stroke-width="0.7"/><line x1="530.1" y1="258.9" x2="532.1" y2="260.5" stroke="#b2b2b2" stroke-width="0.9"/><ellipse cx="530.5" cy="259.6" rx="1.2" ry="1.0" fill="#989898"/><circle cx="530.5" cy="259.6" r="0.7" fill="#5a84e8" opacity="0.8"/></g>
<g filter="url(#b1)"><line x1="536.0" y1="250.2" x2="538.4" y2="252.2" stroke="#4e4e4e" stroke-width="0.7"/><line x1="537.7" y1="250.7" x2="539.7" y2="252.3" stroke="#b2b2b2" stroke-width="0.9"/><ellipse cx="538.0" cy="251.4" rx="1.2" ry="1.0" fill="#989898"/></g>
<g filter="url(#b1)"><line x1="530.4" y1="253.2" x2="532.8" y2="255.2" stroke="#4e4e4e" stroke-width="0.7"/><line x1="532.1" y1="253.7" x2="534.1" y2="255.4" stroke="#b2b2b2" stroke-width="0.9"/><ellipse cx="532.5" cy="254.5" rx="1.2" ry="1.0" fill="#989898"/><circle cx="532.5" cy="254.5" r="0.7" fill="#5a84e8" opacity="0.8"/></g>
<g filter="url(#b1)"><line x1="536.9" y1="264.6" x2="539.3" y2="266.6" stroke="#4e4e4e" stroke-width="0.7"/><line x1="538.6" y1="265.1" x2="540.6" y2="266.7" stroke="#b2b2b2" stroke-width="0.9"/><circle cx="539.0" cy="265.8" r="1.05" fill="#4a84ff"/></g>
<g filter="url(#b1)"><line x1="532.6" y1="260.8" x2="534.9" y2="262.8" stroke="#4e4e4e" stroke-width="0.7"/><line x1="534.3" y1="261.3" x2="536.3" y2="263.0" stroke="#b2b2b2" stroke-width="0.9"/><ellipse cx="534.6" cy="262.0" rx="1.2" ry="1.0" fill="#989898"/></g>
<g filter="url(#b1)"><line x1="532.9" y1="251.7" x2="535.3" y2="253.6" stroke="#4e4e4e" stroke-width="0.7"/><line x1="534.7" y1="252.1" x2="536.7" y2="253.8" stroke="#b2b2b2" stroke-width="0.9"/><ellipse cx="535.0" cy="252.9" rx="1.2" ry="1.0" fill="#989898"/></g>
<ellipse cx="525.70" cy="227.30" rx="4.20" ry="3.80" fill="#4a7ef6" filter="url(#o1)" opacity="1.0" transform="rotate(0 525.7 227.3)"/>
<ellipse cx="539.40" cy="225.50" rx="2.40" ry="4.60" fill="#4a7ef6" filter="url(#o1)" opacity="1.0" transform="rotate(-15 539.4 225.5)"/>
<path d="M517.5,233.5 Q518.5,238.5 523,237.5 Q526,236 526.5,232.5" fill="none" stroke="#4078f6" stroke-width="2.8" filter="url(#o1)"/>
<ellipse cx="524.70" cy="251.80" rx="3.40" ry="3.00" fill="#4a7ef6" filter="url(#o1)" opacity="1.0" transform="rotate(0 524.7 251.8)"/>
<g filter="url(#b1)"><circle cx="544.30" cy="257.00" r="3.70" fill="#4a7ef6"/><circle cx="544.60" cy="257.20" r="1.18" fill="#3a64c8"/></g>
<ellipse cx="511.00" cy="240.00" rx="1.00" ry="2.00" fill="#4a7ef6" filter="url(#b1)" opacity="1.0" transform="rotate(0 511.0 240.0)"/>
</g>
<line x1="511.60" y1="164.40" x2="511.60" y2="267.90" stroke="#f4f4f4" stroke-width="1.3" />
<line x1="459.60" y1="216.30" x2="563.20" y2="216.30" stroke="#f4f4f4" stroke-width="1.3" />
<rect x="501.30" y="212.80" width="8.50" height="2.60" fill="#fff" stroke="none" stroke-width="0.7" />
<text x="460.00" y="223.92" font-size="7.0" fill="#d01818" textLength="22.00" lengthAdjust="spacingAndGlyphs" >Cit-H3</text>
<text x="463.70" y="230.32" font-size="7.0" fill="#3a5fe0" textLength="14.50" lengthAdjust="spacingAndGlyphs" >DNA</text>
<rect x="601.80" y="159.10" width="3.60" height="3.60" fill="#6d95c8" stroke="#4a6fa0" stroke-width="0.5" />
<text x="609.60" y="163.17" font-size="6.3" fill="#2a2a2a" textLength="8.40" lengthAdjust="spacingAndGlyphs" >WT</text>
<circle cx="633.10" cy="160.90" r="1.90" fill="#f4b5a6" stroke="#cf8878" stroke-width="0.5" />
<text x="639.30" y="163.17" font-size="6.3" fill="#2a2a2a" textLength="24.50" lengthAdjust="spacingAndGlyphs" >XKR8 KO</text>
<line x1="608.40" y1="171.06" x2="608.40" y2="250.50" stroke="#333" stroke-width="0.7" />
<line x1="606.20" y1="250.50" x2="608.40" y2="250.50" stroke="#333" stroke-width="0.7" />
<text x="604.00" y="252.88" font-size="6.6" text-anchor="end" fill="#2a2a2a" >0</text>
<line x1="606.20" y1="230.64" x2="608.40" y2="230.64" stroke="#333" stroke-width="0.7" />
<text x="604.00" y="233.02" font-size="6.6" text-anchor="end" fill="#2a2a2a" >20</text>
<line x1="606.20" y1="210.78" x2="608.40" y2="210.78" stroke="#333" stroke-width="0.7" />
<text x="604.00" y="213.16" font-size="6.6" text-anchor="end" fill="#2a2a2a" >40</text>
<line x1="606.20" y1="190.92" x2="608.40" y2="190.92" stroke="#333" stroke-width="0.7" />
<text x="604.00" y="193.30" font-size="6.6" text-anchor="end" fill="#2a2a2a" >60</text>
<line x1="606.20" y1="171.06" x2="608.40" y2="171.06" stroke="#333" stroke-width="0.7" />
<text x="604.00" y="173.44" font-size="6.6" text-anchor="end" fill="#2a2a2a" >80</text>
<line x1="608.40" y1="250.50" x2="656.70" y2="250.50" stroke="#333" stroke-width="0.7" />
<text x="588.20" y="213.63" font-size="7.3" text-anchor="middle" fill="#2a2a2a" textLength="27.50" lengthAdjust="spacingAndGlyphs" transform="rotate(-90 588.20 211.00)" >NETs (%)</text>
<line x1="620.60" y1="250.50" x2="620.60" y2="252.70" stroke="#333" stroke-width="0.7" />
<rect x="614.30" y="248.90" width="3.20" height="3.20" fill="#6d95c8" stroke="#4a6fa0" stroke-width="0.5" />
<rect x="617.00" y="248.90" width="3.20" height="3.20" fill="#6d95c8" stroke="#4a6fa0" stroke-width="0.5" />
<rect x="611.60" y="248.90" width="3.20" height="3.20" fill="#6d95c8" stroke="#4a6fa0" stroke-width="0.5" />
<rect x="615.65" y="247.91" width="3.20" height="3.20" fill="#6d95c8" stroke="#4a6fa0" stroke-width="0.5" />
<rect x="612.95" y="246.91" width="3.20" height="3.20" fill="#6d95c8" stroke="#4a6fa0" stroke-width="0.5" />
<rect x="617.00" y="246.91" width="3.20" height="3.20" fill="#6d95c8" stroke="#4a6fa0" stroke-width="0.5" />
<rect x="614.30" y="245.92" width="3.20" height="3.20" fill="#6d95c8" stroke="#4a6fa0" stroke-width="0.5" />
<rect x="611.60" y="245.92" width="3.20" height="3.20" fill="#6d95c8" stroke="#4a6fa0" stroke-width="0.5" />
<line x1="615.90" y1="247.84" x2="615.90" y2="250.43" stroke="#4a4a4a" stroke-width="0.55" />
<line x1="614.10" y1="247.84" x2="617.70" y2="247.84" stroke="#4a4a4a" stroke-width="0.55" />
<line x1="614.10" y1="250.43" x2="617.70" y2="250.43" stroke="#4a4a4a" stroke-width="0.55" />
<line x1="612.40" y1="249.13" x2="619.40" y2="249.13" stroke="#4a4a4a" stroke-width="0.55" />
<circle cx="625.40" cy="250.50" r="1.75" fill="#f4b5a6" stroke="#cf8878" stroke-width="0.5" />
<circle cx="628.10" cy="250.50" r="1.75" fill="#f4b5a6" stroke="#cf8878" stroke-width="0.5" />
<circle cx="622.70" cy="250.50" r="1.75" fill="#f4b5a6" stroke="#cf8878" stroke-width="0.5" />
<circle cx="626.75" cy="250.50" r="1.75" fill="#f4b5a6" stroke="#cf8878" stroke-width="0.5" />
<circle cx="624.05" cy="249.51" r="1.75" fill="#f4b5a6" stroke="#cf8878" stroke-width="0.5" />
<circle cx="625.40" cy="249.51" r="1.75" fill="#f4b5a6" stroke="#cf8878" stroke-width="0.5" />
<circle cx="628.10" cy="248.51" r="1.75" fill="#f4b5a6" stroke="#cf8878" stroke-width="0.5" />
<line x1="625.40" y1="249.15" x2="625.40" y2="250.50" stroke="#4a4a4a" stroke-width="0.55" />
<line x1="623.60" y1="249.15" x2="627.20" y2="249.15" stroke="#4a4a4a" stroke-width="0.55" />
<line x1="621.90" y1="249.93" x2="628.90" y2="249.93" stroke="#4a4a4a" stroke-width="0.55" />
<text x="623.80" y="257.60" font-size="6.6" fill="#2a2a2a" text-anchor="end" transform="rotate(-45 623.80 257.60)">Mock</text>
<line x1="644.90" y1="250.50" x2="644.90" y2="252.70" stroke="#333" stroke-width="0.7" />
<rect x="638.60" y="225.07" width="3.20" height="3.20" fill="#6d95c8" stroke="#4a6fa0" stroke-width="0.5" />
<rect x="641.30" y="224.08" width="3.20" height="3.20" fill="#6d95c8" stroke="#4a6fa0" stroke-width="0.5" />
<rect x="638.60" y="222.09" width="3.20" height="3.20" fill="#6d95c8" stroke="#4a6fa0" stroke-width="0.5" />
<rect x="641.30" y="221.10" width="3.20" height="3.20" fill="#6d95c8" stroke="#4a6fa0" stroke-width="0.5" />
<rect x="638.60" y="219.11" width="3.20" height="3.20" fill="#6d95c8" stroke="#4a6fa0" stroke-width="0.5" />
<rect x="641.30" y="218.12" width="3.20" height="3.20" fill="#6d95c8" stroke="#4a6fa0" stroke-width="0.5" />
<rect x="638.60" y="216.13" width="3.20" height="3.20" fill="#6d95c8" stroke="#4a6fa0" stroke-width="0.5" />
<rect x="641.30" y="215.14" width="3.20" height="3.20" fill="#6d95c8" stroke="#4a6fa0" stroke-width="0.5" />
<rect x="638.60" y="211.17" width="3.20" height="3.20" fill="#6d95c8" stroke="#4a6fa0" stroke-width="0.5" />
<rect x="638.60" y="186.34" width="3.20" height="3.20" fill="#6d95c8" stroke="#4a6fa0" stroke-width="0.5" />
<line x1="640.20" y1="206.24" x2="640.20" y2="228.63" stroke="#4a4a4a" stroke-width="0.55" />
<line x1="638.40" y1="206.24" x2="642.00" y2="206.24" stroke="#4a4a4a" stroke-width="0.55" />
<line x1="638.40" y1="228.63" x2="642.00" y2="228.63" stroke="#4a4a4a" stroke-width="0.55" />
<line x1="636.70" y1="217.43" x2="643.70" y2="217.43" stroke="#4a4a4a" stroke-width="0.55" />
<circle cx="649.70" cy="250.50" r="1.75" fill="#f4b5a6" stroke="#cf8878" stroke-width="0.5" />
<circle cx="652.40" cy="250.50" r="1.75" fill="#f4b5a6" stroke="#cf8878" stroke-width="0.5" />
<circle cx="647.00" cy="250.50" r="1.75" fill="#f4b5a6" stroke="#cf8878" stroke-width="0.5" />
<circle cx="651.05" cy="249.51" r="1.75" fill="#f4b5a6" stroke="#cf8878" stroke-width="0.5" />
<circle cx="648.35" cy="248.51" r="1.75" fill="#f4b5a6" stroke="#cf8878" stroke-width="0.5" />
<circle cx="652.40" cy="248.51" r="1.75" fill="#f4b5a6" stroke="#cf8878" stroke-width="0.5" />
<circle cx="649.70" cy="247.52" r="1.75" fill="#f4b5a6" stroke="#cf8878" stroke-width="0.5" />
<circle cx="647.00" cy="246.53" r="1.75" fill="#f4b5a6" stroke="#cf8878" stroke-width="0.5" />
<circle cx="652.40" cy="245.53" r="1.75" fill="#f4b5a6" stroke="#cf8878" stroke-width="0.5" />
<circle cx="649.70" cy="243.55" r="1.75" fill="#f4b5a6" stroke="#cf8878" stroke-width="0.5" />
<line x1="649.70" y1="245.77" x2="649.70" y2="250.47" stroke="#4a4a4a" stroke-width="0.55" />
<line x1="647.90" y1="245.77" x2="651.50" y2="245.77" stroke="#4a4a4a" stroke-width="0.55" />
<line x1="647.90" y1="250.47" x2="651.50" y2="250.47" stroke="#4a4a4a" stroke-width="0.55" />
<line x1="646.20" y1="248.12" x2="653.20" y2="248.12" stroke="#4a4a4a" stroke-width="0.55" />
<text x="648.10" y="257.60" font-size="6.6" fill="#2a2a2a" text-anchor="end" transform="rotate(-45 648.10 257.60)" font-style="italic">C. alb</text>
<text x="644.60" y="180.68" font-size="6.6" text-anchor="middle" fill="#2a2a2a" >&lt;0.0001</text>
<line x1="636.20" y1="183.00" x2="653.50" y2="183.00" stroke="#333" stroke-width="0.7" />
<text x="621.10" y="240.98" font-size="6.6" text-anchor="middle" fill="#2a2a2a" >0.9877</text>
<line x1="611.50" y1="243.00" x2="629.60" y2="243.00" stroke="#333" stroke-width="0.7" />
<text x="0.30" y="292.45" font-size="11.8" fill="#000" font-weight="bold" stroke="#000" stroke-width="0.3">f</text>
<text x="33.70" y="301.00" font-size="7.5" text-anchor="middle" fill="#2a2a2a" textLength="18.40" lengthAdjust="spacingAndGlyphs" >Mock</text>
<text x="80.70" y="301.00" font-size="7.5" text-anchor="middle" fill="#2a2a2a" font-style="italic" textLength="30.80" lengthAdjust="spacingAndGlyphs" >S. aureus</text>
<text x="126.80" y="301.00" font-size="7.5" text-anchor="middle" fill="#2a2a2a" font-style="italic" textLength="16.00" lengthAdjust="spacingAndGlyphs" >L. M.</text>
<text x="174.90" y="301.00" font-size="7.5" text-anchor="middle" fill="#2a2a2a" font-style="italic" textLength="20.00" lengthAdjust="spacingAndGlyphs" >E. coli</text>
<text x="4.20" y="331.32" font-size="7.0" text-anchor="middle" fill="#2a2a2a" textLength="9.90" lengthAdjust="spacingAndGlyphs" transform="rotate(-90 4.20 328.80)" >WT</text>
<text x="4.20" y="377.42" font-size="7.0" text-anchor="middle" fill="#2a2a2a" textLength="29.50" lengthAdjust="spacingAndGlyphs" transform="rotate(-90 4.20 374.90)" >XKR8 KO</text>
<rect x="10.10" y="304.80" width="188.70" height="93.60" fill="#050505" stroke="none" stroke-width="0.7" />
<rect x="10.10" y="304.80" width="47.20" height="93.60" fill="#0e0202" stroke="none" stroke-width="0.7" />
<rect x="104.40" y="351.10" width="47.10" height="47.30" fill="#0b1002" stroke="none" stroke-width="0.7" />
<rect x="151.50" y="351.10" width="47.30" height="47.30" fill="#110404" stroke="none" stroke-width="0.7" />
<clipPath id="cf"><rect x="10.10" y="304.80" width="188.70" height="93.60"/></clipPath><g clip-path="url(#cf)">
<g filter="url(#o0)" opacity="1.0" transform="rotate(182.70000000000002 20.3 312.9)"><ellipse cx="20.30" cy="312.90" rx="3.00" ry="2.76" fill="#d6d6d6"/><ellipse cx="20.50" cy="312.90" rx="0.90" ry="0.81" fill="#555"/></g>
<g filter="url(#o0)" opacity="1.0" transform="rotate(420.3 46.7 325.2)"><ellipse cx="46.70" cy="325.20" rx="3.00" ry="2.76" fill="#d6d6d6"/><ellipse cx="46.90" cy="325.20" rx="0.90" ry="0.81" fill="#555"/></g>
<g filter="url(#o0)" opacity="1.0" transform="rotate(357.3 39.7 339.3)"><ellipse cx="39.70" cy="339.30" rx="3.00" ry="2.76" fill="#d6d6d6"/><ellipse cx="39.90" cy="339.30" rx="0.90" ry="0.81" fill="#555"/></g>
<ellipse cx="25.60" cy="341.80" rx="2.50" ry="2.50" fill="#f0e4e4" filter="url(#b1)" opacity="1.0" transform="rotate(0 25.6 341.8)"/>
<g filter="url(#o0)" opacity="1.0" transform="rotate(178.5 25.5 361.9)"><ellipse cx="25.50" cy="361.90" rx="3.00" ry="2.76" fill="#d6d6d6"/><ellipse cx="25.70" cy="361.90" rx="0.60" ry="0.54" fill="#555"/></g>
<g filter="url(#o0)" opacity="1.0" transform="rotate(266.7 38.1 374.6)"><ellipse cx="38.10" cy="374.60" rx="3.00" ry="2.76" fill="#d6d6d6"/><ellipse cx="38.30" cy="374.60" rx="0.60" ry="0.54" fill="#555"/></g>
<g filter="url(#o0)" opacity="1.0" transform="rotate(301.0 43.0 378.6)"><ellipse cx="43.00" cy="378.60" rx="3.00" ry="2.76" fill="#d6d6d6"/><ellipse cx="43.20" cy="378.60" rx="0.60" ry="0.54" fill="#555"/></g>
<g filter="url(#o0)" opacity="1.0" transform="rotate(304.5 43.5 384.5)"><ellipse cx="43.50" cy="384.50" rx="3.00" ry="2.76" fill="#d6d6d6"/><ellipse cx="43.70" cy="384.50" rx="0.60" ry="0.54" fill="#555"/></g>
<g filter="url(#o0)" opacity="1.0" transform="rotate(301.0 43.0 390.8)"><ellipse cx="43.00" cy="390.80" rx="3.00" ry="2.76" fill="#d6d6d6"/><ellipse cx="43.20" cy="390.80" rx="0.60" ry="0.54" fill="#555"/></g>
<ellipse cx="66.00" cy="333.00" rx="6.00" ry="3.50" fill="#5a5a5a" filter="url(#b3)" opacity="0.8" transform="rotate(25 66.0 333.0)"/>
<ellipse cx="90.50" cy="328.00" rx="2.50" ry="4.50" fill="#6a6a6a" filter="url(#b2)" opacity="0.9" transform="rotate(0 90.5 328.0)"/>
<ellipse cx="70.90" cy="306.60" rx="2.80" ry="2.80" fill="#e04848" filter="url(#b2)" opacity="1.0" transform="rotate(0 70.9 306.6)"/>
<ellipse cx="70.60" cy="306.30" rx="1.40" ry="1.40" fill="#f09090" filter="url(#b2)" opacity="0.8" transform="rotate(0 70.6 306.3)"/>
<ellipse cx="83.00" cy="316.60" rx="4.60" ry="4.60" fill="#e04848" filter="url(#b2)" opacity="1.0" transform="rotate(0 83.0 316.6)"/>
<ellipse cx="82.70" cy="316.30" rx="2.30" ry="2.30" fill="#f09090" filter="url(#b2)" opacity="0.8" transform="rotate(0 82.7 316.3)"/>
<ellipse cx="91.70" cy="344.90" rx="3.80" ry="3.80" fill="#e04848" filter="url(#b2)" opacity="1.0" transform="rotate(0 91.7 344.9)"/>
<ellipse cx="91.40" cy="344.60" rx="1.90" ry="1.90" fill="#f09090" filter="url(#b2)" opacity="0.8" transform="rotate(0 91.4 344.6)"/>
<g filter="url(#o0)" opacity="1.0" transform="rotate(410.0 82.0 309.7)"><ellipse cx="82.00" cy="309.70" rx="3.00" ry="2.76" fill="#d6d6d6"/><ellipse cx="82.20" cy="309.70" rx="0.90" ry="0.81" fill="#555"/></g>
<g filter="url(#o0)" opacity="1.0" transform="rotate(493.0 98.6 313.0)"><ellipse cx="98.60" cy="313.00" rx="3.00" ry="2.76" fill="#d6d6d6"/><ellipse cx="98.80" cy="313.00" rx="0.90" ry="0.81" fill="#555"/></g>
<g filter="url(#o0)" opacity="1.0" transform="rotate(349.0 69.8 320.4)"><ellipse cx="69.80" cy="320.40" rx="3.00" ry="2.76" fill="#d6d6d6"/><ellipse cx="70.00" cy="320.40" rx="0.90" ry="0.81" fill="#555"/></g>
<g filter="url(#o0)" opacity="1.0" transform="rotate(353.0 70.6 329.0)"><ellipse cx="70.60" cy="329.00" rx="3.00" ry="2.76" fill="#d6d6d6"/><ellipse cx="70.80" cy="329.00" rx="0.90" ry="0.81" fill="#555"/></g>
<g filter="url(#o0)" opacity="1.0" transform="rotate(310.0 62.0 346.8)"><ellipse cx="62.00" cy="346.80" rx="3.00" ry="2.76" fill="#d6d6d6"/><ellipse cx="62.20" cy="346.80" rx="0.90" ry="0.81" fill="#555"/></g>
<g filter="url(#o0)" opacity="1.0" transform="rotate(490.0 98.0 341.5)"><ellipse cx="98.00" cy="341.50" rx="3.00" ry="2.76" fill="#d6d6d6"/><ellipse cx="98.20" cy="341.50" rx="0.90" ry="0.81" fill="#555"/></g>
<ellipse cx="59.50" cy="308.50" rx="2.00" ry="2.50" fill="#9a9a9a" filter="url(#b1)" opacity="1.0" transform="rotate(0 59.5 308.5)"/>
<ellipse cx="90.50" cy="327.50" rx="2.00" ry="3.00" fill="#c8c8c8" filter="url(#b1)" opacity="1.0" transform="rotate(0 90.5 327.5)"/>
<circle cx="76.50" cy="305.80" r="0.70" fill="#30d020" stroke="none" stroke-width="0.5" filter="url(#b1)"/>
<circle cx="92.50" cy="319.50" r="0.70" fill="#30d020" stroke="none" stroke-width="0.5" filter="url(#b1)"/>
<circle cx="60.50" cy="328.50" r="0.70" fill="#30d020" stroke="none" stroke-width="0.5" filter="url(#b1)"/>
<circle cx="72.50" cy="329.00" r="0.70" fill="#30d020" stroke="none" stroke-width="0.5" filter="url(#b1)"/>
<circle cx="95.00" cy="329.50" r="0.70" fill="#30d020" stroke="none" stroke-width="0.5" filter="url(#b1)"/>
<circle cx="63.20" cy="336.30" r="0.70" fill="#30d020" stroke="none" stroke-width="0.5" filter="url(#b1)"/>
<circle cx="90.00" cy="334.00" r="0.70" fill="#30d020" stroke="none" stroke-width="0.5" filter="url(#b1)"/>
<circle cx="70.00" cy="318.50" r="0.70" fill="#30d020" stroke="none" stroke-width="0.5" filter="url(#b1)"/>
<circle cx="80.30" cy="314.30" r="0.90" fill="#e8d020" stroke="none" stroke-width="0.5" filter="url(#b1)"/>
<g filter="url(#o0)" opacity="1.0" transform="rotate(310.0 62.0 367.3)"><ellipse cx="62.00" cy="367.30" rx="2.80" ry="2.58" fill="#c8c8c8"/><ellipse cx="62.20" cy="367.30" rx="0.84" ry="0.76" fill="#555"/></g>
<g filter="url(#o0)" opacity="1.0" transform="rotate(462.5 92.5 359.5)"><ellipse cx="92.50" cy="359.50" rx="2.80" ry="2.58" fill="#c8c8c8"/><ellipse cx="92.70" cy="359.50" rx="0.84" ry="0.76" fill="#555"/></g>
<g filter="url(#o0)" opacity="1.0" transform="rotate(443.0 88.6 364.2)"><ellipse cx="88.60" cy="364.20" rx="2.80" ry="2.58" fill="#c8c8c8"/><ellipse cx="88.80" cy="364.20" rx="0.84" ry="0.76" fill="#555"/></g>
<g filter="url(#o0)" opacity="1.0" transform="rotate(415.0 83.0 372.4)"><ellipse cx="83.00" cy="372.40" rx="2.80" ry="2.58" fill="#c8c8c8"/><ellipse cx="83.20" cy="372.40" rx="0.84" ry="0.76" fill="#555"/></g>
<g filter="url(#o0)" opacity="1.0" transform="rotate(387.5 77.5 377.6)"><ellipse cx="77.50" cy="377.60" rx="2.80" ry="2.58" fill="#c8c8c8"/><ellipse cx="77.70" cy="377.60" rx="0.84" ry="0.76" fill="#555"/></g>
<g filter="url(#o0)" opacity="1.0" transform="rotate(357.0 71.4 381.4)"><ellipse cx="71.40" cy="381.40" rx="2.80" ry="2.58" fill="#c8c8c8"/><ellipse cx="71.60" cy="381.40" rx="0.84" ry="0.76" fill="#555"/></g>
<g filter="url(#o0)" opacity="1.0" transform="rotate(0 96.9 392.4)"><ellipse cx="96.90" cy="392.40" rx="3.40" ry="3.13" fill="#b8b8b8"/><ellipse cx="97.10" cy="392.40" rx="0.51" ry="0.46" fill="#555"/></g>
<ellipse cx="57.50" cy="391.00" rx="1.50" ry="2.50" fill="#bbb" filter="url(#b1)" opacity="1.0" transform="rotate(0 57.5 391.0)"/>
<circle cx="60.00" cy="361.00" r="0.80" fill="#30d020" stroke="none" stroke-width="0.5" filter="url(#b1)"/>
<circle cx="92.00" cy="358.60" r="0.80" fill="#30d020" stroke="none" stroke-width="0.5" filter="url(#b1)"/>
<circle cx="86.50" cy="363.50" r="0.80" fill="#30d020" stroke="none" stroke-width="0.5" filter="url(#b1)"/>
<circle cx="87.50" cy="366.00" r="0.80" fill="#30d020" stroke="none" stroke-width="0.5" filter="url(#b1)"/>
<circle cx="75.00" cy="377.00" r="0.80" fill="#30d020" stroke="none" stroke-width="0.5" filter="url(#b1)"/>
<circle cx="77.00" cy="379.50" r="0.80" fill="#30d020" stroke="none" stroke-width="0.5" filter="url(#b1)"/>
<circle cx="81.00" cy="374.00" r="0.80" fill="#30d020" stroke="none" stroke-width="0.5" filter="url(#b1)"/>
<circle cx="76.00" cy="370.00" r="0.80" fill="#30d020" stroke="none" stroke-width="0.5" filter="url(#b1)"/>
<circle cx="73.00" cy="361.50" r="0.80" fill="#30d020" stroke="none" stroke-width="0.5" filter="url(#b1)"/>
<circle cx="98.00" cy="368.00" r="0.80" fill="#30d020" stroke="none" stroke-width="0.5" filter="url(#b1)"/>
<circle cx="96.50" cy="378.00" r="0.80" fill="#30d020" stroke="none" stroke-width="0.5" filter="url(#b1)"/>
<circle cx="78.50" cy="384.00" r="0.80" fill="#30d020" stroke="none" stroke-width="0.5" filter="url(#b1)"/>
<circle cx="65.00" cy="353.50" r="0.80" fill="#30d020" stroke="none" stroke-width="0.5" filter="url(#b1)"/>
<ellipse cx="135.90" cy="332.20" rx="5.80" ry="5.00" fill="#e84848" filter="url(#b2)" opacity="1.0" transform="rotate(0 135.9 332.2)"/>
<ellipse cx="135.50" cy="331.50" rx="3.20" ry="2.60" fill="#f58080" filter="url(#b2)" opacity="0.8" transform="rotate(0 135.5 331.5)"/>
<g filter="url(#o0)" opacity="1.0" transform="rotate(602.5 120.5 319.4)"><ellipse cx="120.50" cy="319.40" rx="3.10" ry="2.85" fill="#cfcfcf"/><ellipse cx="120.70" cy="319.40" rx="0.93" ry="0.84" fill="#555"/></g>
<g filter="url(#o0)" opacity="1.0" transform="rotate(556.0 111.2 320.0)"><ellipse cx="111.20" cy="320.00" rx="3.10" ry="2.85" fill="#cfcfcf"/><ellipse cx="111.40" cy="320.00" rx="0.93" ry="0.84" fill="#555"/></g>
<g filter="url(#o0)" opacity="1.0" transform="rotate(566.0 113.2 325.6)"><ellipse cx="113.20" cy="325.60" rx="3.10" ry="2.85" fill="#cfcfcf"/><ellipse cx="113.40" cy="325.60" rx="0.93" ry="0.84" fill="#555"/></g>
<g filter="url(#o0)" opacity="1.0" transform="rotate(544.0 108.8 330.0)"><ellipse cx="108.80" cy="330.00" rx="3.10" ry="2.85" fill="#cfcfcf"/><ellipse cx="109.00" cy="330.00" rx="0.93" ry="0.84" fill="#555"/></g>
<g filter="url(#o0)" opacity="1.0" transform="rotate(641.5 128.3 334.5)"><ellipse cx="128.30" cy="334.50" rx="3.10" ry="2.85" fill="#cfcfcf"/><ellipse cx="128.50" cy="334.50" rx="0.93" ry="0.84" fill="#555"/></g>
<ellipse cx="107.00" cy="321.50" rx="1.80" ry="2.30" fill="#c0c0c0" filter="url(#b1)" opacity="1.0" transform="rotate(0 107.0 321.5)"/>
<ellipse cx="120.10" cy="342.10" rx="3.00" ry="3.40" fill="#8f8f8f" filter="url(#b2)" opacity="1.0" transform="rotate(0 120.1 342.1)"/>
<ellipse cx="107.70" cy="347.20" rx="2.60" ry="1.60" fill="#b5b5b5" filter="url(#b1)" opacity="1.0" transform="rotate(0 107.7 347.2)"/>
<ellipse cx="127.00" cy="351.00" rx="2.00" ry="1.20" fill="#aaa" filter="url(#b1)" opacity="1.0" transform="rotate(0 127.0 351.0)"/>
<circle cx="108.00" cy="315.00" r="0.60" fill="#30d020" stroke="none" stroke-width="0.5" filter="url(#b1)"/>
<circle cx="111.50" cy="317.00" r="0.60" fill="#30d020" stroke="none" stroke-width="0.5" filter="url(#b1)"/>
<circle cx="117.00" cy="315.50" r="0.60" fill="#30d020" stroke="none" stroke-width="0.5" filter="url(#b1)"/>
<circle cx="138.50" cy="345.00" r="0.60" fill="#30d020" stroke="none" stroke-width="0.5" filter="url(#b1)"/>
<circle cx="141.00" cy="347.00" r="0.60" fill="#30d020" stroke="none" stroke-width="0.5" filter="url(#b1)"/>
<circle cx="145.50" cy="342.00" r="0.60" fill="#30d020" stroke="none" stroke-width="0.5" filter="url(#b1)"/>
<g filter="url(#o0)" opacity="1.0" transform="rotate(0 98.6 312.9)"><ellipse cx="98.60" cy="312.90" rx="3.00" ry="2.76" fill="#d6d6d6"/><ellipse cx="98.80" cy="312.90" rx="0.90" ry="0.81" fill="#555"/></g>
<ellipse cx="178.50" cy="320.70" rx="4.20" ry="4.20" fill="#d84848" filter="url(#b2)" opacity="1.0" transform="rotate(0 178.5 320.7)"/>
<ellipse cx="178.50" cy="320.70" rx="2.10" ry="2.10" fill="#ee8a8a" filter="url(#b2)" opacity="0.7" transform="rotate(0 178.5 320.7)"/>
<ellipse cx="168.30" cy="331.20" rx="4.30" ry="4.30" fill="#d84848" filter="url(#b2)" opacity="1.0" transform="rotate(0 168.3 331.2)"/>
<ellipse cx="168.30" cy="331.20" rx="2.15" ry="2.15" fill="#ee8a8a" filter="url(#b2)" opacity="0.7" transform="rotate(0 168.3 331.2)"/>
<g filter="url(#o0)" opacity="1.0" transform="rotate(829.5 165.9 309.3)"><ellipse cx="165.90" cy="309.30" rx="2.80" ry="2.58" fill="#d0d0d0"/><ellipse cx="166.10" cy="309.30" rx="0.84" ry="0.76" fill="#555"/></g>
<g filter="url(#o0)" opacity="1.0" transform="rotate(864.5 172.9 307.7)"><ellipse cx="172.90" cy="307.70" rx="2.80" ry="2.58" fill="#d0d0d0"/><ellipse cx="173.10" cy="307.70" rx="0.84" ry="0.76" fill="#555"/></g>
<g filter="url(#o0)" opacity="1.0" transform="rotate(921.0 184.2 307.6)"><ellipse cx="184.20" cy="307.60" rx="2.80" ry="2.58" fill="#d0d0d0"/><ellipse cx="184.40" cy="307.60" rx="0.84" ry="0.76" fill="#555"/></g>
<g filter="url(#o0)" opacity="1.0" transform="rotate(765.5 153.1 314.2)"><ellipse cx="153.10" cy="314.20" rx="2.80" ry="2.58" fill="#d0d0d0"/><ellipse cx="153.30" cy="314.20" rx="0.84" ry="0.76" fill="#555"/></g>
<g filter="url(#o0)" opacity="1.0" transform="rotate(791.5 158.3 321.0)"><ellipse cx="158.30" cy="321.00" rx="2.80" ry="2.58" fill="#d0d0d0"/><ellipse cx="158.50" cy="321.00" rx="0.84" ry="0.76" fill="#555"/></g>
<g filter="url(#o0)" opacity="1.0" transform="rotate(822.0 164.4 322.2)"><ellipse cx="164.40" cy="322.20" rx="2.80" ry="2.58" fill="#d0d0d0"/><ellipse cx="164.60" cy="322.20" rx="0.84" ry="0.76" fill="#555"/></g>
<g filter="url(#o0)" opacity="1.0" transform="rotate(765.0 153.0 325.8)"><ellipse cx="153.00" cy="325.80" rx="2.80" ry="2.58" fill="#d0d0d0"/><ellipse cx="153.20" cy="325.80" rx="0.84" ry="0.76" fill="#555"/></g>
<g filter="url(#o0)" opacity="1.0" transform="rotate(807.5 161.5 328.2)"><ellipse cx="161.50" cy="328.20" rx="2.80" ry="2.58" fill="#d0d0d0"/><ellipse cx="161.70" cy="328.20" rx="0.84" ry="0.76" fill="#555"/></g>
<g filter="url(#o0)" opacity="1.0" transform="rotate(891.0 178.2 327.5)"><ellipse cx="178.20" cy="327.50" rx="2.80" ry="2.58" fill="#d0d0d0"/><ellipse cx="178.40" cy="327.50" rx="0.84" ry="0.76" fill="#555"/></g>
<g filter="url(#o0)" opacity="1.0" transform="rotate(978.0 195.6 342.0)"><ellipse cx="195.60" cy="342.00" rx="2.80" ry="2.58" fill="#d0d0d0"/><ellipse cx="195.80" cy="342.00" rx="0.84" ry="0.76" fill="#555"/></g>
<ellipse cx="185.50" cy="327.50" rx="2.20" ry="1.40" fill="#c8c8c8" filter="url(#b1)" opacity="1.0" transform="rotate(-20 185.5 327.5)"/>
<circle cx="175.50" cy="317.50" r="0.70" fill="#30d020" stroke="none" stroke-width="0.5" filter="url(#b1)"/>
<circle cx="186.50" cy="328.80" r="0.70" fill="#30d020" stroke="none" stroke-width="0.5" filter="url(#b1)"/>
<g filter="url(#o0)" opacity="1.0" transform="rotate(613.0 122.6 355.4)"><ellipse cx="122.60" cy="355.40" rx="3.00" ry="2.76" fill="#d8d8d8"/><ellipse cx="122.80" cy="355.40" rx="0.75" ry="0.68" fill="#555"/></g>
<g filter="url(#o0)" opacity="1.0" transform="rotate(596.5 119.3 366.8)"><ellipse cx="119.30" cy="366.80" rx="3.00" ry="2.76" fill="#d8d8d8"/><ellipse cx="119.50" cy="366.80" rx="0.75" ry="0.68" fill="#555"/></g>
<g filter="url(#o0)" opacity="1.0" transform="rotate(687.5 137.5 367.9)"><ellipse cx="137.50" cy="367.90" rx="3.00" ry="2.76" fill="#d8d8d8"/><ellipse cx="137.70" cy="367.90" rx="0.75" ry="0.68" fill="#555"/></g>
<g filter="url(#o0)" opacity="1.0" transform="rotate(579.0 115.8 381.9)"><ellipse cx="115.80" cy="381.90" rx="3.00" ry="2.76" fill="#d8d8d8"/><ellipse cx="116.00" cy="381.90" rx="0.75" ry="0.68" fill="#555"/></g>
<g filter="url(#o0)" opacity="1.0" transform="rotate(703.5 140.7 386.6)"><ellipse cx="140.70" cy="386.60" rx="3.00" ry="2.76" fill="#d8d8d8"/><ellipse cx="140.90" cy="386.60" rx="0.75" ry="0.68" fill="#555"/></g>
<g filter="url(#o0)" opacity="1.0" transform="rotate(637.0 127.4 390.3)"><ellipse cx="127.40" cy="390.30" rx="3.00" ry="2.76" fill="#d8d8d8"/><ellipse cx="127.60" cy="390.30" rx="0.75" ry="0.68" fill="#555"/></g>
<g filter="url(#o0)" opacity="1.0" transform="rotate(933.5 186.7 354.3)"><ellipse cx="186.70" cy="354.30" rx="3.00" ry="2.76" fill="#e2e2e2"/><ellipse cx="186.90" cy="354.30" rx="0.60" ry="0.54" fill="#555"/></g>
<g filter="url(#o0)" opacity="1.0" transform="rotate(850.0 170.0 368.0)"><ellipse cx="170.00" cy="368.00" rx="3.00" ry="2.76" fill="#e2e2e2"/><ellipse cx="170.20" cy="368.00" rx="0.60" ry="0.54" fill="#555"/></g>
<g filter="url(#o0)" opacity="1.0" transform="rotate(909.0 181.8 366.8)"><ellipse cx="181.80" cy="366.80" rx="3.00" ry="2.76" fill="#e2e2e2"/><ellipse cx="182.00" cy="366.80" rx="0.60" ry="0.54" fill="#555"/></g>
<g filter="url(#o0)" opacity="1.0" transform="rotate(940.0 188.0 366.4)"><ellipse cx="188.00" cy="366.40" rx="3.00" ry="2.76" fill="#e2e2e2"/><ellipse cx="188.20" cy="366.40" rx="0.60" ry="0.54" fill="#555"/></g>
<g filter="url(#o0)" opacity="1.0" transform="rotate(809.0 161.8 370.5)"><ellipse cx="161.80" cy="370.50" rx="3.00" ry="2.76" fill="#e2e2e2"/><ellipse cx="162.00" cy="370.50" rx="0.60" ry="0.54" fill="#555"/></g>
<g filter="url(#o0)" opacity="1.0" transform="rotate(837.5 167.5 383.8)"><ellipse cx="167.50" cy="383.80" rx="3.00" ry="2.76" fill="#e2e2e2"/><ellipse cx="167.70" cy="383.80" rx="0.60" ry="0.54" fill="#555"/></g>
<g filter="url(#o0)" opacity="1.0" transform="rotate(783.0 156.6 398.2)"><ellipse cx="156.60" cy="398.20" rx="3.00" ry="2.76" fill="#e2e2e2"/><ellipse cx="156.80" cy="398.20" rx="0.60" ry="0.54" fill="#555"/></g>
<ellipse cx="192.00" cy="352.50" rx="1.60" ry="1.20" fill="#ccc" filter="url(#b1)" opacity="1.0" transform="rotate(0 192.0 352.5)"/>
<circle cx="161.20" cy="368.40" r="1.10" fill="#30e020" stroke="none" stroke-width="0.5" filter="url(#b1)"/>
<circle cx="161.20" cy="375.70" r="0.90" fill="#30e020" stroke="none" stroke-width="0.5" filter="url(#b1)"/>
</g>
<line x1="57.30" y1="304.80" x2="57.30" y2="398.40" stroke="#e8e8e8" stroke-width="0.9" />
<line x1="104.40" y1="304.80" x2="104.40" y2="398.40" stroke="#e8e8e8" stroke-width="0.9" />
<line x1="151.50" y1="304.80" x2="151.50" y2="398.40" stroke="#e8e8e8" stroke-width="0.9" />
<line x1="10.10" y1="351.10" x2="198.80" y2="351.10" stroke="#e8e8e8" stroke-width="0.9" />
<rect x="48.20" y="348.60" width="7.80" height="2.30" fill="#fff" stroke="none" stroke-width="0.7" />
<text x="56.00" y="358.22" font-size="7.0" text-anchor="end" fill="#d00000" textLength="21.40" lengthAdjust="spacingAndGlyphs" >Cit-H3</text>
<text x="52.20" y="364.82" font-size="7.0" text-anchor="end" fill="#9a9a9a" textLength="14.00" lengthAdjust="spacingAndGlyphs" >DNA</text>
<text x="51.40" y="371.72" font-size="7.0" text-anchor="end" fill="#00c800" textLength="12.00" lengthAdjust="spacingAndGlyphs" >Bac</text>
<rect x="251.30" y="296.00" width="3.60" height="3.60" fill="#6d95c8" stroke="#4a6fa0" stroke-width="0.5" />
<text x="259.10" y="300.07" font-size="6.3" fill="#2a2a2a" textLength="8.40" lengthAdjust="spacingAndGlyphs" >WT</text>
<circle cx="282.80" cy="297.80" r="1.90" fill="#f4b5a6" stroke="#cf8878" stroke-width="0.5" />
<text x="288.60" y="300.07" font-size="6.3" fill="#2a2a2a" textLength="24.20" lengthAdjust="spacingAndGlyphs" >XKR8 KO</text>
<line x1="236.00" y1="305.60" x2="236.00" y2="382.50" stroke="#333" stroke-width="0.7" />
<line x1="233.80" y1="382.50" x2="236.00" y2="382.50" stroke="#333" stroke-width="0.7" />
<text x="231.40" y="384.88" font-size="6.6" text-anchor="end" fill="#2a2a2a" >0</text>
<line x1="233.80" y1="363.27" x2="236.00" y2="363.27" stroke="#333" stroke-width="0.7" />
<text x="231.40" y="365.65" font-size="6.6" text-anchor="end" fill="#2a2a2a" >5</text>
<line x1="233.80" y1="344.05" x2="236.00" y2="344.05" stroke="#333" stroke-width="0.7" />
<text x="231.40" y="346.43" font-size="6.6" text-anchor="end" fill="#2a2a2a" >10</text>
<line x1="233.80" y1="324.82" x2="236.00" y2="324.82" stroke="#333" stroke-width="0.7" />
<text x="231.40" y="327.20" font-size="6.6" text-anchor="end" fill="#2a2a2a" >15</text>
<line x1="233.80" y1="305.60" x2="236.00" y2="305.60" stroke="#333" stroke-width="0.7" />
<text x="231.40" y="307.98" font-size="6.6" text-anchor="end" fill="#2a2a2a" >20</text>
<line x1="236.00" y1="382.50" x2="328.50" y2="382.50" stroke="#333" stroke-width="0.7" />
<text x="215.90" y="346.43" font-size="7.3" text-anchor="middle" fill="#2a2a2a" textLength="27.50" lengthAdjust="spacingAndGlyphs" transform="rotate(-90 215.90 343.80)" >NETs (%)</text>
<line x1="246.80" y1="382.50" x2="246.80" y2="384.70" stroke="#333" stroke-width="0.7" />
<rect x="240.60" y="380.90" width="3.20" height="3.20" fill="#6d95c8" stroke="#4a6fa0" stroke-width="0.5" />
<rect x="243.30" y="380.90" width="3.20" height="3.20" fill="#6d95c8" stroke="#4a6fa0" stroke-width="0.5" />
<rect x="237.90" y="380.13" width="3.20" height="3.20" fill="#6d95c8" stroke="#4a6fa0" stroke-width="0.5" />
<rect x="241.95" y="378.98" width="3.20" height="3.20" fill="#6d95c8" stroke="#4a6fa0" stroke-width="0.5" />
<rect x="239.25" y="377.82" width="3.20" height="3.20" fill="#6d95c8" stroke="#4a6fa0" stroke-width="0.5" />
<rect x="243.30" y="377.05" width="3.20" height="3.20" fill="#6d95c8" stroke="#4a6fa0" stroke-width="0.5" />
<rect x="240.60" y="377.05" width="3.20" height="3.20" fill="#6d95c8" stroke="#4a6fa0" stroke-width="0.5" />
<line x1="242.20" y1="378.87" x2="242.20" y2="382.28" stroke="#4a4a4a" stroke-width="0.55" />
<line x1="240.40" y1="378.87" x2="244.00" y2="378.87" stroke="#4a4a4a" stroke-width="0.55" />
<line x1="240.40" y1="382.28" x2="244.00" y2="382.28" stroke="#4a4a4a" stroke-width="0.55" />
<line x1="238.70" y1="380.58" x2="245.70" y2="380.58" stroke="#4a4a4a" stroke-width="0.55" />
<circle cx="251.30" cy="382.50" r="1.75" fill="#f4b5a6" stroke="#cf8878" stroke-width="0.5" />
<circle cx="254.00" cy="382.50" r="1.75" fill="#f4b5a6" stroke="#cf8878" stroke-width="0.5" />
<circle cx="248.60" cy="382.50" r="1.75" fill="#f4b5a6" stroke="#cf8878" stroke-width="0.5" />
<circle cx="252.65" cy="381.35" r="1.75" fill="#f4b5a6" stroke="#cf8878" stroke-width="0.5" />
<circle cx="249.95" cy="380.58" r="1.75" fill="#f4b5a6" stroke="#cf8878" stroke-width="0.5" />
<circle cx="254.00" cy="378.65" r="1.75" fill="#f4b5a6" stroke="#cf8878" stroke-width="0.5" />
<circle cx="251.30" cy="378.65" r="1.75" fill="#f4b5a6" stroke="#cf8878" stroke-width="0.5" />
<line x1="251.30" y1="379.23" x2="251.30" y2="382.50" stroke="#4a4a4a" stroke-width="0.55" />
<line x1="249.50" y1="379.23" x2="253.10" y2="379.23" stroke="#4a4a4a" stroke-width="0.55" />
<line x1="247.80" y1="380.96" x2="254.80" y2="380.96" stroke="#4a4a4a" stroke-width="0.55" />
<text x="250.00" y="389.60" font-size="6.6" fill="#2a2a2a" text-anchor="end" transform="rotate(-45 250.00 389.60)">Mock</text>
<line x1="270.80" y1="382.50" x2="270.80" y2="384.70" stroke="#333" stroke-width="0.7" />
<rect x="264.60" y="365.52" width="3.20" height="3.20" fill="#6d95c8" stroke="#4a6fa0" stroke-width="0.5" />
<rect x="264.60" y="350.91" width="3.20" height="3.20" fill="#6d95c8" stroke="#4a6fa0" stroke-width="0.5" />
<rect x="264.60" y="346.29" width="3.20" height="3.20" fill="#6d95c8" stroke="#4a6fa0" stroke-width="0.5" />
<rect x="267.30" y="345.14" width="3.20" height="3.20" fill="#6d95c8" stroke="#4a6fa0" stroke-width="0.5" />
<rect x="261.90" y="344.37" width="3.20" height="3.20" fill="#6d95c8" stroke="#4a6fa0" stroke-width="0.5" />
<rect x="264.60" y="336.68" width="3.20" height="3.20" fill="#6d95c8" stroke="#4a6fa0" stroke-width="0.5" />
<rect x="267.30" y="334.76" width="3.20" height="3.20" fill="#6d95c8" stroke="#4a6fa0" stroke-width="0.5" />
<rect x="264.60" y="332.84" width="3.20" height="3.20" fill="#6d95c8" stroke="#4a6fa0" stroke-width="0.5" />
<rect x="264.60" y="322.07" width="3.20" height="3.20" fill="#6d95c8" stroke="#4a6fa0" stroke-width="0.5" />
<rect x="264.60" y="312.46" width="3.20" height="3.20" fill="#6d95c8" stroke="#4a6fa0" stroke-width="0.5" />
<line x1="266.20" y1="325.73" x2="266.20" y2="355.68" stroke="#4a4a4a" stroke-width="0.55" />
<line x1="264.40" y1="325.73" x2="268.00" y2="325.73" stroke="#4a4a4a" stroke-width="0.55" />
<line x1="264.40" y1="355.68" x2="268.00" y2="355.68" stroke="#4a4a4a" stroke-width="0.55" />
<line x1="262.70" y1="340.70" x2="269.70" y2="340.70" stroke="#4a4a4a" stroke-width="0.55" />
<circle cx="275.30" cy="382.50" r="1.75" fill="#f4b5a6" stroke="#cf8878" stroke-width="0.5" />
<circle cx="275.30" cy="378.65" r="1.75" fill="#f4b5a6" stroke="#cf8878" stroke-width="0.5" />
<circle cx="278.00" cy="376.73" r="1.75" fill="#f4b5a6" stroke="#cf8878" stroke-width="0.5" />
<circle cx="275.30" cy="374.81" r="1.75" fill="#f4b5a6" stroke="#cf8878" stroke-width="0.5" />
<circle cx="275.30" cy="370.96" r="1.75" fill="#f4b5a6" stroke="#cf8878" stroke-width="0.5" />
<circle cx="278.00" cy="369.04" r="1.75" fill="#f4b5a6" stroke="#cf8878" stroke-width="0.5" />
<circle cx="275.30" cy="367.12" r="1.75" fill="#f4b5a6" stroke="#cf8878" stroke-width="0.5" />
<circle cx="272.60" cy="367.12" r="1.75" fill="#f4b5a6" stroke="#cf8878" stroke-width="0.5" />
<circle cx="278.00" cy="365.20" r="1.75" fill="#f4b5a6" stroke="#cf8878" stroke-width="0.5" />
<circle cx="275.30" cy="363.27" r="1.75" fill="#f4b5a6" stroke="#cf8878" stroke-width="0.5" />
<circle cx="272.60" cy="363.27" r="1.75" fill="#f4b5a6" stroke="#cf8878" stroke-width="0.5" />
<line x1="275.30" y1="364.27" x2="275.30" y2="377.31" stroke="#4a4a4a" stroke-width="0.55" />
<line x1="273.50" y1="364.27" x2="277.10" y2="364.27" stroke="#4a4a4a" stroke-width="0.55" />
<line x1="273.50" y1="377.31" x2="277.10" y2="377.31" stroke="#4a4a4a" stroke-width="0.55" />
<line x1="271.80" y1="370.79" x2="278.80" y2="370.79" stroke="#4a4a4a" stroke-width="0.55" />
<text x="274.00" y="389.60" font-size="6.6" fill="#2a2a2a" text-anchor="end" transform="rotate(-45 274.00 389.60)" font-style="italic">S. aureus</text>
<line x1="293.90" y1="382.50" x2="293.90" y2="384.70" stroke="#333" stroke-width="0.7" />
<rect x="287.70" y="357.83" width="3.20" height="3.20" fill="#6d95c8" stroke="#4a6fa0" stroke-width="0.5" />
<rect x="290.40" y="355.91" width="3.20" height="3.20" fill="#6d95c8" stroke="#4a6fa0" stroke-width="0.5" />
<rect x="287.70" y="353.98" width="3.20" height="3.20" fill="#6d95c8" stroke="#4a6fa0" stroke-width="0.5" />
<rect x="287.70" y="350.14" width="3.20" height="3.20" fill="#6d95c8" stroke="#4a6fa0" stroke-width="0.5" />
<rect x="290.40" y="348.22" width="3.20" height="3.20" fill="#6d95c8" stroke="#4a6fa0" stroke-width="0.5" />
<rect x="285.00" y="348.22" width="3.20" height="3.20" fill="#6d95c8" stroke="#4a6fa0" stroke-width="0.5" />
<rect x="287.70" y="346.29" width="3.20" height="3.20" fill="#6d95c8" stroke="#4a6fa0" stroke-width="0.5" />
<rect x="287.70" y="342.45" width="3.20" height="3.20" fill="#6d95c8" stroke="#4a6fa0" stroke-width="0.5" />
<rect x="290.40" y="342.45" width="3.20" height="3.20" fill="#6d95c8" stroke="#4a6fa0" stroke-width="0.5" />
<rect x="287.70" y="335.53" width="3.20" height="3.20" fill="#6d95c8" stroke="#4a6fa0" stroke-width="0.5" />
<line x1="289.30" y1="342.87" x2="289.30" y2="356.53" stroke="#4a4a4a" stroke-width="0.55" />
<line x1="287.50" y1="342.87" x2="291.10" y2="342.87" stroke="#4a4a4a" stroke-width="0.55" />
<line x1="287.50" y1="356.53" x2="291.10" y2="356.53" stroke="#4a4a4a" stroke-width="0.55" />
<line x1="285.80" y1="349.70" x2="292.80" y2="349.70" stroke="#4a4a4a" stroke-width="0.55" />
<circle cx="298.40" cy="382.50" r="1.75" fill="#f4b5a6" stroke="#cf8878" stroke-width="0.5" />
<circle cx="301.10" cy="382.50" r="1.75" fill="#f4b5a6" stroke="#cf8878" stroke-width="0.5" />
<circle cx="295.70" cy="382.50" r="1.75" fill="#f4b5a6" stroke="#cf8878" stroke-width="0.5" />
<circle cx="299.75" cy="380.58" r="1.75" fill="#f4b5a6" stroke="#cf8878" stroke-width="0.5" />
<circle cx="297.05" cy="378.65" r="1.75" fill="#f4b5a6" stroke="#cf8878" stroke-width="0.5" />
<circle cx="299.75" cy="376.73" r="1.75" fill="#f4b5a6" stroke="#cf8878" stroke-width="0.5" />
<circle cx="297.05" cy="374.81" r="1.75" fill="#f4b5a6" stroke="#cf8878" stroke-width="0.5" />
<circle cx="299.75" cy="372.89" r="1.75" fill="#f4b5a6" stroke="#cf8878" stroke-width="0.5" />
<circle cx="297.05" cy="370.96" r="1.75" fill="#f4b5a6" stroke="#cf8878" stroke-width="0.5" />
<circle cx="298.40" cy="365.20" r="1.75" fill="#f4b5a6" stroke="#cf8878" stroke-width="0.5" />
<circle cx="301.10" cy="364.04" r="1.75" fill="#f4b5a6" stroke="#cf8878" stroke-width="0.5" />
<line x1="298.40" y1="368.88" x2="298.40" y2="382.28" stroke="#4a4a4a" stroke-width="0.55" />
<line x1="296.60" y1="368.88" x2="300.20" y2="368.88" stroke="#4a4a4a" stroke-width="0.55" />
<line x1="296.60" y1="382.28" x2="300.20" y2="382.28" stroke="#4a4a4a" stroke-width="0.55" />
<line x1="294.90" y1="375.58" x2="301.90" y2="375.58" stroke="#4a4a4a" stroke-width="0.55" />
<text x="297.10" y="389.60" font-size="6.6" fill="#2a2a2a" text-anchor="end" transform="rotate(-45 297.10 389.60)" font-style="italic">L. M.</text>
<line x1="317.50" y1="382.50" x2="317.50" y2="384.70" stroke="#333" stroke-width="0.7" />
<rect x="311.30" y="365.52" width="3.20" height="3.20" fill="#6d95c8" stroke="#4a6fa0" stroke-width="0.5" />
<rect x="314.00" y="363.60" width="3.20" height="3.20" fill="#6d95c8" stroke="#4a6fa0" stroke-width="0.5" />
<rect x="311.30" y="358.60" width="3.20" height="3.20" fill="#6d95c8" stroke="#4a6fa0" stroke-width="0.5" />
<rect x="314.00" y="357.83" width="3.20" height="3.20" fill="#6d95c8" stroke="#4a6fa0" stroke-width="0.5" />
<rect x="311.30" y="353.98" width="3.20" height="3.20" fill="#6d95c8" stroke="#4a6fa0" stroke-width="0.5" />
<rect x="314.00" y="352.06" width="3.20" height="3.20" fill="#6d95c8" stroke="#4a6fa0" stroke-width="0.5" />
<rect x="308.60" y="352.06" width="3.20" height="3.20" fill="#6d95c8" stroke="#4a6fa0" stroke-width="0.5" />
<rect x="311.30" y="347.06" width="3.20" height="3.20" fill="#6d95c8" stroke="#4a6fa0" stroke-width="0.5" />
<rect x="314.00" y="346.29" width="3.20" height="3.20" fill="#6d95c8" stroke="#4a6fa0" stroke-width="0.5" />
<rect x="308.60" y="346.29" width="3.20" height="3.20" fill="#6d95c8" stroke="#4a6fa0" stroke-width="0.5" />
<line x1="312.90" y1="348.99" x2="312.90" y2="362.87" stroke="#4a4a4a" stroke-width="0.55" />
<line x1="311.10" y1="348.99" x2="314.70" y2="348.99" stroke="#4a4a4a" stroke-width="0.55" />
<line x1="311.10" y1="362.87" x2="314.70" y2="362.87" stroke="#4a4a4a" stroke-width="0.55" />
<line x1="309.40" y1="355.93" x2="316.40" y2="355.93" stroke="#4a4a4a" stroke-width="0.55" />
<circle cx="322.00" cy="382.50" r="1.75" fill="#f4b5a6" stroke="#cf8878" stroke-width="0.5" />
<circle cx="324.70" cy="382.50" r="1.75" fill="#f4b5a6" stroke="#cf8878" stroke-width="0.5" />
<circle cx="319.30" cy="382.50" r="1.75" fill="#f4b5a6" stroke="#cf8878" stroke-width="0.5" />
<circle cx="323.35" cy="380.58" r="1.75" fill="#f4b5a6" stroke="#cf8878" stroke-width="0.5" />
<circle cx="320.65" cy="378.65" r="1.75" fill="#f4b5a6" stroke="#cf8878" stroke-width="0.5" />
<circle cx="324.70" cy="378.65" r="1.75" fill="#f4b5a6" stroke="#cf8878" stroke-width="0.5" />
<circle cx="322.00" cy="376.73" r="1.75" fill="#f4b5a6" stroke="#cf8878" stroke-width="0.5" />
<circle cx="324.70" cy="374.81" r="1.75" fill="#f4b5a6" stroke="#cf8878" stroke-width="0.5" />
<circle cx="322.00" cy="372.89" r="1.75" fill="#f4b5a6" stroke="#cf8878" stroke-width="0.5" />
<circle cx="322.00" cy="369.04" r="1.75" fill="#f4b5a6" stroke="#cf8878" stroke-width="0.5" />
<circle cx="323.35" cy="366.35" r="1.75" fill="#f4b5a6" stroke="#cf8878" stroke-width="0.5" />
<line x1="322.00" y1="371.29" x2="322.00" y2="382.38" stroke="#4a4a4a" stroke-width="0.55" />
<line x1="320.20" y1="371.29" x2="323.80" y2="371.29" stroke="#4a4a4a" stroke-width="0.55" />
<line x1="320.20" y1="382.38" x2="323.80" y2="382.38" stroke="#4a4a4a" stroke-width="0.55" />
<line x1="318.50" y1="376.84" x2="325.50" y2="376.84" stroke="#4a4a4a" stroke-width="0.55" />
<text x="320.70" y="389.60" font-size="6.6" fill="#2a2a2a" text-anchor="end" transform="rotate(-45 320.70 389.60)" font-style="italic">E. coli</text>
<text x="270.70" y="309.08" font-size="6.6" text-anchor="middle" fill="#2a2a2a" >&lt;0.0001</text>
<line x1="262.40" y1="311.20" x2="276.20" y2="311.20" stroke="#333" stroke-width="0.7" />
<text x="295.20" y="331.18" font-size="6.6" text-anchor="middle" fill="#2a2a2a" >&lt;0.0001</text>
<line x1="288.00" y1="333.50" x2="300.40" y2="333.50" stroke="#333" stroke-width="0.7" />
<text x="317.50" y="341.68" font-size="6.6" text-anchor="middle" fill="#2a2a2a" >&lt;0.0001</text>
<line x1="310.30" y1="344.20" x2="324.10" y2="344.20" stroke="#333" stroke-width="0.7" />
<text x="248.80" y="370.78" font-size="6.6" text-anchor="middle" fill="#2a2a2a" >&gt;0.9999</text>
<line x1="240.10" y1="373.20" x2="253.50" y2="373.20" stroke="#333" stroke-width="0.7" />
<text x="341.80" y="291.65" font-size="11.8" fill="#000" font-weight="bold" stroke="#000" stroke-width="0.3">g</text>
<text x="385.60" y="301.10" font-size="7.5" text-anchor="middle" fill="#2a2a2a" textLength="24.80" lengthAdjust="spacingAndGlyphs" >Vehicle</text>
<text x="432.70" y="301.10" font-size="7.5" text-anchor="middle" fill="#2a2a2a" textLength="14.50" lengthAdjust="spacingAndGlyphs" >PMA</text>
<text x="479.75" y="301.10" font-size="7.5" text-anchor="middle" fill="#2a2a2a" textLength="24.40" lengthAdjust="spacingAndGlyphs" >A23187</text>
<text x="527.00" y="301.10" font-size="7.5" text-anchor="middle" fill="#2a2a2a" textLength="12.40" lengthAdjust="spacingAndGlyphs" >LPS</text>
<line x1="350.50" y1="304.60" x2="350.50" y2="398.40" stroke="#333" stroke-width="0.7" />
<text x="345.30" y="353.45" font-size="6.8" text-anchor="middle" fill="#2a2a2a" textLength="25.50" lengthAdjust="spacingAndGlyphs" transform="rotate(-90 345.30 351.00)" >dHL-60</text>
<text x="356.40" y="328.82" font-size="7.0" text-anchor="middle" fill="#2a2a2a" textLength="7.40" lengthAdjust="spacingAndGlyphs" transform="rotate(-90 356.40 326.30)" >CT</text>
<text x="356.40" y="376.32" font-size="7.0" text-anchor="middle" fill="#2a2a2a" textLength="29.50" lengthAdjust="spacingAndGlyphs" transform="rotate(-90 356.40 373.80)" >XKR8 KO</text>
<rect x="362.30" y="304.60" width="188.70" height="93.80" fill="#020106" stroke="none" stroke-width="0.7" />
<clipPath id="cg"><rect x="362.30" y="304.60" width="188.70" height="93.80"/></clipPath><g clip-path="url(#cg)">
<g filter="url(#o0)"><circle cx="397.00" cy="311.80" r="3.40" fill="#1010d2"/><circle cx="397.30" cy="312.00" r="1.36" fill="#0a0aa8"/></g>
<g filter="url(#o0)"><circle cx="404.20" cy="321.80" r="3.40" fill="#1010d2"/><circle cx="404.50" cy="322.00" r="1.36" fill="#0a0aa8"/></g>
<g filter="url(#o0)"><circle cx="370.10" cy="325.30" r="3.40" fill="#1010d2"/><circle cx="370.40" cy="325.50" r="1.36" fill="#0a0aa8"/></g>
<g filter="url(#o0)"><circle cx="382.10" cy="331.50" r="3.40" fill="#1010d2"/><circle cx="382.40" cy="331.70" r="1.36" fill="#0a0aa8"/></g>
<g filter="url(#o0)"><circle cx="368.00" cy="337.70" r="3.40" fill="#1010d2"/><circle cx="368.30" cy="337.90" r="1.36" fill="#0a0aa8"/></g>
<g filter="url(#o0)"><circle cx="378.40" cy="341.80" r="3.40" fill="#1010d2"/><circle cx="378.70" cy="342.00" r="1.36" fill="#0a0aa8"/></g>
<g filter="url(#o0)"><circle cx="371.50" cy="358.10" r="3.10" fill="#1010d2"/><circle cx="371.80" cy="358.30" r="1.24" fill="#0a0aa8"/></g>
<g filter="url(#o0)"><circle cx="371.50" cy="378.30" r="3.10" fill="#1010d2"/><circle cx="371.80" cy="378.50" r="1.24" fill="#0a0aa8"/></g>
<g filter="url(#o0)"><circle cx="402.50" cy="378.30" r="3.10" fill="#1010d2"/><circle cx="402.80" cy="378.50" r="1.24" fill="#0a0aa8"/></g>
<g filter="url(#o0)"><circle cx="380.00" cy="388.00" r="3.10" fill="#1010d2"/><circle cx="380.30" cy="388.20" r="1.24" fill="#0a0aa8"/></g>
<clipPath id="cg1"><rect x="409.50" y="304.60" width="47.00" height="46.80"/></clipPath><g clip-path="url(#cg1)">
<rect x="409.50" y="304.60" width="47.00" height="47.00" fill="#05020f" stroke="none" stroke-width="0.7" />
<ellipse cx="436.00" cy="330.00" rx="17.00" ry="12.00" fill="#30105a" filter="url(#o3)" opacity="0.6" transform="rotate(0 436.0 330.0)"/>
<ellipse cx="416.00" cy="333.00" rx="2.00" ry="7.00" fill="#3a1a90" filter="url(#o2)" opacity="0.9" transform="rotate(15 416.0 333.0)"/>
<ellipse cx="418.40" cy="322.00" rx="5.00" ry="11.00" fill="#9028b8" filter="url(#o2)" opacity="1.0" transform="rotate(20 418.4 322.0)"/>
<ellipse cx="418.90" cy="320.80" rx="3.10" ry="8.60" fill="#e444e0" filter="url(#o1)" opacity="1.0" transform="rotate(20 418.9 320.8)"/>
<path d="M436,318 L444,315 L449,313 L454,317 L453,326 L455,333 L450,340 L443,342 L438,337 L431,340 L430,337 L435,331 L432,326 Z" fill="#5e2298" stroke="none" stroke-width="0.7" filter="url(#o3)"/>
<path d="M438,320 L447,316.5 L452,321 L451,331 L446,337 L440,335 L435,329 Z" fill="#9438bc" stroke="none" stroke-width="0.7" filter="url(#o2)"/>
<ellipse cx="442.00" cy="330.00" rx="3.50" ry="2.50" fill="#a844cc" filter="url(#o2)" opacity="0.8" transform="rotate(0 442.0 330.0)"/>
<path d="M437,333 L430,339" fill="none" stroke="#7a30b8" stroke-width="2.0" filter="url(#o1)"/>
<ellipse cx="447.00" cy="314.50" rx="4.50" ry="2.50" fill="#7a30b0" filter="url(#o2)" opacity="1.0" transform="rotate(35 447.0 314.5)"/>
<ellipse cx="450.30" cy="311.20" rx="4.20" ry="1.90" fill="#ec54ea" filter="url(#o1)" opacity="1.0" transform="rotate(35 450.3 311.2)"/>
<ellipse cx="454.00" cy="321.40" rx="1.20" ry="1.20" fill="#e050e0" filter="url(#b2)" opacity="1.0" transform="rotate(0 454.0 321.4)"/>
<ellipse cx="438.00" cy="304.60" rx="1.60" ry="0.90" fill="#d040d8" filter="url(#b1)" opacity="1.0" transform="rotate(0 438.0 304.6)"/>
<circle cx="413.00" cy="340.00" r="0.60" fill="#2424c8" stroke="none" stroke-width="0.5" filter="url(#b1)"/>
<circle cx="416.00" cy="344.00" r="0.60" fill="#2424c8" stroke="none" stroke-width="0.5" filter="url(#b1)"/>
<circle cx="424.00" cy="347.00" r="0.60" fill="#2424c8" stroke="none" stroke-width="0.5" filter="url(#b1)"/>
<circle cx="446.00" cy="347.00" r="0.60" fill="#2424c8" stroke="none" stroke-width="0.5" filter="url(#b1)"/>
<circle cx="428.00" cy="308.00" r="0.60" fill="#2424c8" stroke="none" stroke-width="0.5" filter="url(#b1)"/>
<circle cx="433.00" cy="314.00" r="0.60" fill="#2424c8" stroke="none" stroke-width="0.5" filter="url(#b1)"/>
<circle cx="411.00" cy="336.00" r="0.60" fill="#2424c8" stroke="none" stroke-width="0.5" filter="url(#b1)"/>
<circle cx="421.00" cy="336.00" r="0.60" fill="#2424c8" stroke="none" stroke-width="0.5" filter="url(#b1)"/>
<circle cx="414.00" cy="348.00" r="0.60" fill="#2424c8" stroke="none" stroke-width="0.5" filter="url(#b1)"/>
<circle cx="435.00" cy="349.00" r="0.60" fill="#2424c8" stroke="none" stroke-width="0.5" filter="url(#b1)"/>
</g>
<clipPath id="cg2"><rect x="456.50" y="304.60" width="47.10" height="46.80"/></clipPath><g clip-path="url(#cg2)">
<rect x="456.50" y="304.60" width="47.20" height="47.00" fill="#04020c" stroke="none" stroke-width="0.7" />
<ellipse cx="474.00" cy="326.00" rx="9.00" ry="20.00" fill="#3a1a80" filter="url(#o3)" opacity="0.55" transform="rotate(38 474.0 326.0)"/>
<path d="M493,306 Q482,316 474,327 Q469,338 467,349" fill="none" stroke="#3a1a80" stroke-width="5" filter="url(#o3)" opacity="0.8"/>
<path d="M484,305 Q480,314 476,322 Q472,328 470,333" fill="none" stroke="#6038d0" stroke-width="2.2" filter="url(#o1)"/>
<path d="M493.5,306 Q484,315 476,324" fill="none" stroke="#c8306c" stroke-width="2.6" filter="url(#o1)"/>
<path d="M476,324 Q471,331 469,340 L467.5,349" fill="none" stroke="#7c3cc8" stroke-width="2.4" filter="url(#o1)"/>
<path d="M480,320 Q476,328 472,336" fill="none" stroke="#8a38c0" stroke-width="1.2" filter="url(#o1)" opacity="0.8"/>
<path d="M457.5,329 Q465,329.5 472,331" fill="none" stroke="#a838b8" stroke-width="1.9" filter="url(#o1)"/>
<path d="M459.5,330 Q457.2,340 459.5,348.5 Q462,350.5 466.5,349" fill="none" stroke="#5a30c0" stroke-width="1.0" filter="url(#b2)"/>
<ellipse cx="459.60" cy="307.00" rx="1.20" ry="2.40" fill="#d02878" filter="url(#b2)" opacity="1.0" transform="rotate(0 459.6 307.0)"/>
<ellipse cx="458.30" cy="320.20" rx="0.90" ry="1.40" fill="#c02878" filter="url(#b1)" opacity="1.0" transform="rotate(0 458.3 320.2)"/>
<ellipse cx="458.50" cy="349.00" rx="1.20" ry="1.20" fill="#e040c0" filter="url(#b1)" opacity="1.0" transform="rotate(0 458.5 349.0)"/>
<ellipse cx="469.40" cy="324.60" rx="4.00" ry="3.00" fill="#2030e8" filter="url(#b2)" opacity="1.0" transform="rotate(0 469.4 324.6)"/>
<circle cx="478.80" cy="341.40" r="1.50" fill="#1c28d0" stroke="none" stroke-width="0.5" filter="url(#b2)"/>
<circle cx="472.00" cy="331.00" r="1.00" fill="#f04088" stroke="none" stroke-width="0.5" filter="url(#b1)"/>
<circle cx="486.00" cy="323.00" r="0.60" fill="#2428c8" stroke="none" stroke-width="0.5" filter="url(#b1)"/>
<circle cx="489.00" cy="318.00" r="0.60" fill="#2428c8" stroke="none" stroke-width="0.5" filter="url(#b1)"/>
<circle cx="487.00" cy="307.00" r="0.60" fill="#2428c8" stroke="none" stroke-width="0.5" filter="url(#b1)"/>
<circle cx="474.00" cy="344.00" r="0.60" fill="#2428c8" stroke="none" stroke-width="0.5" filter="url(#b1)"/>
<circle cx="482.00" cy="335.00" r="0.60" fill="#2428c8" stroke="none" stroke-width="0.5" filter="url(#b1)"/>
</g>
<clipPath id="cg3"><rect x="503.60" y="304.60" width="47.40" height="46.80"/></clipPath><g clip-path="url(#cg3)">
<rect x="503.60" y="304.60" width="47.40" height="47.00" fill="#030109" stroke="none" stroke-width="0.7" />
<ellipse cx="528.00" cy="326.00" rx="16.00" ry="7.00" fill="#300c3c" filter="url(#o3)" opacity="0.6" transform="rotate(0 528.0 326.0)"/>
<path d="M504,329 L528,327.5 L529.5,332 L504,331.4 Z" fill="#3c1054" stroke="none" stroke-width="0.7" filter="url(#b3)" opacity="0.9"/>
<path d="M504,329 L528,327.5" fill="none" stroke="#a8287c" stroke-width="0.9" filter="url(#b1)"/>
<path d="M504,331.4 L529.5,332" fill="none" stroke="#8a2478" stroke-width="0.8" filter="url(#b1)"/>
<path d="M513.4,334.8 L522.9,337" fill="none" stroke="#8a2478" stroke-width="0.8" filter="url(#b1)"/>
<path d="M529.5,340 Q527,343 525,346" fill="none" stroke="#701838" stroke-width="0.8" filter="url(#b2)" opacity="0.8"/>
<ellipse cx="541.2" cy="316.4" rx="4.2" ry="4.9" fill="none" stroke="#7a1840" stroke-width="1.0" filter="url(#b2)"/>
<path d="M544,320.6 Q537,321.5 537,316.5 Q537.5,311.5 542,311.5 Q545.5,312 546,315" fill="none" stroke="#d42462" stroke-width="1.3" filter="url(#o0)"/>
<path d="M546,312 Q548,309 549.5,307" fill="none" stroke="#8a1c48" stroke-width="0.8" filter="url(#b2)"/>
<path d="M527,329.5 Q534,329.5 541.5,325" fill="none" stroke="#e02c68" stroke-width="3.2" filter="url(#o1)"/>
<path d="M512,330 L528,329" fill="none" stroke="#a02468" stroke-width="2.2" filter="url(#b3)" opacity="0.8"/>
<ellipse cx="530.90" cy="315.90" rx="1.50" ry="1.50" fill="#ee40a0" filter="url(#b2)" opacity="1.0" transform="rotate(0 530.9 315.9)"/>
<ellipse cx="530.60" cy="318.90" rx="1.30" ry="1.30" fill="#e038a0" filter="url(#b2)" opacity="1.0" transform="rotate(0 530.6 318.9)"/>
<circle cx="522.20" cy="337.00" r="0.90" fill="#e040b0" stroke="none" stroke-width="0.5" filter="url(#b1)"/>
<ellipse cx="519.20" cy="323.90" rx="3.00" ry="2.50" fill="#4030c8" filter="url(#b2)" opacity="1.0" transform="rotate(0 519.2 323.9)"/>
<ellipse cx="544.80" cy="326.10" rx="3.70" ry="3.30" fill="#1838f0" filter="url(#b2)" opacity="1.0" transform="rotate(0 544.8 326.1)"/>
<ellipse cx="533.80" cy="329.00" rx="2.40" ry="1.40" fill="#3848f0" filter="url(#b2)" opacity="1.0" transform="rotate(0 533.8 329.0)"/>
</g>
<circle cx="427.9" cy="366.4" r="3.0" fill="#2814b0" stroke="#5a2cd8" stroke-width="1.3" filter="url(#b2)"/>
<ellipse cx="425.20" cy="380.80" rx="2.90" ry="4.20" fill="#1c20e4" filter="url(#b2)" opacity="1.0" transform="rotate(0 425.2 380.8)"/>
<ellipse cx="437.40" cy="379.80" rx="4.20" ry="3.00" fill="#1c20e4" filter="url(#b2)" opacity="1.0" transform="rotate(0 437.4 379.8)"/>
<ellipse cx="437.50" cy="380.80" rx="2.00" ry="0.90" fill="#06062a" filter="url(#b1)" opacity="1.0" transform="rotate(0 437.5 380.8)"/>
<circle cx="426.50" cy="373.50" r="0.80" fill="#2028c0" stroke="none" stroke-width="0.5" filter="url(#b1)"/>
<ellipse cx="471.50" cy="369.50" rx="5.00" ry="4.00" fill="#3a1878" filter="url(#b3)" opacity="0.9" transform="rotate(0 471.5 369.5)"/>
<g filter="url(#o0)"><circle cx="465.20" cy="362.20" r="2.50" fill="#1010d2"/><circle cx="465.50" cy="362.40" r="1.00" fill="#0a0aa8"/></g>
<g filter="url(#o0)"><circle cx="476.80" cy="369.50" r="2.50" fill="#1010d2"/><circle cx="477.10" cy="369.70" r="1.00" fill="#0a0aa8"/></g>
<g filter="url(#o0)"><circle cx="498.80" cy="372.60" r="2.70" fill="#1010d2"/><circle cx="499.10" cy="372.80" r="1.08" fill="#0a0aa8"/></g>
<g filter="url(#o0)"><circle cx="460.60" cy="380.40" r="2.70" fill="#1010d2"/><circle cx="460.90" cy="380.60" r="1.08" fill="#0a0aa8"/></g>
<ellipse cx="475.10" cy="383.90" rx="3.80" ry="3.30" fill="#3020c8" filter="url(#b2)" opacity="1.0" transform="rotate(0 475.1 383.9)"/>
<ellipse cx="475.10" cy="383.90" rx="2.00" ry="1.60" fill="#5a30c0" filter="url(#b2)" opacity="1.0" transform="rotate(0 475.1 383.9)"/>
<g filter="url(#o0)"><circle cx="456.00" cy="379.80" r="2.60" fill="#1010d2"/><circle cx="456.30" cy="380.00" r="1.04" fill="#0a0aa8"/></g>
<g filter="url(#o0)"><circle cx="512.30" cy="360.20" r="3.20" fill="#1010d2"/><circle cx="512.60" cy="360.40" r="1.28" fill="#0a0aa8"/></g>
<g filter="url(#o0)"><circle cx="525.30" cy="361.80" r="3.20" fill="#1010d2"/><circle cx="525.60" cy="362.00" r="1.28" fill="#0a0aa8"/></g>
<g filter="url(#o0)"><circle cx="536.40" cy="380.40" r="3.20" fill="#1010d2"/><circle cx="536.70" cy="380.60" r="1.28" fill="#0a0aa8"/></g>
<g filter="url(#o0)"><circle cx="519.50" cy="389.00" r="3.20" fill="#1010d2"/><circle cx="519.80" cy="389.20" r="1.28" fill="#0a0aa8"/></g>
<g filter="url(#o0)"><circle cx="540.10" cy="389.50" r="3.20" fill="#1010d2"/><circle cx="540.40" cy="389.70" r="1.28" fill="#0a0aa8"/></g>
<ellipse cx="527.50" cy="360.50" rx="2.00" ry="2.00" fill="#1010d2" filter="url(#b1)" opacity="1.0" transform="rotate(0 527.5 360.5)"/>
<ellipse cx="504.50" cy="372.80" rx="1.20" ry="1.80" fill="#1010d2" filter="url(#b1)" opacity="1.0" transform="rotate(0 504.5 372.8)"/>
</g>
<line x1="409.50" y1="304.60" x2="409.50" y2="398.40" stroke="#e8e8e8" stroke-width="0.9" />
<line x1="456.50" y1="304.60" x2="456.50" y2="398.40" stroke="#e8e8e8" stroke-width="0.9" />
<line x1="503.60" y1="304.60" x2="503.60" y2="398.40" stroke="#e8e8e8" stroke-width="0.9" />
<line x1="362.30" y1="351.40" x2="551.00" y2="351.40" stroke="#e8e8e8" stroke-width="0.9" />
<rect x="400.70" y="348.40" width="7.20" height="2.20" fill="#fff" stroke="none" stroke-width="0.7" />
<text x="407.70" y="358.45" font-size="6.8" text-anchor="end" fill="#d00010" textLength="21.00" lengthAdjust="spacingAndGlyphs" >Cit-H3</text>
<text x="404.60" y="365.05" font-size="6.8" text-anchor="end" fill="#2020e0" textLength="14.50" lengthAdjust="spacingAndGlyphs" >DNA</text>
<rect x="587.10" y="289.00" width="3.60" height="3.60" fill="#6d95c8" stroke="#4a6fa0" stroke-width="0.5" />
<text x="594.30" y="293.07" font-size="6.3" fill="#2a2a2a" textLength="25.90" lengthAdjust="spacingAndGlyphs" >HL-60 CT</text>
<circle cx="635.90" cy="290.80" r="1.90" fill="#f4b5a6" stroke="#cf8878" stroke-width="0.5" />
<text x="641.70" y="293.07" font-size="6.3" fill="#2a2a2a" textLength="43.00" lengthAdjust="spacingAndGlyphs" >HL-60 XKR8 KO</text>
<line x1="590.10" y1="306.10" x2="590.10" y2="382.30" stroke="#333" stroke-width="0.7" />
<line x1="587.90" y1="382.30" x2="590.10" y2="382.30" stroke="#333" stroke-width="0.7" />
<text x="585.40" y="384.68" font-size="6.6" text-anchor="end" fill="#2a2a2a" >0</text>
<line x1="587.90" y1="367.06" x2="590.10" y2="367.06" stroke="#333" stroke-width="0.7" />
<text x="585.40" y="369.44" font-size="6.6" text-anchor="end" fill="#2a2a2a" >20</text>
<line x1="587.90" y1="351.82" x2="590.10" y2="351.82" stroke="#333" stroke-width="0.7" />
<text x="585.40" y="354.20" font-size="6.6" text-anchor="end" fill="#2a2a2a" >40</text>
<line x1="587.90" y1="336.58" x2="590.10" y2="336.58" stroke="#333" stroke-width="0.7" />
<text x="585.40" y="338.96" font-size="6.6" text-anchor="end" fill="#2a2a2a" >60</text>
<line x1="587.90" y1="321.34" x2="590.10" y2="321.34" stroke="#333" stroke-width="0.7" />
<text x="585.40" y="323.72" font-size="6.6" text-anchor="end" fill="#2a2a2a" >80</text>
<line x1="587.90" y1="306.10" x2="590.10" y2="306.10" stroke="#333" stroke-width="0.7" />
<text x="585.40" y="308.48" font-size="6.6" text-anchor="end" fill="#2a2a2a" >100</text>
<line x1="590.10" y1="382.30" x2="681.60" y2="382.30" stroke="#333" stroke-width="0.7" />
<text x="568.20" y="347.03" font-size="7.3" text-anchor="middle" fill="#2a2a2a" textLength="27.50" lengthAdjust="spacingAndGlyphs" transform="rotate(-90 568.20 344.40)" >NETs (%)</text>
<line x1="601.00" y1="382.30" x2="601.00" y2="384.50" stroke="#333" stroke-width="0.7" />
<rect x="595.10" y="380.70" width="3.20" height="3.20" fill="#6d95c8" stroke="#4a6fa0" stroke-width="0.5" />
<rect x="597.80" y="380.70" width="3.20" height="3.20" fill="#6d95c8" stroke="#4a6fa0" stroke-width="0.5" />
<rect x="592.40" y="378.41" width="3.20" height="3.20" fill="#6d95c8" stroke="#4a6fa0" stroke-width="0.5" />
<rect x="595.10" y="376.89" width="3.20" height="3.20" fill="#6d95c8" stroke="#4a6fa0" stroke-width="0.5" />
<rect x="597.80" y="375.37" width="3.20" height="3.20" fill="#6d95c8" stroke="#4a6fa0" stroke-width="0.5" />
<rect x="595.10" y="373.84" width="3.20" height="3.20" fill="#6d95c8" stroke="#4a6fa0" stroke-width="0.5" />
<rect x="592.40" y="373.08" width="3.20" height="3.20" fill="#6d95c8" stroke="#4a6fa0" stroke-width="0.5" />
<rect x="597.80" y="372.32" width="3.20" height="3.20" fill="#6d95c8" stroke="#4a6fa0" stroke-width="0.5" />
<line x1="596.70" y1="374.71" x2="596.70" y2="381.32" stroke="#4a4a4a" stroke-width="0.55" />
<line x1="594.90" y1="374.71" x2="598.50" y2="374.71" stroke="#4a4a4a" stroke-width="0.55" />
<line x1="594.90" y1="381.32" x2="598.50" y2="381.32" stroke="#4a4a4a" stroke-width="0.55" />
<line x1="593.20" y1="378.01" x2="600.20" y2="378.01" stroke="#4a4a4a" stroke-width="0.55" />
<circle cx="605.30" cy="382.30" r="1.75" fill="#f4b5a6" stroke="#cf8878" stroke-width="0.5" />
<circle cx="608.00" cy="381.54" r="1.75" fill="#f4b5a6" stroke="#cf8878" stroke-width="0.5" />
<circle cx="602.60" cy="380.78" r="1.75" fill="#f4b5a6" stroke="#cf8878" stroke-width="0.5" />
<circle cx="605.30" cy="380.01" r="1.75" fill="#f4b5a6" stroke="#cf8878" stroke-width="0.5" />
<circle cx="608.00" cy="379.25" r="1.75" fill="#f4b5a6" stroke="#cf8878" stroke-width="0.5" />
<circle cx="602.60" cy="378.49" r="1.75" fill="#f4b5a6" stroke="#cf8878" stroke-width="0.5" />
<circle cx="605.30" cy="377.73" r="1.75" fill="#f4b5a6" stroke="#cf8878" stroke-width="0.5" />
<circle cx="608.00" cy="375.44" r="1.75" fill="#f4b5a6" stroke="#cf8878" stroke-width="0.5" />
<line x1="605.30" y1="377.22" x2="605.30" y2="381.66" stroke="#4a4a4a" stroke-width="0.55" />
<line x1="603.50" y1="377.22" x2="607.10" y2="377.22" stroke="#4a4a4a" stroke-width="0.55" />
<line x1="603.50" y1="381.66" x2="607.10" y2="381.66" stroke="#4a4a4a" stroke-width="0.55" />
<line x1="601.80" y1="379.44" x2="608.80" y2="379.44" stroke="#4a4a4a" stroke-width="0.55" />
<text x="604.20" y="389.40" font-size="6.6" fill="#2a2a2a" text-anchor="end" transform="rotate(-45 604.20 389.40)">Vehicle</text>
<line x1="624.00" y1="382.30" x2="624.00" y2="384.50" stroke="#333" stroke-width="0.7" />
<rect x="618.10" y="338.79" width="3.20" height="3.20" fill="#6d95c8" stroke="#4a6fa0" stroke-width="0.5" />
<rect x="620.80" y="337.27" width="3.20" height="3.20" fill="#6d95c8" stroke="#4a6fa0" stroke-width="0.5" />
<rect x="618.10" y="333.46" width="3.20" height="3.20" fill="#6d95c8" stroke="#4a6fa0" stroke-width="0.5" />
<rect x="618.10" y="324.31" width="3.20" height="3.20" fill="#6d95c8" stroke="#4a6fa0" stroke-width="0.5" />
<rect x="620.80" y="323.55" width="3.20" height="3.20" fill="#6d95c8" stroke="#4a6fa0" stroke-width="0.5" />
<rect x="618.10" y="320.50" width="3.20" height="3.20" fill="#6d95c8" stroke="#4a6fa0" stroke-width="0.5" />
<rect x="618.10" y="316.69" width="3.20" height="3.20" fill="#6d95c8" stroke="#4a6fa0" stroke-width="0.5" />
<rect x="620.80" y="315.93" width="3.20" height="3.20" fill="#6d95c8" stroke="#4a6fa0" stroke-width="0.5" />
<rect x="618.10" y="310.60" width="3.20" height="3.20" fill="#6d95c8" stroke="#4a6fa0" stroke-width="0.5" />
<line x1="619.70" y1="316.22" x2="619.70" y2="336.12" stroke="#4a4a4a" stroke-width="0.55" />
<line x1="617.90" y1="316.22" x2="621.50" y2="316.22" stroke="#4a4a4a" stroke-width="0.55" />
<line x1="617.90" y1="336.12" x2="621.50" y2="336.12" stroke="#4a4a4a" stroke-width="0.55" />
<line x1="616.20" y1="326.17" x2="623.20" y2="326.17" stroke="#4a4a4a" stroke-width="0.55" />
<circle cx="628.30" cy="382.30" r="1.75" fill="#f4b5a6" stroke="#cf8878" stroke-width="0.5" />
<circle cx="631.00" cy="382.30" r="1.75" fill="#f4b5a6" stroke="#cf8878" stroke-width="0.5" />
<circle cx="625.60" cy="382.30" r="1.75" fill="#f4b5a6" stroke="#cf8878" stroke-width="0.5" />
<circle cx="629.65" cy="382.30" r="1.75" fill="#f4b5a6" stroke="#cf8878" stroke-width="0.5" />
<circle cx="628.30" cy="376.20" r="1.75" fill="#f4b5a6" stroke="#cf8878" stroke-width="0.5" />
<circle cx="628.30" cy="373.16" r="1.75" fill="#f4b5a6" stroke="#cf8878" stroke-width="0.5" />
<circle cx="628.30" cy="363.25" r="1.75" fill="#f4b5a6" stroke="#cf8878" stroke-width="0.5" />
<circle cx="628.30" cy="360.20" r="1.75" fill="#f4b5a6" stroke="#cf8878" stroke-width="0.5" />
<circle cx="628.30" cy="349.53" r="1.75" fill="#f4b5a6" stroke="#cf8878" stroke-width="0.5" />
<line x1="628.30" y1="360.34" x2="628.30" y2="382.30" stroke="#4a4a4a" stroke-width="0.55" />
<line x1="626.50" y1="360.34" x2="630.10" y2="360.34" stroke="#4a4a4a" stroke-width="0.55" />
<line x1="624.80" y1="372.39" x2="631.80" y2="372.39" stroke="#4a4a4a" stroke-width="0.55" />
<text x="627.20" y="389.40" font-size="6.6" fill="#2a2a2a" text-anchor="end" transform="rotate(-45 627.20 389.40)">PMA</text>
<line x1="647.50" y1="382.30" x2="647.50" y2="384.50" stroke="#333" stroke-width="0.7" />
<rect x="641.60" y="347.17" width="3.20" height="3.20" fill="#6d95c8" stroke="#4a6fa0" stroke-width="0.5" />
<rect x="641.60" y="344.12" width="3.20" height="3.20" fill="#6d95c8" stroke="#4a6fa0" stroke-width="0.5" />
<rect x="641.60" y="341.08" width="3.20" height="3.20" fill="#6d95c8" stroke="#4a6fa0" stroke-width="0.5" />
<rect x="644.30" y="340.31" width="3.20" height="3.20" fill="#6d95c8" stroke="#4a6fa0" stroke-width="0.5" />
<rect x="641.60" y="325.84" width="3.20" height="3.20" fill="#6d95c8" stroke="#4a6fa0" stroke-width="0.5" />
<rect x="641.60" y="319.74" width="3.20" height="3.20" fill="#6d95c8" stroke="#4a6fa0" stroke-width="0.5" />
<rect x="641.60" y="315.93" width="3.20" height="3.20" fill="#6d95c8" stroke="#4a6fa0" stroke-width="0.5" />
<rect x="641.60" y="304.50" width="3.20" height="3.20" fill="#6d95c8" stroke="#4a6fa0" stroke-width="0.5" />
<line x1="643.20" y1="315.88" x2="643.20" y2="346.99" stroke="#4a4a4a" stroke-width="0.55" />
<line x1="641.40" y1="315.88" x2="645.00" y2="315.88" stroke="#4a4a4a" stroke-width="0.55" />
<line x1="641.40" y1="346.99" x2="645.00" y2="346.99" stroke="#4a4a4a" stroke-width="0.55" />
<line x1="639.70" y1="331.44" x2="646.70" y2="331.44" stroke="#4a4a4a" stroke-width="0.55" />
<circle cx="651.80" cy="378.49" r="1.75" fill="#f4b5a6" stroke="#cf8878" stroke-width="0.5" />
<circle cx="651.80" cy="375.44" r="1.75" fill="#f4b5a6" stroke="#cf8878" stroke-width="0.5" />
<circle cx="654.50" cy="373.92" r="1.75" fill="#f4b5a6" stroke="#cf8878" stroke-width="0.5" />
<circle cx="651.80" cy="372.39" r="1.75" fill="#f4b5a6" stroke="#cf8878" stroke-width="0.5" />
<circle cx="654.50" cy="370.87" r="1.75" fill="#f4b5a6" stroke="#cf8878" stroke-width="0.5" />
<circle cx="649.10" cy="370.11" r="1.75" fill="#f4b5a6" stroke="#cf8878" stroke-width="0.5" />
<circle cx="651.80" cy="369.35" r="1.75" fill="#f4b5a6" stroke="#cf8878" stroke-width="0.5" />
<circle cx="654.50" cy="367.82" r="1.75" fill="#f4b5a6" stroke="#cf8878" stroke-width="0.5" />
<circle cx="649.10" cy="367.06" r="1.75" fill="#f4b5a6" stroke="#cf8878" stroke-width="0.5" />
<circle cx="651.80" cy="365.54" r="1.75" fill="#f4b5a6" stroke="#cf8878" stroke-width="0.5" />
<circle cx="654.50" cy="364.01" r="1.75" fill="#f4b5a6" stroke="#cf8878" stroke-width="0.5" />
<line x1="651.80" y1="366.09" x2="651.80" y2="374.82" stroke="#4a4a4a" stroke-width="0.55" />
<line x1="650.00" y1="366.09" x2="653.60" y2="366.09" stroke="#4a4a4a" stroke-width="0.55" />
<line x1="650.00" y1="374.82" x2="653.60" y2="374.82" stroke="#4a4a4a" stroke-width="0.55" />
<line x1="648.30" y1="370.45" x2="655.30" y2="370.45" stroke="#4a4a4a" stroke-width="0.55" />
<text x="650.70" y="389.40" font-size="6.6" fill="#2a2a2a" text-anchor="end" transform="rotate(-45 650.70 389.40)">A23187</text>
<line x1="670.50" y1="382.30" x2="670.50" y2="384.50" stroke="#333" stroke-width="0.7" />
<rect x="664.60" y="363.94" width="3.20" height="3.20" fill="#6d95c8" stroke="#4a6fa0" stroke-width="0.5" />
<rect x="667.30" y="362.41" width="3.20" height="3.20" fill="#6d95c8" stroke="#4a6fa0" stroke-width="0.5" />
<rect x="664.60" y="359.36" width="3.20" height="3.20" fill="#6d95c8" stroke="#4a6fa0" stroke-width="0.5" />
<rect x="664.60" y="349.46" width="3.20" height="3.20" fill="#6d95c8" stroke="#4a6fa0" stroke-width="0.5" />
<rect x="667.30" y="348.70" width="3.20" height="3.20" fill="#6d95c8" stroke="#4a6fa0" stroke-width="0.5" />
<rect x="664.60" y="324.31" width="3.20" height="3.20" fill="#6d95c8" stroke="#4a6fa0" stroke-width="0.5" />
<rect x="667.30" y="323.55" width="3.20" height="3.20" fill="#6d95c8" stroke="#4a6fa0" stroke-width="0.5" />
<rect x="661.90" y="322.03" width="3.20" height="3.20" fill="#6d95c8" stroke="#4a6fa0" stroke-width="0.5" />
<line x1="666.20" y1="327.64" x2="666.20" y2="364.00" stroke="#4a4a4a" stroke-width="0.55" />
<line x1="664.40" y1="327.64" x2="668.00" y2="327.64" stroke="#4a4a4a" stroke-width="0.55" />
<line x1="664.40" y1="364.00" x2="668.00" y2="364.00" stroke="#4a4a4a" stroke-width="0.55" />
<line x1="662.70" y1="345.82" x2="669.70" y2="345.82" stroke="#4a4a4a" stroke-width="0.55" />
<circle cx="674.80" cy="382.30" r="1.75" fill="#f4b5a6" stroke="#cf8878" stroke-width="0.5" />
<circle cx="677.50" cy="382.30" r="1.75" fill="#f4b5a6" stroke="#cf8878" stroke-width="0.5" />
<circle cx="672.10" cy="382.30" r="1.75" fill="#f4b5a6" stroke="#cf8878" stroke-width="0.5" />
<circle cx="676.15" cy="380.78" r="1.75" fill="#f4b5a6" stroke="#cf8878" stroke-width="0.5" />
<circle cx="673.45" cy="379.25" r="1.75" fill="#f4b5a6" stroke="#cf8878" stroke-width="0.5" />
<circle cx="676.15" cy="376.97" r="1.75" fill="#f4b5a6" stroke="#cf8878" stroke-width="0.5" />
<circle cx="674.80" cy="373.92" r="1.75" fill="#f4b5a6" stroke="#cf8878" stroke-width="0.5" />
<circle cx="674.80" cy="370.87" r="1.75" fill="#f4b5a6" stroke="#cf8878" stroke-width="0.5" />
<circle cx="674.80" cy="361.73" r="1.75" fill="#f4b5a6" stroke="#cf8878" stroke-width="0.5" />
<line x1="674.80" y1="369.79" x2="674.80" y2="382.30" stroke="#4a4a4a" stroke-width="0.55" />
<line x1="673.00" y1="369.79" x2="676.60" y2="369.79" stroke="#4a4a4a" stroke-width="0.55" />
<line x1="671.30" y1="376.71" x2="678.30" y2="376.71" stroke="#4a4a4a" stroke-width="0.55" />
<text x="673.70" y="389.40" font-size="6.6" fill="#2a2a2a" text-anchor="end" transform="rotate(-45 673.70 389.40)">LPS</text>
<text x="622.10" y="308.08" font-size="6.6" text-anchor="middle" fill="#2a2a2a" >&lt;0.0001</text>
<line x1="616.00" y1="309.40" x2="630.70" y2="309.40" stroke="#333" stroke-width="0.7" />
<text x="645.70" y="302.38" font-size="6.6" text-anchor="middle" fill="#2a2a2a" >&lt;0.0001</text>
<line x1="639.00" y1="303.60" x2="653.80" y2="303.60" stroke="#333" stroke-width="0.7" />
<text x="669.70" y="318.08" font-size="6.6" text-anchor="middle" fill="#2a2a2a" >&lt;0.0001</text>
<line x1="662.40" y1="319.50" x2="677.30" y2="319.50" stroke="#333" stroke-width="0.7" />
<text x="602.00" y="368.18" font-size="6.6" text-anchor="middle" fill="#2a2a2a" >&gt;0.9999</text>
<line x1="592.80" y1="370.20" x2="607.70" y2="370.20" stroke="#333" stroke-width="0.7" />
</svg>
</body></html>
